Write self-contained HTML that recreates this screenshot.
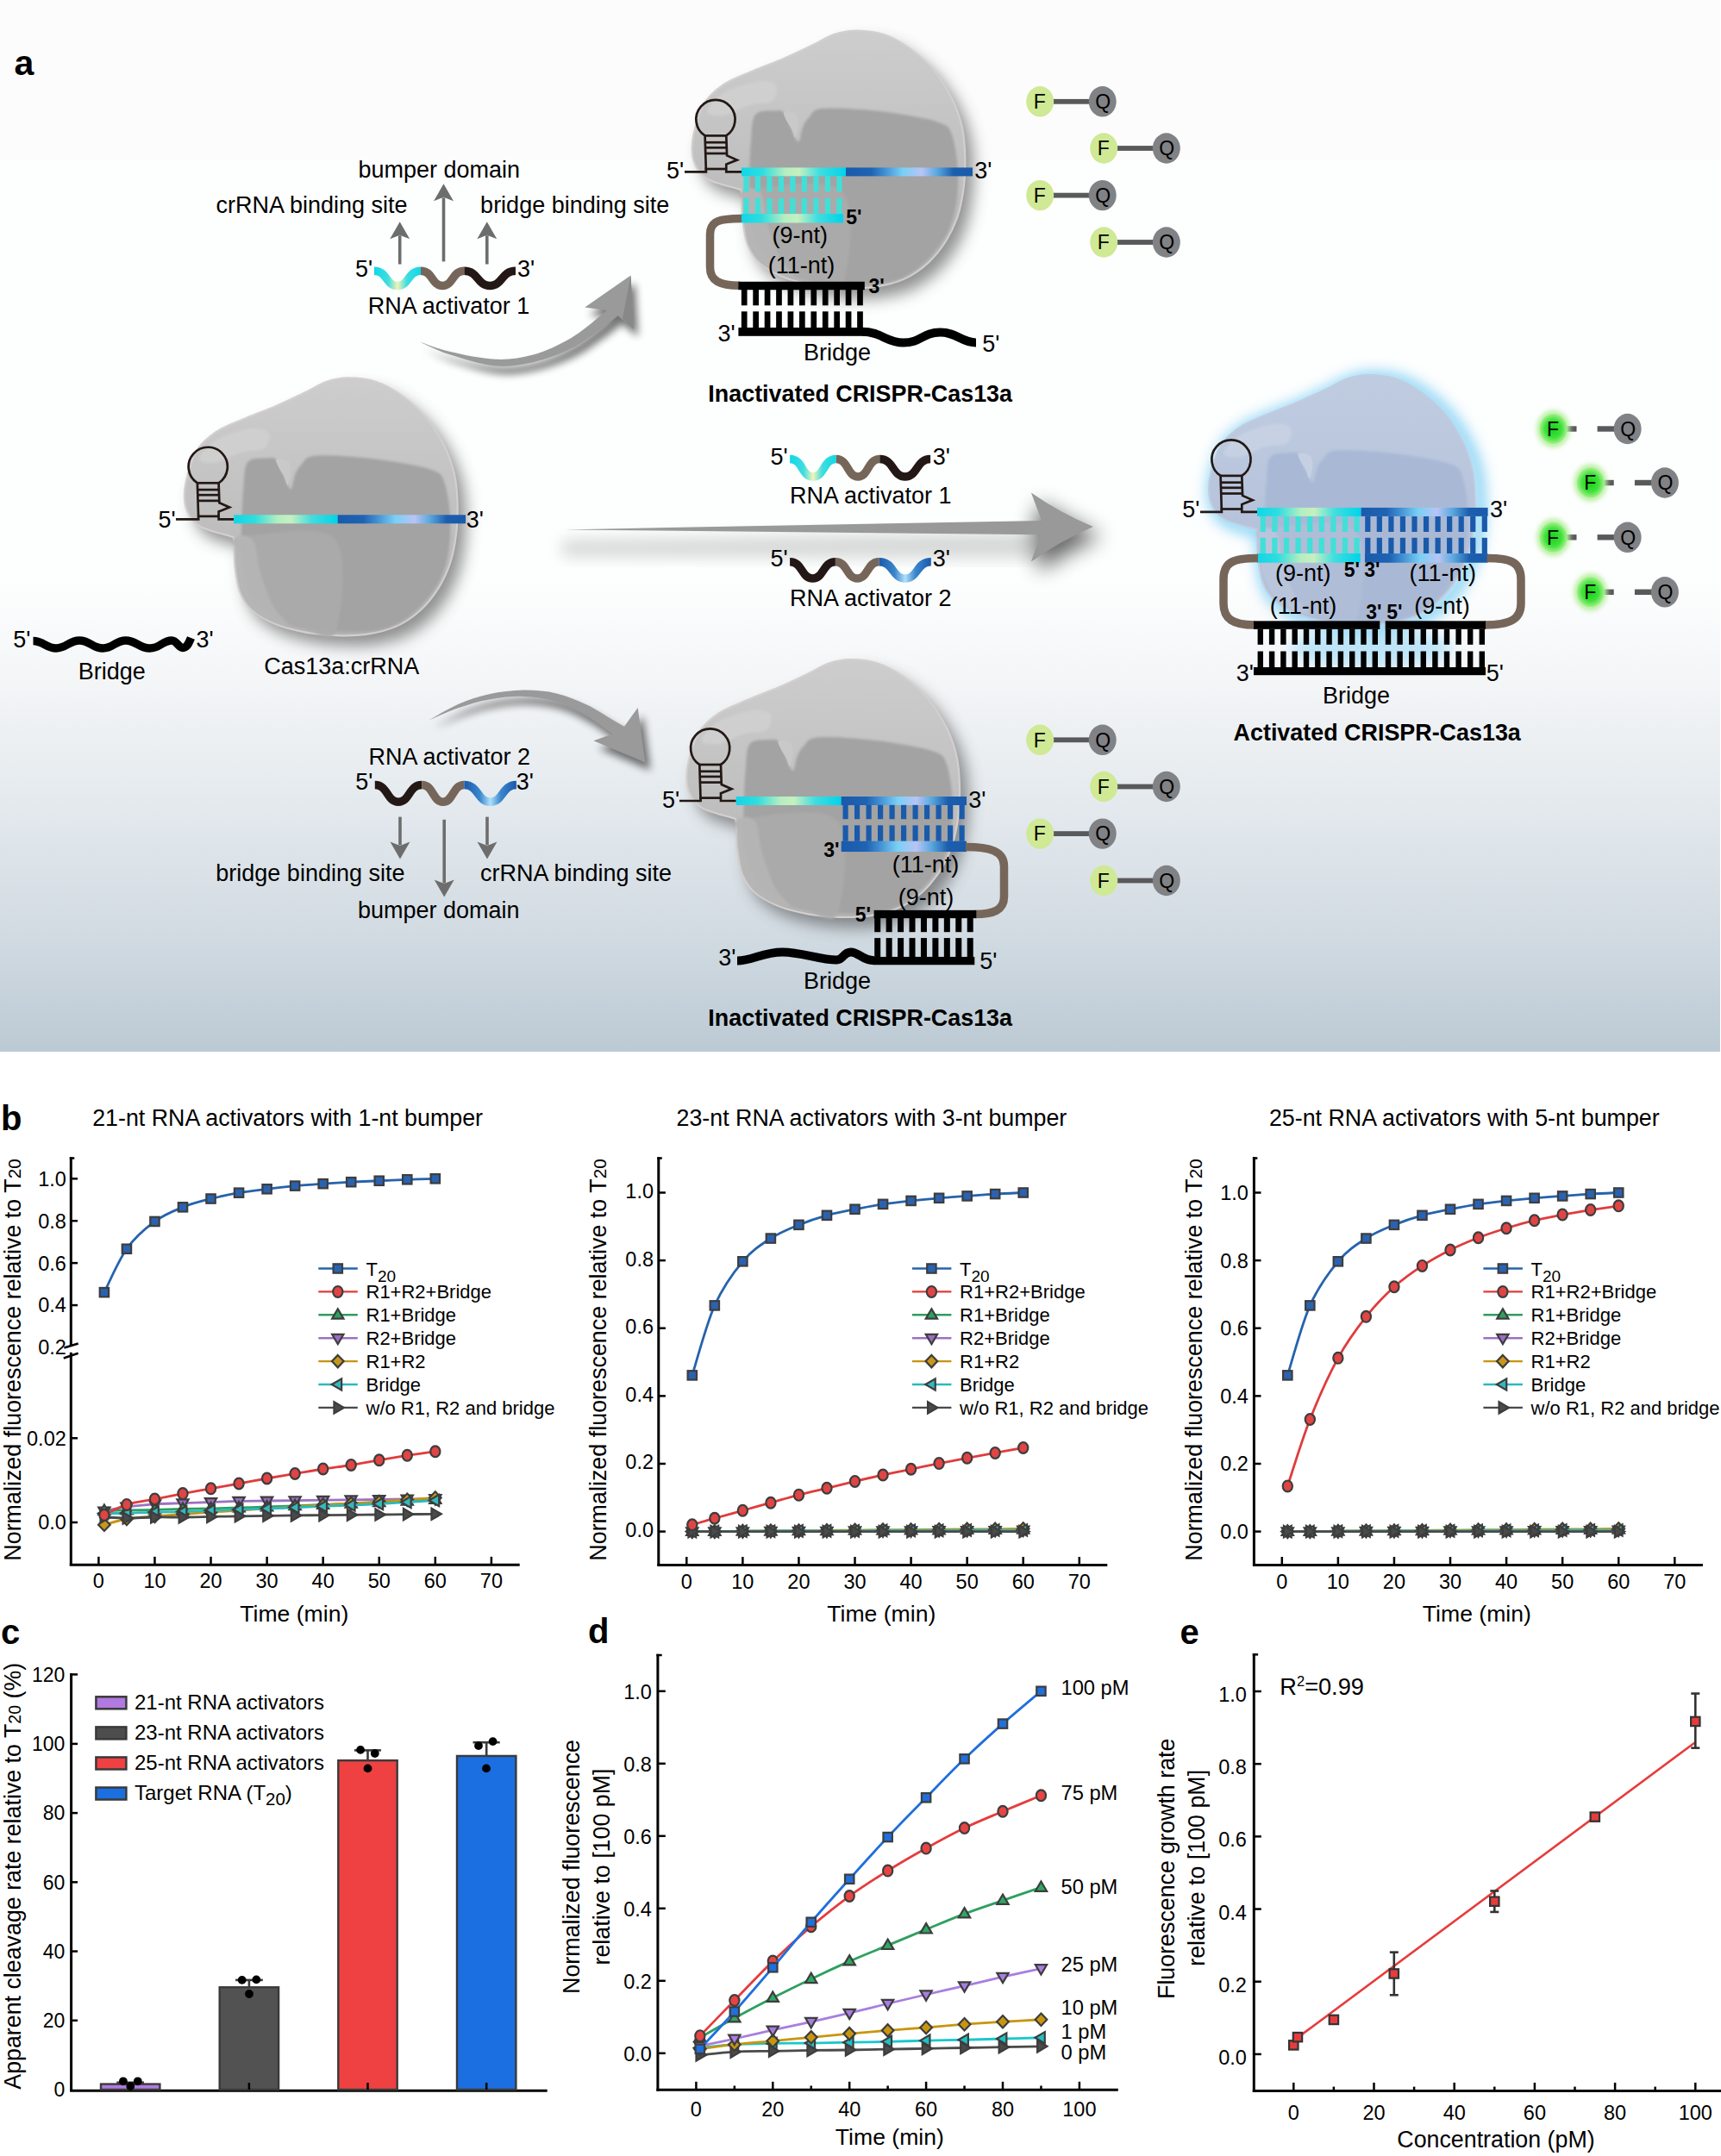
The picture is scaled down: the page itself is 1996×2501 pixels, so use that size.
<!DOCTYPE html><html><head><meta charset="utf-8"><title>Figure</title><style>html,body{margin:0;padding:0;background:#fff;}svg{display:block;}</style></head><body><svg width="1996" height="2501" viewBox="0 0 1996 2501" font-family='"Liberation Sans", Arial, sans-serif'><defs><linearGradient id="bgA" x1="0" y1="0" x2="0" y2="1"><stop offset="0" stop-color="#fdfefe"/><stop offset="0.55" stop-color="#fdfefe"/><stop offset="0.62" stop-color="#f7f8f9"/><stop offset="0.75" stop-color="#e6ebef"/><stop offset="0.88" stop-color="#d3dce3"/><stop offset="1" stop-color="#bccad4"/></linearGradient><filter id="shadow" x="-30%" y="-30%" width="160%" height="160%"><feGaussianBlur stdDeviation="9"/></filter><filter id="shadow2" x="-30%" y="-60%" width="160%" height="260%"><feGaussianBlur stdDeviation="5"/></filter><filter id="shadowH" x="-100%" y="-100%" width="300%" height="300%"><feGaussianBlur stdDeviation="12"/></filter><filter id="glow" x="-30%" y="-30%" width="160%" height="160%"><feGaussianBlur stdDeviation="8"/></filter><filter id="fglow" x="-60%" y="-60%" width="220%" height="220%"><feGaussianBlur stdDeviation="2.5"/></filter><filter id="soft" x="-10%" y="-10%" width="120%" height="120%"><feGaussianBlur stdDeviation="1.6"/></filter><linearGradient id="blobG" x1="0" y1="0" x2="0" y2="1"><stop offset="0" stop-color="#cdcdcd"/><stop offset="0.45" stop-color="#c2c2c2"/><stop offset="1" stop-color="#b2b2b2"/></linearGradient><linearGradient id="blobIn" x1="0" y1="0" x2="1" y2="1"><stop offset="0" stop-color="#a9a9a9"/><stop offset="1" stop-color="#a0a0a0"/></linearGradient><linearGradient id="blobGB" x1="0" y1="0" x2="0" y2="1"><stop offset="0" stop-color="#c0cce0"/><stop offset="0.45" stop-color="#b8c5dc"/><stop offset="1" stop-color="#aebcd5"/></linearGradient><linearGradient id="blobInB" x1="0" y1="0" x2="1" y2="1"><stop offset="0" stop-color="#adbad2"/><stop offset="1" stop-color="#a7b5cf"/></linearGradient><linearGradient id="cyanG" x1="0" y1="0" x2="1" y2="0"><stop offset="0" stop-color="#12d6e6"/><stop offset="0.2" stop-color="#2edde0"/><stop offset="0.42" stop-color="#b4eec0"/><stop offset="0.55" stop-color="#c6f0c0"/><stop offset="0.75" stop-color="#40dde0"/><stop offset="1" stop-color="#00d4e8"/></linearGradient><linearGradient id="blueG" x1="0" y1="0" x2="1" y2="0"><stop offset="0" stop-color="#1a5aab"/><stop offset="0.2" stop-color="#1f63b3"/><stop offset="0.3" stop-color="#3f8cd0"/><stop offset="0.45" stop-color="#79d0f6"/><stop offset="0.6" stop-color="#b8c4f4"/><stop offset="0.72" stop-color="#5aa8de"/><stop offset="0.85" stop-color="#1c5eae"/><stop offset="1" stop-color="#1a5aab"/></linearGradient><linearGradient id="cyanW" x1="0" y1="0" x2="1" y2="0"><stop offset="0" stop-color="#10d8e6"/><stop offset="0.3" stop-color="#40dde0"/><stop offset="0.5" stop-color="#f2f4b8"/><stop offset="0.7" stop-color="#40dde0"/><stop offset="1" stop-color="#10d8e6"/></linearGradient><linearGradient id="blueW" x1="0" y1="0" x2="1" y2="0"><stop offset="0" stop-color="#1a5aab"/><stop offset="0.3" stop-color="#3a86cc"/><stop offset="0.5" stop-color="#b0e0fa"/><stop offset="0.7" stop-color="#3a86cc"/><stop offset="1" stop-color="#1a5aab"/></linearGradient><linearGradient id="arrowG" x1="0" y1="0" x2="0" y2="1"><stop offset="0" stop-color="#bdbdbd"/><stop offset="0.5" stop-color="#9a9a9a"/><stop offset="1" stop-color="#8a8a8a"/></linearGradient><radialGradient id="fG" cx="0.5" cy="0.5" r="0.5"><stop offset="0" stop-color="#1ad21a"/><stop offset="0.6" stop-color="#3ee23a"/><stop offset="1" stop-color="#a6f08c"/></radialGradient></defs><rect width="1996" height="2501" fill="#fff"/><rect x="0" y="0" width="1995" height="1220" fill="url(#bgA)"/><rect x="0" y="0" width="1995" height="185" fill="#fdfcfd"/><path d="M652,626 L1200,617 L1200,648 L652,646 Z" fill="#000" opacity="0.15" filter="url(#shadow)"/><path d="M1190,600 L1195.9,571.4 Q1229,594.5 1267.9,611.1 Q1229,628 1195.9,651.6 L1190,625 Z" fill="#000" opacity="0.6" filter="url(#shadowH)" transform="translate(10,11)"/><path d="M655.1,614.4 L1208.1,603.9 L1195.9,571.4 Q1229,594.5 1267.9,611.1 Q1229,628 1195.9,651.6 L1206.9,620.2 Z" fill="#999999"/><path d="M485.7,395.9 C491.8,397.93 507.48,404.62 522.3,408.1 C537.12,411.58 558.62,416.22 574.6,416.8 C590.58,417.38 603.68,415.67 618.2,411.6 C632.72,407.53 648.63,399.97 661.7,392.4 C674.77,384.83 689.62,371.58 696.6,366.2 C703.58,360.82 702.43,361.12 703.6,360.1 L678.3,356.6 L731.5,319.5 L735,381.9 L716.6,366.2 L716.6,366.2 C713.27,368.82 705.75,375.5 696.6,381.9 C687.45,388.3 674.77,398.2 661.7,404.6 C648.63,411 632.72,416.97 618.2,420.3 C603.68,423.63 590.58,426.05 574.6,424.6 C558.62,423.15 537.12,416.38 522.3,411.6 C507.48,406.82 491.8,398.52 485.7,395.9 Z" fill="#000" opacity="0.55" filter="url(#shadow2)" transform="translate(5,9)"/><path d="M485.7,395.9 C491.8,397.93 507.48,404.62 522.3,408.1 C537.12,411.58 558.62,416.22 574.6,416.8 C590.58,417.38 603.68,415.67 618.2,411.6 C632.72,407.53 648.63,399.97 661.7,392.4 C674.77,384.83 689.62,371.58 696.6,366.2 C703.58,360.82 702.43,361.12 703.6,360.1 L678.3,356.6 L731.5,319.5 L735,381.9 L716.6,366.2 L716.6,366.2 C713.27,368.82 705.75,375.5 696.6,381.9 C687.45,388.3 674.77,398.2 661.7,404.6 C648.63,411 632.72,416.97 618.2,420.3 C603.68,423.63 590.58,426.05 574.6,424.6 C558.62,423.15 537.12,416.38 522.3,411.6 C507.48,406.82 491.8,398.52 485.7,395.9 Z" fill="#9a9a9a"/><path d="M731.5,319.5 L735,381.9 L722,370 Z" fill="#888"/><path d="M496.6,835.8 C502.55,832.6 520.53,821.68 532.3,816.6 C544.07,811.52 554.72,807.97 567.2,805.3 C579.68,802.63 594.13,800.75 607.2,800.6 C620.27,800.45 633.38,801.58 645.6,804.4 C657.82,807.22 669.47,812.27 680.5,817.5 C691.53,822.73 704.55,831.58 711.8,835.8 C719.05,840.02 721.97,841.63 724,842.8 L739.7,821 L748.4,884.6 L688.3,859.3 L710.1,851.5 L710.1,851.5 C705.17,848 691.25,836.75 680.5,830.5 C669.75,824.25 657.82,817.77 645.6,814 C633.38,810.23 620.27,808.33 607.2,807.9 C594.13,807.47 579.68,809.22 567.2,811.4 C554.72,813.58 544.07,816.93 532.3,821 C520.53,825.07 502.55,833.33 496.6,835.8 Z" fill="#000" opacity="0.55" filter="url(#shadow2)" transform="translate(6,9)"/><path d="M496.6,835.8 C502.55,832.6 520.53,821.68 532.3,816.6 C544.07,811.52 554.72,807.97 567.2,805.3 C579.68,802.63 594.13,800.75 607.2,800.6 C620.27,800.45 633.38,801.58 645.6,804.4 C657.82,807.22 669.47,812.27 680.5,817.5 C691.53,822.73 704.55,831.58 711.8,835.8 C719.05,840.02 721.97,841.63 724,842.8 L739.7,821 L748.4,884.6 L688.3,859.3 L710.1,851.5 L710.1,851.5 C705.17,848 691.25,836.75 680.5,830.5 C669.75,824.25 657.82,817.77 645.6,814 C633.38,810.23 620.27,808.33 607.2,807.9 C594.13,807.47 579.68,809.22 567.2,811.4 C554.72,813.58 544.07,816.93 532.3,821 C520.53,825.07 502.55,833.33 496.6,835.8 Z" fill="#9a9a9a"/><path d="M813.1,191.6 C812.33,185.02 812.17,178.08 814.3,168.4 C816.43,158.72 820.1,143.2 825.9,133.5 C831.7,123.8 839.42,116.78 849.1,110.2 C858.78,103.62 872.37,99.03 884,94 C895.63,88.97 907.28,85.03 918.9,80 C930.52,74.97 944.02,68.45 953.7,63.8 C963.38,59.15 968.87,54.82 977,52.1 C985.13,49.38 992.82,47.5 1002.5,47.5 C1012.18,47.5 1024.63,48.62 1035.1,52.1 C1045.57,55.58 1055.62,61.42 1065.3,68.4 C1074.98,75.38 1085.07,84.32 1093.2,94 C1101.33,103.68 1108.68,115.65 1114.1,126.5 C1119.52,137.35 1123.18,148.25 1125.7,159.1 C1128.22,169.95 1128.82,180.37 1129.2,191.6 C1129.58,202.83 1129.35,214.88 1128,226.5 C1126.65,238.12 1124.58,250.47 1121.1,261.3 C1117.62,272.13 1112.92,282.2 1107.1,291.5 C1101.28,300.8 1094.33,309.73 1086.2,317.1 C1078.07,324.47 1068.77,331.05 1058.3,335.7 C1047.83,340.35 1035.02,343.25 1023.4,345 C1011.78,346.75 1000.22,346.58 988.6,346.2 C976.98,345.82 965.32,344.83 953.7,342.7 C942.08,340.57 929.35,337.67 918.9,333.4 C908.45,329.13 897.98,323.3 891,317.1 C884.02,310.9 880.3,304.72 877,296.2 C873.7,287.68 872.37,276.07 871.2,266 C870.03,255.93 870.97,241.62 870,235.8 C869.03,229.98 868.88,232.65 865.4,231.1 C861.92,229.55 854.92,228.43 849.1,226.5 C843.28,224.57 835.53,222.6 830.5,219.5 C825.47,216.4 821.8,212.55 818.9,207.9 C816,203.25 813.87,198.18 813.1,191.6Z" fill="#4a4a4a" opacity="0.6" filter="url(#shadow)"/><path d="M803.1,179.6 C802.33,173.02 802.17,166.08 804.3,156.4 C806.43,146.72 810.1,131.2 815.9,121.5 C821.7,111.8 829.42,104.78 839.1,98.2 C848.78,91.62 862.37,87.03 874,82 C885.63,76.97 897.28,73.03 908.9,68 C920.52,62.97 934.02,56.45 943.7,51.8 C953.38,47.15 958.87,42.82 967,40.1 C975.13,37.38 982.82,35.5 992.5,35.5 C1002.18,35.5 1014.63,36.62 1025.1,40.1 C1035.57,43.58 1045.62,49.42 1055.3,56.4 C1064.98,63.38 1075.07,72.32 1083.2,82 C1091.33,91.68 1098.68,103.65 1104.1,114.5 C1109.52,125.35 1113.18,136.25 1115.7,147.1 C1118.22,157.95 1118.82,168.37 1119.2,179.6 C1119.58,190.83 1119.35,202.88 1118,214.5 C1116.65,226.12 1114.58,238.47 1111.1,249.3 C1107.62,260.13 1102.92,270.2 1097.1,279.5 C1091.28,288.8 1084.33,297.73 1076.2,305.1 C1068.07,312.47 1058.77,319.05 1048.3,323.7 C1037.83,328.35 1025.02,331.25 1013.4,333 C1001.78,334.75 990.22,334.58 978.6,334.2 C966.98,333.82 955.32,332.83 943.7,330.7 C932.08,328.57 919.35,325.67 908.9,321.4 C898.45,317.13 887.98,311.3 881,305.1 C874.02,298.9 870.3,292.72 867,284.2 C863.7,275.68 862.37,264.07 861.2,254 C860.03,243.93 860.97,229.62 860,223.8 C859.03,217.98 858.88,220.65 855.4,219.1 C851.92,217.55 844.92,216.43 839.1,214.5 C833.28,212.57 825.53,210.6 820.5,207.5 C815.47,204.4 811.8,200.55 808.9,195.9 C806,191.25 803.87,186.18 803.1,179.6Z" fill="url(#blobG)" stroke="#d4cfcf" stroke-width="2.2"/><path d="M876,133.1 C880.77,127.12 894.1,128.95 899.6,128.5 C905.1,128.05 906.27,127.75 909,130.4 C911.73,133.05 913.67,139.23 916,144.4 C918.33,149.57 921.17,158.23 923,161.4 C924.83,164.57 925.67,165.73 927,163.4 C928.33,161.07 929.17,151.9 931,147.4 C932.83,142.9 934.5,139.95 938,136.4 C941.5,132.85 941.37,127.62 952,126.1 C962.63,124.58 985.75,126.13 1001.8,127.3 C1017.85,128.47 1033.58,130.58 1048.3,133.1 C1063.02,135.62 1080.8,138.52 1090.1,142.4 C1099.4,146.28 1100.6,146.33 1104.1,156.4 C1107.6,166.47 1110.72,187.32 1111.1,202.8 C1111.48,218.28 1109.9,235.73 1106.4,249.3 C1102.9,262.87 1097.85,273.35 1090.1,284.2 C1082.35,295.05 1070.73,307.03 1059.9,314.4 C1049.07,321.77 1038.65,325.9 1025.1,328.4 C1011.55,330.9 992.78,330.07 978.6,329.4 C964.42,328.73 951.43,326.9 940,324.4 C928.57,321.9 918.67,318.9 910,314.4 C901.33,309.9 894,304.9 888,297.4 C882,289.9 877.17,279.9 874,269.4 C870.83,258.9 869.83,245.23 869,234.4 C868.17,223.57 868.67,216.07 869,204.4 C869.33,192.73 869.83,176.28 871,164.4 C872.17,152.52 871.23,139.08 876,133.1Z" fill="#a3a3a3" filter="url(#soft)"/><path d="M866,221.4 C884,218.4 957.33,203.4 976,221.4 C994.67,239.4 984,312.07 978,329.4 C972,346.73 951.33,327.73 940,325.4 C928.67,323.07 918.67,319.9 910,315.4 C901.33,310.9 894,305.9 888,298.4 C882,290.9 877.33,280.23 874,270.4 C870.67,260.57 869.33,247.57 868,239.4 C866.67,231.23 848,224.4 866,221.4Z" fill="#ababab" opacity="0.9" filter="url(#soft)"/><path d="M862,221.4 C865.17,216.73 877.33,217.07 882,223.4 C886.67,229.73 886.17,246.73 890,259.4 C893.83,272.07 899.67,289.07 905,299.4 C910.33,309.73 922.83,318.73 922,321.4 C921.17,324.07 906.67,318.4 900,315.4 C893.33,312.4 887.17,309.07 882,303.4 C876.83,297.73 872.17,290.07 869,281.4 C865.83,272.73 864.17,261.4 863,251.4 C861.83,241.4 858.83,226.07 862,221.4Z" fill="#b6b6b6" opacity="0.9" filter="url(#soft)"/><path d="M909,130.4 C909.67,128.73 913.5,128.9 916,129.4 C918.5,129.9 922.33,130.9 924,133.4 C925.67,135.9 926,140.73 926,144.4 C926,148.07 924.67,152.9 924,155.4 C923.33,157.9 923,160.4 922,159.4 C921,158.4 919.67,152.73 918,149.4 C916.33,146.07 913.5,142.57 912,139.4 C910.5,136.23 908.33,132.07 909,130.4Z" fill="#c9c9c9"/><path d="M820,129.4 C820,125.07 830,113.23 840,107.4 C850,101.57 870,95.73 880,94.4 C890,93.07 897.5,95.57 900,99.4 C902.5,103.23 900,113.73 895,117.4 C890,121.07 879.17,118.73 870,121.4 C860.83,124.07 848.33,132.07 840,133.4 C831.67,134.73 820,133.73 820,129.4Z" fill="#d2d2d2" opacity="0.8" filter="url(#soft)"/><path d="M224.4,594.5 C223.63,587.92 223.47,580.98 225.6,571.3 C227.73,561.62 231.4,546.1 237.2,536.4 C243,526.7 250.72,519.68 260.4,513.1 C270.08,506.52 283.67,501.93 295.3,496.9 C306.93,491.87 318.58,487.93 330.2,482.9 C341.82,477.87 355.32,471.35 365,466.7 C374.68,462.05 380.17,457.72 388.3,455 C396.43,452.28 404.12,450.4 413.8,450.4 C423.48,450.4 435.93,451.52 446.4,455 C456.87,458.48 466.92,464.32 476.6,471.3 C486.28,478.28 496.37,487.22 504.5,496.9 C512.63,506.58 519.98,518.55 525.4,529.4 C530.82,540.25 534.48,551.15 537,562 C539.52,572.85 540.12,583.27 540.5,594.5 C540.88,605.73 540.65,617.78 539.3,629.4 C537.95,641.02 535.88,653.37 532.4,664.2 C528.92,675.03 524.22,685.1 518.4,694.4 C512.58,703.7 505.63,712.63 497.5,720 C489.37,727.37 480.07,733.95 469.6,738.6 C459.13,743.25 446.32,746.15 434.7,747.9 C423.08,749.65 411.52,749.48 399.9,749.1 C388.28,748.72 376.62,747.73 365,745.6 C353.38,743.47 340.65,740.57 330.2,736.3 C319.75,732.03 309.28,726.2 302.3,720 C295.32,713.8 291.6,707.62 288.3,699.1 C285,690.58 283.67,678.97 282.5,668.9 C281.33,658.83 282.27,644.52 281.3,638.7 C280.33,632.88 280.18,635.55 276.7,634 C273.22,632.45 266.22,631.33 260.4,629.4 C254.58,627.47 246.83,625.5 241.8,622.4 C236.77,619.3 233.1,615.45 230.2,610.8 C227.3,606.15 225.17,601.08 224.4,594.5Z" fill="#4a4a4a" opacity="0.6" filter="url(#shadow)"/><path d="M214.4,582.5 C213.63,575.92 213.47,568.98 215.6,559.3 C217.73,549.62 221.4,534.1 227.2,524.4 C233,514.7 240.72,507.68 250.4,501.1 C260.08,494.52 273.67,489.93 285.3,484.9 C296.93,479.87 308.58,475.93 320.2,470.9 C331.82,465.87 345.32,459.35 355,454.7 C364.68,450.05 370.17,445.72 378.3,443 C386.43,440.28 394.12,438.4 403.8,438.4 C413.48,438.4 425.93,439.52 436.4,443 C446.87,446.48 456.92,452.32 466.6,459.3 C476.28,466.28 486.37,475.22 494.5,484.9 C502.63,494.58 509.98,506.55 515.4,517.4 C520.82,528.25 524.48,539.15 527,550 C529.52,560.85 530.12,571.27 530.5,582.5 C530.88,593.73 530.65,605.78 529.3,617.4 C527.95,629.02 525.88,641.37 522.4,652.2 C518.92,663.03 514.22,673.1 508.4,682.4 C502.58,691.7 495.63,700.63 487.5,708 C479.37,715.37 470.07,721.95 459.6,726.6 C449.13,731.25 436.32,734.15 424.7,735.9 C413.08,737.65 401.52,737.48 389.9,737.1 C378.28,736.72 366.62,735.73 355,733.6 C343.38,731.47 330.65,728.57 320.2,724.3 C309.75,720.03 299.28,714.2 292.3,708 C285.32,701.8 281.6,695.62 278.3,687.1 C275,678.58 273.67,666.97 272.5,656.9 C271.33,646.83 272.27,632.52 271.3,626.7 C270.33,620.88 270.18,623.55 266.7,622 C263.22,620.45 256.22,619.33 250.4,617.4 C244.58,615.47 236.83,613.5 231.8,610.4 C226.77,607.3 223.1,603.45 220.2,598.8 C217.3,594.15 215.17,589.08 214.4,582.5Z" fill="url(#blobG)" stroke="#d4cfcf" stroke-width="2.2"/><path d="M287.3,536 C292.07,530.02 305.4,531.85 310.9,531.4 C316.4,530.95 317.57,530.65 320.3,533.3 C323.03,535.95 324.97,542.13 327.3,547.3 C329.63,552.47 332.47,561.13 334.3,564.3 C336.13,567.47 336.97,568.63 338.3,566.3 C339.63,563.97 340.47,554.8 342.3,550.3 C344.13,545.8 345.8,542.85 349.3,539.3 C352.8,535.75 352.67,530.52 363.3,529 C373.93,527.48 397.05,529.03 413.1,530.2 C429.15,531.37 444.88,533.48 459.6,536 C474.32,538.52 492.1,541.42 501.4,545.3 C510.7,549.18 511.9,549.23 515.4,559.3 C518.9,569.37 522.02,590.22 522.4,605.7 C522.78,621.18 521.2,638.63 517.7,652.2 C514.2,665.77 509.15,676.25 501.4,687.1 C493.65,697.95 482.03,709.93 471.2,717.3 C460.37,724.67 449.95,728.8 436.4,731.3 C422.85,733.8 404.08,732.97 389.9,732.3 C375.72,731.63 362.73,729.8 351.3,727.3 C339.87,724.8 329.97,721.8 321.3,717.3 C312.63,712.8 305.3,707.8 299.3,700.3 C293.3,692.8 288.47,682.8 285.3,672.3 C282.13,661.8 281.13,648.13 280.3,637.3 C279.47,626.47 279.97,618.97 280.3,607.3 C280.63,595.63 281.13,579.18 282.3,567.3 C283.47,555.42 282.53,541.98 287.3,536Z" fill="#a3a3a3" filter="url(#soft)"/><path d="M277.3,624.3 C295.3,621.3 368.63,606.3 387.3,624.3 C405.97,642.3 395.3,714.97 389.3,732.3 C383.3,749.63 362.63,730.63 351.3,728.3 C339.97,725.97 329.97,722.8 321.3,718.3 C312.63,713.8 305.3,708.8 299.3,701.3 C293.3,693.8 288.63,683.13 285.3,673.3 C281.97,663.47 280.63,650.47 279.3,642.3 C277.97,634.13 259.3,627.3 277.3,624.3Z" fill="#ababab" opacity="0.9" filter="url(#soft)"/><path d="M273.3,624.3 C276.47,619.63 288.63,619.97 293.3,626.3 C297.97,632.63 297.47,649.63 301.3,662.3 C305.13,674.97 310.97,691.97 316.3,702.3 C321.63,712.63 334.13,721.63 333.3,724.3 C332.47,726.97 317.97,721.3 311.3,718.3 C304.63,715.3 298.47,711.97 293.3,706.3 C288.13,700.63 283.47,692.97 280.3,684.3 C277.13,675.63 275.47,664.3 274.3,654.3 C273.13,644.3 270.13,628.97 273.3,624.3Z" fill="#b6b6b6" opacity="0.9" filter="url(#soft)"/><path d="M320.3,533.3 C320.97,531.63 324.8,531.8 327.3,532.3 C329.8,532.8 333.63,533.8 335.3,536.3 C336.97,538.8 337.3,543.63 337.3,547.3 C337.3,550.97 335.97,555.8 335.3,558.3 C334.63,560.8 334.3,563.3 333.3,562.3 C332.3,561.3 330.97,555.63 329.3,552.3 C327.63,548.97 324.8,545.47 323.3,542.3 C321.8,539.13 319.63,534.97 320.3,533.3Z" fill="#c9c9c9"/><path d="M231.3,532.3 C231.3,527.97 241.3,516.13 251.3,510.3 C261.3,504.47 281.3,498.63 291.3,497.3 C301.3,495.97 308.8,498.47 311.3,502.3 C313.8,506.13 311.3,516.63 306.3,520.3 C301.3,523.97 290.47,521.63 281.3,524.3 C272.13,526.97 259.63,534.97 251.3,536.3 C242.97,537.63 231.3,536.63 231.3,532.3Z" fill="#d2d2d2" opacity="0.8" filter="url(#soft)"/><path d="M806.8,921.2 C806.03,914.62 805.87,907.68 808,898 C810.13,888.32 813.8,872.8 819.6,863.1 C825.4,853.4 833.12,846.38 842.8,839.8 C852.48,833.22 866.07,828.63 877.7,823.6 C889.33,818.57 900.98,814.63 912.6,809.6 C924.22,804.57 937.72,798.05 947.4,793.4 C957.08,788.75 962.57,784.42 970.7,781.7 C978.83,778.98 986.52,777.1 996.2,777.1 C1005.88,777.1 1018.33,778.22 1028.8,781.7 C1039.27,785.18 1049.32,791.02 1059,798 C1068.68,804.98 1078.77,813.92 1086.9,823.6 C1095.03,833.28 1102.38,845.25 1107.8,856.1 C1113.22,866.95 1116.88,877.85 1119.4,888.7 C1121.92,899.55 1122.52,909.97 1122.9,921.2 C1123.28,932.43 1123.05,944.48 1121.7,956.1 C1120.35,967.72 1118.28,980.07 1114.8,990.9 C1111.32,1001.73 1106.62,1011.8 1100.8,1021.1 C1094.98,1030.4 1088.03,1039.33 1079.9,1046.7 C1071.77,1054.07 1062.47,1060.65 1052,1065.3 C1041.53,1069.95 1028.72,1072.85 1017.1,1074.6 C1005.48,1076.35 993.92,1076.18 982.3,1075.8 C970.68,1075.42 959.02,1074.43 947.4,1072.3 C935.78,1070.17 923.05,1067.27 912.6,1063 C902.15,1058.73 891.68,1052.9 884.7,1046.7 C877.72,1040.5 874,1034.32 870.7,1025.8 C867.4,1017.28 866.07,1005.67 864.9,995.6 C863.73,985.53 864.67,971.22 863.7,965.4 C862.73,959.58 862.58,962.25 859.1,960.7 C855.62,959.15 848.62,958.03 842.8,956.1 C836.98,954.17 829.23,952.2 824.2,949.1 C819.17,946 815.5,942.15 812.6,937.5 C809.7,932.85 807.57,927.78 806.8,921.2Z" fill="#4a4a4a" opacity="0.6" filter="url(#shadow)"/><path d="M796.8,909.2 C796.03,902.62 795.87,895.68 798,886 C800.13,876.32 803.8,860.8 809.6,851.1 C815.4,841.4 823.12,834.38 832.8,827.8 C842.48,821.22 856.07,816.63 867.7,811.6 C879.33,806.57 890.98,802.63 902.6,797.6 C914.22,792.57 927.72,786.05 937.4,781.4 C947.08,776.75 952.57,772.42 960.7,769.7 C968.83,766.98 976.52,765.1 986.2,765.1 C995.88,765.1 1008.33,766.22 1018.8,769.7 C1029.27,773.18 1039.32,779.02 1049,786 C1058.68,792.98 1068.77,801.92 1076.9,811.6 C1085.03,821.28 1092.38,833.25 1097.8,844.1 C1103.22,854.95 1106.88,865.85 1109.4,876.7 C1111.92,887.55 1112.52,897.97 1112.9,909.2 C1113.28,920.43 1113.05,932.48 1111.7,944.1 C1110.35,955.72 1108.28,968.07 1104.8,978.9 C1101.32,989.73 1096.62,999.8 1090.8,1009.1 C1084.98,1018.4 1078.03,1027.33 1069.9,1034.7 C1061.77,1042.07 1052.47,1048.65 1042,1053.3 C1031.53,1057.95 1018.72,1060.85 1007.1,1062.6 C995.48,1064.35 983.92,1064.18 972.3,1063.8 C960.68,1063.42 949.02,1062.43 937.4,1060.3 C925.78,1058.17 913.05,1055.27 902.6,1051 C892.15,1046.73 881.68,1040.9 874.7,1034.7 C867.72,1028.5 864,1022.32 860.7,1013.8 C857.4,1005.28 856.07,993.67 854.9,983.6 C853.73,973.53 854.67,959.22 853.7,953.4 C852.73,947.58 852.58,950.25 849.1,948.7 C845.62,947.15 838.62,946.03 832.8,944.1 C826.98,942.17 819.23,940.2 814.2,937.1 C809.17,934 805.5,930.15 802.6,925.5 C799.7,920.85 797.57,915.78 796.8,909.2Z" fill="url(#blobG)" stroke="#d4cfcf" stroke-width="2.2"/><path d="M869.7,862.7 C874.47,856.72 887.8,858.55 893.3,858.1 C898.8,857.65 899.97,857.35 902.7,860 C905.43,862.65 907.37,868.83 909.7,874 C912.03,879.17 914.87,887.83 916.7,891 C918.53,894.17 919.37,895.33 920.7,893 C922.03,890.67 922.87,881.5 924.7,877 C926.53,872.5 928.2,869.55 931.7,866 C935.2,862.45 935.07,857.22 945.7,855.7 C956.33,854.18 979.45,855.73 995.5,856.9 C1011.55,858.07 1027.28,860.18 1042,862.7 C1056.72,865.22 1074.5,868.12 1083.8,872 C1093.1,875.88 1094.3,875.93 1097.8,886 C1101.3,896.07 1104.42,916.92 1104.8,932.4 C1105.18,947.88 1103.6,965.33 1100.1,978.9 C1096.6,992.47 1091.55,1002.95 1083.8,1013.8 C1076.05,1024.65 1064.43,1036.63 1053.6,1044 C1042.77,1051.37 1032.35,1055.5 1018.8,1058 C1005.25,1060.5 986.48,1059.67 972.3,1059 C958.12,1058.33 945.13,1056.5 933.7,1054 C922.27,1051.5 912.37,1048.5 903.7,1044 C895.03,1039.5 887.7,1034.5 881.7,1027 C875.7,1019.5 870.87,1009.5 867.7,999 C864.53,988.5 863.53,974.83 862.7,964 C861.87,953.17 862.37,945.67 862.7,934 C863.03,922.33 863.53,905.88 864.7,894 C865.87,882.12 864.93,868.68 869.7,862.7Z" fill="#a3a3a3" filter="url(#soft)"/><path d="M859.7,951 C877.7,948 951.03,933 969.7,951 C988.37,969 977.7,1041.67 971.7,1059 C965.7,1076.33 945.03,1057.33 933.7,1055 C922.37,1052.67 912.37,1049.5 903.7,1045 C895.03,1040.5 887.7,1035.5 881.7,1028 C875.7,1020.5 871.03,1009.83 867.7,1000 C864.37,990.17 863.03,977.17 861.7,969 C860.37,960.83 841.7,954 859.7,951Z" fill="#ababab" opacity="0.9" filter="url(#soft)"/><path d="M855.7,951 C858.87,946.33 871.03,946.67 875.7,953 C880.37,959.33 879.87,976.33 883.7,989 C887.53,1001.67 893.37,1018.67 898.7,1029 C904.03,1039.33 916.53,1048.33 915.7,1051 C914.87,1053.67 900.37,1048 893.7,1045 C887.03,1042 880.87,1038.67 875.7,1033 C870.53,1027.33 865.87,1019.67 862.7,1011 C859.53,1002.33 857.87,991 856.7,981 C855.53,971 852.53,955.67 855.7,951Z" fill="#b6b6b6" opacity="0.9" filter="url(#soft)"/><path d="M902.7,860 C903.37,858.33 907.2,858.5 909.7,859 C912.2,859.5 916.03,860.5 917.7,863 C919.37,865.5 919.7,870.33 919.7,874 C919.7,877.67 918.37,882.5 917.7,885 C917.03,887.5 916.7,890 915.7,889 C914.7,888 913.37,882.33 911.7,879 C910.03,875.67 907.2,872.17 905.7,869 C904.2,865.83 902.03,861.67 902.7,860Z" fill="#c9c9c9"/><path d="M813.7,859 C813.7,854.67 823.7,842.83 833.7,837 C843.7,831.17 863.7,825.33 873.7,824 C883.7,822.67 891.2,825.17 893.7,829 C896.2,832.83 893.7,843.33 888.7,847 C883.7,850.67 872.87,848.33 863.7,851 C854.53,853.67 842.03,861.67 833.7,863 C825.37,864.33 813.7,863.33 813.7,859Z" fill="#d2d2d2" opacity="0.8" filter="url(#soft)"/><path d="M1407.52,577.69 C1406.78,571.31 1406.61,564.58 1408.69,555.19 C1410.77,545.8 1414.35,530.75 1420,521.34 C1425.66,511.93 1433.18,505.12 1442.62,498.74 C1452.06,492.35 1465.31,487.9 1476.65,483.02 C1487.99,478.14 1499.35,474.32 1510.68,469.44 C1522,464.56 1535.17,458.24 1544.61,453.73 C1554.05,449.22 1559.39,445.01 1567.33,442.38 C1575.26,439.74 1582.75,437.92 1592.19,437.92 C1601.63,437.92 1613.77,439 1623.97,442.38 C1634.18,445.76 1643.98,451.42 1653.42,458.19 C1662.86,464.96 1672.69,473.63 1680.62,483.02 C1688.55,492.41 1695.72,504.02 1701,514.55 C1706.28,525.07 1709.85,535.64 1712.31,546.17 C1714.76,556.69 1715.35,566.8 1715.72,577.69 C1716.09,588.59 1715.87,600.28 1714.55,611.55 C1713.23,622.82 1711.22,634.79 1707.82,645.3 C1704.43,655.81 1699.84,665.58 1694.17,674.6 C1688.5,683.62 1681.73,692.28 1673.8,699.43 C1665.87,706.57 1656.8,712.96 1646.59,717.47 C1636.39,721.98 1623.89,724.79 1612.57,726.49 C1601.24,728.19 1589.96,728.03 1578.63,727.66 C1567.31,727.28 1555.93,726.33 1544.61,724.26 C1533.28,722.19 1520.87,719.38 1510.68,715.24 C1500.49,711.1 1490.28,705.44 1483.47,699.43 C1476.67,693.41 1473.04,687.42 1469.83,679.16 C1466.61,670.89 1465.31,659.63 1464.17,649.86 C1463.03,640.1 1463.94,626.21 1463,620.57 C1462.06,614.93 1461.91,617.51 1458.52,616.01 C1455.12,614.51 1448.29,613.42 1442.62,611.55 C1436.95,609.67 1429.39,607.76 1424.49,604.76 C1419.58,601.75 1416.01,598.02 1413.18,593.5 C1410.35,588.99 1408.27,584.08 1407.52,577.69Z" fill="none" stroke="#6cc8f2" stroke-width="14" opacity="0.85" filter="url(#glow)"/><path d="M1402.52,574.69 C1401.78,568.31 1401.61,561.58 1403.69,552.19 C1405.77,542.8 1409.35,527.75 1415,518.34 C1420.66,508.93 1428.18,502.12 1437.62,495.74 C1447.06,489.35 1460.31,484.9 1471.65,480.02 C1482.99,475.14 1494.35,471.32 1505.68,466.44 C1517,461.56 1530.17,455.24 1539.61,450.73 C1549.05,446.22 1554.39,442.01 1562.33,439.38 C1570.26,436.74 1577.75,434.92 1587.19,434.92 C1596.63,434.92 1608.77,436 1618.97,439.38 C1629.18,442.76 1638.98,448.42 1648.42,455.19 C1657.86,461.96 1667.69,470.63 1675.62,480.02 C1683.55,489.41 1690.72,501.02 1696,511.55 C1701.28,522.07 1704.85,532.64 1707.31,543.17 C1709.76,553.69 1710.35,563.8 1710.72,574.69 C1711.09,585.59 1710.87,597.28 1709.55,608.55 C1708.23,619.82 1706.22,631.79 1702.82,642.3 C1699.43,652.81 1694.84,662.58 1689.17,671.6 C1683.5,680.62 1676.73,689.28 1668.8,696.43 C1660.87,703.57 1651.8,709.96 1641.59,714.47 C1631.39,718.98 1618.89,721.79 1607.57,723.49 C1596.24,725.19 1584.96,725.03 1573.63,724.66 C1562.31,724.28 1550.93,723.33 1539.61,721.26 C1528.28,719.19 1515.87,716.38 1505.68,712.24 C1495.49,708.1 1485.28,702.44 1478.47,696.43 C1471.67,690.41 1468.04,684.42 1464.83,676.16 C1461.61,667.89 1460.31,656.63 1459.17,646.86 C1458.03,637.1 1458.94,623.21 1458,617.57 C1457.06,611.93 1456.91,614.51 1453.52,613.01 C1450.12,611.51 1443.29,610.42 1437.62,608.55 C1431.95,606.67 1424.39,604.76 1419.49,601.76 C1414.58,598.75 1411.01,595.02 1408.18,590.5 C1405.35,585.99 1403.27,581.08 1402.52,574.69Z" fill="url(#blobGB)" stroke="#c0cce0" stroke-width="2"/><path d="M1473.6,529.59 C1478.25,523.79 1491.25,525.56 1496.61,525.13 C1501.97,524.69 1503.11,524.4 1505.78,526.97 C1508.44,529.54 1510.32,535.54 1512.6,540.55 C1514.88,545.56 1517.64,553.97 1519.42,557.04 C1521.21,560.11 1522.03,561.24 1523.33,558.98 C1524.62,556.72 1525.44,547.83 1527.22,543.46 C1529.01,539.1 1530.64,536.23 1534.05,532.79 C1537.46,529.35 1537.33,524.27 1547.7,522.8 C1558.07,521.33 1580.61,522.83 1596.26,523.96 C1611.9,525.09 1627.24,527.15 1641.59,529.59 C1655.94,532.03 1673.28,534.84 1682.35,538.61 C1691.41,542.38 1692.59,542.43 1696,552.19 C1699.41,561.95 1702.45,582.18 1702.82,597.2 C1703.2,612.22 1701.65,629.14 1698.24,642.3 C1694.83,655.46 1689.9,665.63 1682.35,676.16 C1674.79,686.68 1663.46,698.3 1652.9,705.45 C1642.34,712.6 1632.18,716.61 1618.97,719.03 C1605.76,721.45 1587.46,720.65 1573.63,720 C1559.81,719.35 1547.15,717.58 1536,715.15 C1524.85,712.72 1515.2,709.81 1506.75,705.45 C1498.3,701.08 1491.15,696.24 1485.3,688.96 C1479.45,681.69 1474.74,671.98 1471.65,661.8 C1468.56,651.62 1467.59,638.36 1466.78,627.85 C1465.96,617.34 1466.45,610.07 1466.78,598.75 C1467.1,587.43 1467.59,571.48 1468.72,559.95 C1469.86,548.42 1468.95,535.39 1473.6,529.59Z" fill="#a9b9d5" filter="url(#soft)"/><path d="M1463.85,615.24 C1481.4,612.33 1552.9,597.78 1571.1,615.24 C1589.3,632.7 1578.9,703.19 1573.05,720 C1567.2,736.81 1547.05,718.38 1536,716.12 C1524.95,713.86 1515.2,710.78 1506.75,706.42 C1498.3,702.05 1491.15,697.2 1485.3,689.93 C1479.45,682.65 1474.9,672.31 1471.65,662.77 C1468.4,653.23 1467.1,640.62 1465.8,632.7 C1464.5,624.78 1446.3,618.15 1463.85,615.24Z" fill="#b1bfd8" opacity="0.8" filter="url(#soft)"/><path d="M1459.95,615.24 C1463.04,610.71 1474.9,611.04 1479.45,617.18 C1484,623.32 1483.51,639.81 1487.25,652.1 C1490.99,664.39 1496.67,680.88 1501.88,690.9 C1507.08,700.92 1519.26,709.65 1518.45,712.24 C1517.64,714.83 1503.5,709.33 1497,706.42 C1490.5,703.51 1484.49,700.28 1479.45,694.78 C1474.41,689.28 1469.86,681.85 1466.78,673.44 C1463.69,665.03 1462.06,654.04 1460.92,644.34 C1459.79,634.64 1456.86,619.77 1459.95,615.24Z" fill="#bcc7dc" opacity="0.8" filter="url(#soft)"/><path d="M1505.78,526.97 C1506.43,525.35 1510.16,525.51 1512.6,526 C1515.04,526.49 1518.78,527.46 1520.4,529.88 C1522.03,532.3 1522.35,536.99 1522.35,540.55 C1522.35,544.11 1521.05,548.8 1520.4,551.22 C1519.75,553.64 1519.43,556.07 1518.45,555.1 C1517.47,554.13 1516.17,548.63 1514.55,545.4 C1512.92,542.17 1510.16,538.77 1508.7,535.7 C1507.24,532.63 1505.12,528.59 1505.78,526.97Z" fill="#c6d0e3"/><path d="M1419,526 C1419,521.8 1428.75,510.32 1438.5,504.66 C1448.25,499 1467.75,493.34 1477.5,492.05 C1487.25,490.76 1494.56,493.18 1497,496.9 C1499.44,500.62 1497,510.8 1492.12,514.36 C1487.25,517.92 1476.69,515.65 1467.75,518.24 C1458.81,520.83 1446.62,528.59 1438.5,529.88 C1430.38,531.17 1419,530.2 1419,526Z" fill="#ccd5e6" opacity="0.7" filter="url(#soft)"/><g fill="none" stroke="#231815" stroke-width="2.7"><path d="M794,199.4 L818.9,199.4 L817.6,157.4 A22.6,22.6 0 1 1 842.3,157.4 L843.1,180.4 L854.8,185.6 L842.3,190.6 L842.3,199.4 L860,199.4"/><line x1="817.6" y1="157.4" x2="842.3" y2="157.4"/><line x1="817.6" y1="165.2" x2="842.3" y2="165.2"/><line x1="817.6" y1="171.3" x2="842.3" y2="171.3"/><line x1="817.6" y1="178" x2="842.3" y2="178"/><line x1="817.6" y1="196" x2="842.3" y2="196"/></g><rect x="860" y="194.4" width="121" height="10" fill="url(#cyanG)"/><rect x="981" y="194.4" width="147" height="10" fill="url(#blueG)"/><rect x="862.3" y="204.3" width="6.2" height="18.1" fill="#40e0d8"/><rect x="875.8" y="204.3" width="6.2" height="18.1" fill="#40e0d8"/><rect x="889.3" y="204.3" width="6.2" height="18.1" fill="#40e0d8"/><rect x="902.8" y="204.3" width="6.2" height="18.1" fill="#40e0d8"/><rect x="916.3" y="204.3" width="6.2" height="18.1" fill="#40e0d8"/><rect x="929.8" y="204.3" width="6.2" height="18.1" fill="#40e0d8"/><rect x="943.3" y="204.3" width="6.2" height="18.1" fill="#40e0d8"/><rect x="956.8" y="204.3" width="6.2" height="18.1" fill="#40e0d8"/><rect x="970.3" y="204.3" width="6.2" height="18.1" fill="#40e0d8"/><rect x="862.3" y="229.8" width="6.2" height="18.2" fill="#40e0d8"/><rect x="875.8" y="229.8" width="6.2" height="18.2" fill="#40e0d8"/><rect x="889.3" y="229.8" width="6.2" height="18.2" fill="#40e0d8"/><rect x="902.8" y="229.8" width="6.2" height="18.2" fill="#40e0d8"/><rect x="916.3" y="229.8" width="6.2" height="18.2" fill="#40e0d8"/><rect x="929.8" y="229.8" width="6.2" height="18.2" fill="#40e0d8"/><rect x="943.3" y="229.8" width="6.2" height="18.2" fill="#40e0d8"/><rect x="956.8" y="229.8" width="6.2" height="18.2" fill="#40e0d8"/><rect x="970.3" y="229.8" width="6.2" height="18.2" fill="#40e0d8"/><rect x="860" y="248.1" width="118" height="10.4" fill="url(#cyanG)"/><path d="M860,253.5 C835,253.5 823.5,256 823.5,272 L823.5,310 C823.5,326 835,331.3 858,331.3" fill="none" stroke="#76665a" stroke-width="9.5"/><rect x="856.4" y="326.75" width="146.4" height="9.5" fill="#000"/><rect x="859.85" y="336" width="6.7" height="18.3" fill="#000"/><rect x="873.28" y="336" width="6.7" height="18.3" fill="#000"/><rect x="886.71" y="336" width="6.7" height="18.3" fill="#000"/><rect x="900.14" y="336" width="6.7" height="18.3" fill="#000"/><rect x="913.57" y="336" width="6.7" height="18.3" fill="#000"/><rect x="927" y="336" width="6.7" height="18.3" fill="#000"/><rect x="940.43" y="336" width="6.7" height="18.3" fill="#000"/><rect x="953.86" y="336" width="6.7" height="18.3" fill="#000"/><rect x="967.29" y="336" width="6.7" height="18.3" fill="#000"/><rect x="980.72" y="336" width="6.7" height="18.3" fill="#000"/><rect x="994.15" y="336" width="6.7" height="18.3" fill="#000"/><rect x="859.85" y="361.3" width="6.7" height="18.9" fill="#000"/><rect x="873.28" y="361.3" width="6.7" height="18.9" fill="#000"/><rect x="886.71" y="361.3" width="6.7" height="18.9" fill="#000"/><rect x="900.14" y="361.3" width="6.7" height="18.9" fill="#000"/><rect x="913.57" y="361.3" width="6.7" height="18.9" fill="#000"/><rect x="927" y="361.3" width="6.7" height="18.9" fill="#000"/><rect x="940.43" y="361.3" width="6.7" height="18.9" fill="#000"/><rect x="953.86" y="361.3" width="6.7" height="18.9" fill="#000"/><rect x="967.29" y="361.3" width="6.7" height="18.9" fill="#000"/><rect x="980.72" y="361.3" width="6.7" height="18.9" fill="#000"/><rect x="994.15" y="361.3" width="6.7" height="18.9" fill="#000"/><rect x="856.4" y="380" width="146.6" height="9.8" fill="#000"/><path d="M1000,384.8 C1022,384.8 1028,397.5 1047.8,397.5 C1068,397.5 1070,385.5 1090.5,385.5 C1110,385.5 1115,397.5 1132,397.5" fill="none" stroke="#000" stroke-width="10"/><g fill="none" stroke="#231815" stroke-width="2.7"><path d="M204,602.3 L230.2,602.3 L228.9,560.3 A22.6,22.6 0 1 1 253.6,560.3 L254.4,583.3 L266.1,588.5 L253.6,593.5 L253.6,602.3 L271.3,602.3"/><line x1="228.9" y1="560.3" x2="253.6" y2="560.3"/><line x1="228.9" y1="568.1" x2="253.6" y2="568.1"/><line x1="228.9" y1="574.2" x2="253.6" y2="574.2"/><line x1="228.9" y1="580.9" x2="253.6" y2="580.9"/><line x1="228.9" y1="598.9" x2="253.6" y2="598.9"/></g><rect x="271.3" y="597.3" width="120.4" height="10" fill="url(#cyanG)"/><rect x="391.7" y="597.3" width="148.4" height="10" fill="url(#blueG)"/><path d="M38.5,743.5 C50,743.5 54,752 65,752 C77,752 80,743 92.2,743 C104.5,743 107,752 119.4,752 C131,752 134,743 145.8,743 C158,743 161,752 173.7,752 C186,752 188,743 199.4,743 C205,743 207,751.5 212,751.5 C217,751.5 219,746 221.5,740" fill="none" stroke="#000" stroke-width="9.5"/><g fill="none" stroke="#231815" stroke-width="2.7"><path d="M788,929 L812.6,929 L811.3,887 A22.6,22.6 0 1 1 836,887 L836.8,910 L848.5,915.2 L836,920.2 L836,929 L853.7,929"/><line x1="811.3" y1="887" x2="836" y2="887"/><line x1="811.3" y1="894.8" x2="836" y2="894.8"/><line x1="811.3" y1="900.9" x2="836" y2="900.9"/><line x1="811.3" y1="907.6" x2="836" y2="907.6"/><line x1="811.3" y1="925.6" x2="836" y2="925.6"/></g><rect x="853.7" y="924" width="122" height="10" fill="url(#cyanG)"/><rect x="975.7" y="924" width="145.3" height="10" fill="url(#blueG)"/><rect x="977.5" y="933.8" width="6.2" height="16.4" fill="#1a5aab"/><rect x="991" y="933.8" width="6.2" height="16.4" fill="#1a5aab"/><rect x="1004.5" y="933.8" width="6.2" height="16.4" fill="#1a5aab"/><rect x="1018" y="933.8" width="6.2" height="16.4" fill="#1a5aab"/><rect x="1031.5" y="933.8" width="6.2" height="16.4" fill="#1a5aab"/><rect x="1045" y="933.8" width="6.2" height="16.4" fill="#1a5aab"/><rect x="1058.5" y="933.8" width="6.2" height="16.4" fill="#1a5aab"/><rect x="1072" y="933.8" width="6.2" height="16.4" fill="#1a5aab"/><rect x="1085.5" y="933.8" width="6.2" height="16.4" fill="#1a5aab"/><rect x="1099" y="933.8" width="6.2" height="16.4" fill="#1a5aab"/><rect x="1112.5" y="933.8" width="6.2" height="16.4" fill="#1a5aab"/><rect x="977.5" y="957.4" width="6.2" height="18.4" fill="#1a5aab"/><rect x="991" y="957.4" width="6.2" height="18.4" fill="#1a5aab"/><rect x="1004.5" y="957.4" width="6.2" height="18.4" fill="#1a5aab"/><rect x="1018" y="957.4" width="6.2" height="18.4" fill="#1a5aab"/><rect x="1031.5" y="957.4" width="6.2" height="18.4" fill="#1a5aab"/><rect x="1045" y="957.4" width="6.2" height="18.4" fill="#1a5aab"/><rect x="1058.5" y="957.4" width="6.2" height="18.4" fill="#1a5aab"/><rect x="1072" y="957.4" width="6.2" height="18.4" fill="#1a5aab"/><rect x="1085.5" y="957.4" width="6.2" height="18.4" fill="#1a5aab"/><rect x="1099" y="957.4" width="6.2" height="18.4" fill="#1a5aab"/><rect x="1112.5" y="957.4" width="6.2" height="18.4" fill="#1a5aab"/><rect x="975.7" y="975.75" width="145.3" height="12.3" fill="url(#blueG)"/><path d="M1120,982.5 C1148,982.5 1164.5,987 1164.5,1005 L1164.5,1040 C1164.5,1056 1152,1060.5 1131,1060.5" fill="none" stroke="#76665a" stroke-width="9.5"/><rect x="1013.6" y="1055.85" width="118.7" height="9.3" fill="#000"/><rect x="1014.2" y="1065" width="7" height="16.2" fill="#000"/><rect x="1027.64" y="1065" width="7" height="16.2" fill="#000"/><rect x="1041.08" y="1065" width="7" height="16.2" fill="#000"/><rect x="1054.52" y="1065" width="7" height="16.2" fill="#000"/><rect x="1067.96" y="1065" width="7" height="16.2" fill="#000"/><rect x="1081.4" y="1065" width="7" height="16.2" fill="#000"/><rect x="1094.84" y="1065" width="7" height="16.2" fill="#000"/><rect x="1108.28" y="1065" width="7" height="16.2" fill="#000"/><rect x="1121.72" y="1065" width="7" height="16.2" fill="#000"/><rect x="1014.2" y="1088.1" width="7" height="21.9" fill="#000"/><rect x="1027.64" y="1088.1" width="7" height="21.9" fill="#000"/><rect x="1041.08" y="1088.1" width="7" height="21.9" fill="#000"/><rect x="1054.52" y="1088.1" width="7" height="21.9" fill="#000"/><rect x="1067.96" y="1088.1" width="7" height="21.9" fill="#000"/><rect x="1081.4" y="1088.1" width="7" height="21.9" fill="#000"/><rect x="1094.84" y="1088.1" width="7" height="21.9" fill="#000"/><rect x="1108.28" y="1088.1" width="7" height="21.9" fill="#000"/><rect x="1121.72" y="1088.1" width="7" height="21.9" fill="#000"/><rect x="1013.6" y="1109.95" width="116.7" height="9.3" fill="#000"/><path d="M1014,1114.3 C1000,1114.3 996,1104.4 986.8,1104.4 C978,1104.4 978,1113.5 970.5,1113.5 C950,1113.5 930,1104.4 907.5,1104.4 C885,1104.4 872,1114.6 855,1114.6" fill="none" stroke="#000" stroke-width="10"/><g fill="none" stroke="#231815" stroke-width="2.7"><path d="M1392,593.9 L1416.9,593.9 L1415.6,551.9 A22.6,22.6 0 1 1 1440.3,551.9 L1441.1,574.9 L1452.8,580.1 L1440.3,585.1 L1440.3,593.9 L1458,593.9"/><line x1="1415.6" y1="551.9" x2="1440.3" y2="551.9"/><line x1="1415.6" y1="559.7" x2="1440.3" y2="559.7"/><line x1="1415.6" y1="565.8" x2="1440.3" y2="565.8"/><line x1="1415.6" y1="572.5" x2="1440.3" y2="572.5"/><line x1="1415.6" y1="590.5" x2="1440.3" y2="590.5"/></g><rect x="1458" y="588.9" width="120.6" height="10" fill="url(#cyanG)"/><rect x="1578.6" y="588.9" width="147" height="10" fill="url(#blueG)"/><rect x="1461.7" y="599" width="6.2" height="18" fill="#40e0d8"/><rect x="1475.3" y="599" width="6.2" height="18" fill="#40e0d8"/><rect x="1488.9" y="599" width="6.2" height="18" fill="#40e0d8"/><rect x="1502.5" y="599" width="6.2" height="18" fill="#40e0d8"/><rect x="1516.1" y="599" width="6.2" height="18" fill="#40e0d8"/><rect x="1529.7" y="599" width="6.2" height="18" fill="#40e0d8"/><rect x="1543.3" y="599" width="6.2" height="18" fill="#40e0d8"/><rect x="1556.9" y="599" width="6.2" height="18" fill="#40e0d8"/><rect x="1570.5" y="599" width="6.2" height="18" fill="#40e0d8"/><rect x="1461.7" y="623.8" width="6.2" height="18.2" fill="#40e0d8"/><rect x="1475.3" y="623.8" width="6.2" height="18.2" fill="#40e0d8"/><rect x="1488.9" y="623.8" width="6.2" height="18.2" fill="#40e0d8"/><rect x="1502.5" y="623.8" width="6.2" height="18.2" fill="#40e0d8"/><rect x="1516.1" y="623.8" width="6.2" height="18.2" fill="#40e0d8"/><rect x="1529.7" y="623.8" width="6.2" height="18.2" fill="#40e0d8"/><rect x="1543.3" y="623.8" width="6.2" height="18.2" fill="#40e0d8"/><rect x="1556.9" y="623.8" width="6.2" height="18.2" fill="#40e0d8"/><rect x="1570.5" y="623.8" width="6.2" height="18.2" fill="#40e0d8"/><rect x="1583.2" y="599" width="6.2" height="18" fill="#1a5aab"/><rect x="1596.75" y="599" width="6.2" height="18" fill="#1a5aab"/><rect x="1610.3" y="599" width="6.2" height="18" fill="#1a5aab"/><rect x="1623.85" y="599" width="6.2" height="18" fill="#1a5aab"/><rect x="1637.4" y="599" width="6.2" height="18" fill="#1a5aab"/><rect x="1650.95" y="599" width="6.2" height="18" fill="#1a5aab"/><rect x="1664.5" y="599" width="6.2" height="18" fill="#1a5aab"/><rect x="1678.05" y="599" width="6.2" height="18" fill="#1a5aab"/><rect x="1691.6" y="599" width="6.2" height="18" fill="#1a5aab"/><rect x="1705.15" y="599" width="6.2" height="18" fill="#1a5aab"/><rect x="1718.7" y="599" width="6.2" height="18" fill="#1a5aab"/><rect x="1583.2" y="623.8" width="6.2" height="18.2" fill="#1a5aab"/><rect x="1596.75" y="623.8" width="6.2" height="18.2" fill="#1a5aab"/><rect x="1610.3" y="623.8" width="6.2" height="18.2" fill="#1a5aab"/><rect x="1623.85" y="623.8" width="6.2" height="18.2" fill="#1a5aab"/><rect x="1637.4" y="623.8" width="6.2" height="18.2" fill="#1a5aab"/><rect x="1650.95" y="623.8" width="6.2" height="18.2" fill="#1a5aab"/><rect x="1664.5" y="623.8" width="6.2" height="18.2" fill="#1a5aab"/><rect x="1678.05" y="623.8" width="6.2" height="18.2" fill="#1a5aab"/><rect x="1691.6" y="623.8" width="6.2" height="18.2" fill="#1a5aab"/><rect x="1705.15" y="623.8" width="6.2" height="18.2" fill="#1a5aab"/><rect x="1718.7" y="623.8" width="6.2" height="18.2" fill="#1a5aab"/><rect x="1457.9" y="642.05" width="119.9" height="10.7" fill="url(#cyanG)"/><rect x="1583" y="642.05" width="142.6" height="10.7" fill="url(#blueG)"/><path d="M1459,647.5 C1430,647.5 1419,652 1419,672 L1419,700 C1419,718 1430,725 1455,725" fill="none" stroke="#76665a" stroke-width="9.5"/><path d="M1724.6,647.5 C1752,647.5 1764,652 1764,672 L1764,700 C1764,718 1752,725 1722,725" fill="none" stroke="#76665a" stroke-width="9.5"/><ellipse cx="1590" cy="752" rx="95" ry="22" fill="#8fd6f6" opacity="0.55" filter="url(#glow)"/><rect x="1454" y="720.35" width="146.3" height="9.5" fill="#000"/><rect x="1606.7" y="720.35" width="116.3" height="9.5" fill="#000"/><rect x="1458.6" y="729.8" width="6.4" height="18" fill="#000"/><rect x="1471.9" y="729.8" width="6.4" height="18" fill="#000"/><rect x="1485.2" y="729.8" width="6.4" height="18" fill="#000"/><rect x="1498.5" y="729.8" width="6.4" height="18" fill="#000"/><rect x="1511.8" y="729.8" width="6.4" height="18" fill="#000"/><rect x="1525.1" y="729.8" width="6.4" height="18" fill="#000"/><rect x="1538.4" y="729.8" width="6.4" height="18" fill="#000"/><rect x="1551.7" y="729.8" width="6.4" height="18" fill="#000"/><rect x="1565" y="729.8" width="6.4" height="18" fill="#000"/><rect x="1578.3" y="729.8" width="6.4" height="18" fill="#000"/><rect x="1591.6" y="729.8" width="6.4" height="18" fill="#000"/><rect x="1606.8" y="729.8" width="6.4" height="18" fill="#000"/><rect x="1620.4" y="729.8" width="6.4" height="18" fill="#000"/><rect x="1634" y="729.8" width="6.4" height="18" fill="#000"/><rect x="1647.6" y="729.8" width="6.4" height="18" fill="#000"/><rect x="1661.2" y="729.8" width="6.4" height="18" fill="#000"/><rect x="1674.8" y="729.8" width="6.4" height="18" fill="#000"/><rect x="1688.4" y="729.8" width="6.4" height="18" fill="#000"/><rect x="1702" y="729.8" width="6.4" height="18" fill="#000"/><rect x="1715.6" y="729.8" width="6.4" height="18" fill="#000"/><rect x="1458.6" y="755.5" width="6.4" height="18.7" fill="#000"/><rect x="1471.9" y="755.5" width="6.4" height="18.7" fill="#000"/><rect x="1485.2" y="755.5" width="6.4" height="18.7" fill="#000"/><rect x="1498.5" y="755.5" width="6.4" height="18.7" fill="#000"/><rect x="1511.8" y="755.5" width="6.4" height="18.7" fill="#000"/><rect x="1525.1" y="755.5" width="6.4" height="18.7" fill="#000"/><rect x="1538.4" y="755.5" width="6.4" height="18.7" fill="#000"/><rect x="1551.7" y="755.5" width="6.4" height="18.7" fill="#000"/><rect x="1565" y="755.5" width="6.4" height="18.7" fill="#000"/><rect x="1578.3" y="755.5" width="6.4" height="18.7" fill="#000"/><rect x="1591.6" y="755.5" width="6.4" height="18.7" fill="#000"/><rect x="1606.8" y="755.5" width="6.4" height="18.7" fill="#000"/><rect x="1620.4" y="755.5" width="6.4" height="18.7" fill="#000"/><rect x="1634" y="755.5" width="6.4" height="18.7" fill="#000"/><rect x="1647.6" y="755.5" width="6.4" height="18.7" fill="#000"/><rect x="1661.2" y="755.5" width="6.4" height="18.7" fill="#000"/><rect x="1674.8" y="755.5" width="6.4" height="18.7" fill="#000"/><rect x="1688.4" y="755.5" width="6.4" height="18.7" fill="#000"/><rect x="1702" y="755.5" width="6.4" height="18.7" fill="#000"/><rect x="1715.6" y="755.5" width="6.4" height="18.7" fill="#000"/><rect x="1454" y="774" width="269" height="9.2" fill="#000"/><path d="M434,314.2 C449.12,314.2 447.5,331.5 461,331.5 C474.5,331.5 472.88,314.2 488,314.2" fill="none" stroke="url(#cyanW)" stroke-width="9.5"/><path d="M488,314.2 C502.11,314.2 500.6,331.5 513.2,331.5 C525.8,331.5 524.29,314.2 538.4,314.2" fill="none" stroke="#76665a" stroke-width="9.5"/><path d="M538.4,314.2 C555.09,314.2 553.3,331.5 568.2,331.5 C583.1,331.5 581.31,314.2 598,314.2" fill="none" stroke="#231815" stroke-width="9.5"/><line x1="463.7" y1="306.5" x2="463.7" y2="273.2" stroke="#6d6d6d" stroke-width="3.6"/><polygon points="463.7,257.2 475.2,277.2 463.7,272.7 452.2,277.2" fill="#6d6d6d"/><line x1="514.5" y1="303.4" x2="514.5" y2="229.3" stroke="#6d6d6d" stroke-width="3.6"/><polygon points="514.5,213.3 526,233.3 514.5,228.8 503,233.3" fill="#6d6d6d"/><line x1="564.8" y1="306.5" x2="564.8" y2="273.2" stroke="#6d6d6d" stroke-width="3.6"/><polygon points="564.8,257.2 576.3,277.2 564.8,272.7 553.3,277.2" fill="#6d6d6d"/><path d="M916.1,532.5 C931.14,532.5 929.52,553 942.95,553 C956.38,553 954.76,532.5 969.8,532.5" fill="none" stroke="url(#cyanW)" stroke-width="9.5"/><path d="M969.8,532.5 C983.94,532.5 982.43,553 995.05,553 C1007.68,553 1006.16,532.5 1020.3,532.5" fill="none" stroke="#76665a" stroke-width="9.5"/><path d="M1020.3,532.5 C1036.76,532.5 1035,553 1049.7,553 C1064.4,553 1062.64,532.5 1079.1,532.5" fill="none" stroke="#231815" stroke-width="9.5"/><path d="M916.1,651.7 C930.88,651.7 929.3,671 942.5,671 C955.7,671 954.12,651.7 968.9,651.7" fill="none" stroke="#231815" stroke-width="9.5"/><path d="M968.9,651.7 C983.12,651.7 981.6,671 994.3,671 C1007,671 1005.48,651.7 1019.7,651.7" fill="none" stroke="#76665a" stroke-width="9.5"/><path d="M1019.7,651.7 C1036.53,651.7 1034.72,671 1049.75,671 C1064.77,671 1062.97,651.7 1079.8,651.7" fill="none" stroke="url(#blueW)" stroke-width="9.5"/><path d="M434.8,910.5 C450.03,910.5 448.4,930.2 462,930.2 C475.6,930.2 473.97,910.5 489.2,910.5" fill="none" stroke="#231815" stroke-width="9.5"/><path d="M489.2,910.5 C502.98,910.5 501.5,930.2 513.8,930.2 C526.1,930.2 524.62,910.5 538.4,910.5" fill="none" stroke="#76665a" stroke-width="9.5"/><path d="M538.4,910.5 C555.34,910.5 553.52,930.2 568.65,930.2 C583.77,930.2 581.96,910.5 598.9,910.5" fill="none" stroke="url(#blueW)" stroke-width="9.5"/><line x1="464" y1="947.6" x2="464" y2="980.4" stroke="#6d6d6d" stroke-width="3.6"/><polygon points="464,996.4 475.5,976.4 464,980.9 452.5,976.4" fill="#6d6d6d"/><line x1="515.2" y1="950.8" x2="515.2" y2="1024.6" stroke="#6d6d6d" stroke-width="3.6"/><polygon points="515.2,1040.6 526.7,1020.6 515.2,1025.1 503.7,1020.6" fill="#6d6d6d"/><line x1="565" y1="947.6" x2="565" y2="980.4" stroke="#6d6d6d" stroke-width="3.6"/><polygon points="565,996.4 576.5,976.4 565,980.9 553.5,976.4" fill="#6d6d6d"/><rect x="1206.2" y="114.9" width="72.5" height="5.8" fill="#58595b"/><ellipse cx="1206.2" cy="117.8" rx="16" ry="17.7" fill="#cfe994"/><ellipse cx="1278.7" cy="117.8" rx="16" ry="17.7" fill="#808285"/><text x="1205.7" y="126" font-size="23" text-anchor="middle">F</text><text x="1279.2" y="126" font-size="23" text-anchor="middle">Q</text><rect x="1206.2" y="855.4" width="72.5" height="5.8" fill="#58595b"/><ellipse cx="1206.2" cy="858.3" rx="16" ry="17.7" fill="#cfe994"/><ellipse cx="1278.7" cy="858.3" rx="16" ry="17.7" fill="#808285"/><text x="1205.7" y="866.5" font-size="23" text-anchor="middle">F</text><text x="1279.2" y="866.5" font-size="23" text-anchor="middle">Q</text><rect x="1280.2" y="169.1" width="72.6" height="5.8" fill="#58595b"/><ellipse cx="1280.2" cy="172" rx="16" ry="17.7" fill="#cfe994"/><ellipse cx="1352.8" cy="172" rx="16" ry="17.7" fill="#808285"/><text x="1279.7" y="180.2" font-size="23" text-anchor="middle">F</text><text x="1353.3" y="180.2" font-size="23" text-anchor="middle">Q</text><rect x="1280.2" y="909.6" width="72.6" height="5.8" fill="#58595b"/><ellipse cx="1280.2" cy="912.5" rx="16" ry="17.7" fill="#cfe994"/><ellipse cx="1352.8" cy="912.5" rx="16" ry="17.7" fill="#808285"/><text x="1279.7" y="920.7" font-size="23" text-anchor="middle">F</text><text x="1353.3" y="920.7" font-size="23" text-anchor="middle">Q</text><rect x="1206.2" y="223.7" width="72.5" height="5.8" fill="#58595b"/><ellipse cx="1206.2" cy="226.6" rx="16" ry="17.7" fill="#cfe994"/><ellipse cx="1278.7" cy="226.6" rx="16" ry="17.7" fill="#808285"/><text x="1205.7" y="234.8" font-size="23" text-anchor="middle">F</text><text x="1279.2" y="234.8" font-size="23" text-anchor="middle">Q</text><rect x="1206.2" y="964.2" width="72.5" height="5.8" fill="#58595b"/><ellipse cx="1206.2" cy="967.1" rx="16" ry="17.7" fill="#cfe994"/><ellipse cx="1278.7" cy="967.1" rx="16" ry="17.7" fill="#808285"/><text x="1205.7" y="975.3" font-size="23" text-anchor="middle">F</text><text x="1279.2" y="975.3" font-size="23" text-anchor="middle">Q</text><rect x="1280.2" y="278.1" width="72.6" height="5.8" fill="#58595b"/><ellipse cx="1280.2" cy="281" rx="16" ry="17.7" fill="#cfe994"/><ellipse cx="1352.8" cy="281" rx="16" ry="17.7" fill="#808285"/><text x="1279.7" y="289.2" font-size="23" text-anchor="middle">F</text><text x="1353.3" y="289.2" font-size="23" text-anchor="middle">Q</text><rect x="1280.2" y="1018.6" width="72.6" height="5.8" fill="#58595b"/><ellipse cx="1280.2" cy="1021.5" rx="16" ry="17.7" fill="#cfe994"/><ellipse cx="1352.8" cy="1021.5" rx="16" ry="17.7" fill="#808285"/><text x="1279.7" y="1029.7" font-size="23" text-anchor="middle">F</text><text x="1353.3" y="1029.7" font-size="23" text-anchor="middle">Q</text><rect x="1816.5" y="494.3" width="12" height="6.4" fill="#58595b"/><rect x="1852.6" y="494.3" width="20" height="6.4" fill="#58595b"/><ellipse cx="1801.5" cy="497.5" rx="19.5" ry="22" fill="#b8f0a0" opacity="0.9" filter="url(#fglow)"/><ellipse cx="1801.5" cy="497.5" rx="16" ry="17.5" fill="url(#fG)"/><ellipse cx="1887.6" cy="497.5" rx="16" ry="17.7" fill="#808285"/><text x="1801" y="505.7" font-size="23" text-anchor="middle">F</text><text x="1888.1" y="505.7" font-size="23" text-anchor="middle">Q</text><rect x="1859.7" y="556.8" width="12" height="6.4" fill="#58595b"/><rect x="1895.9" y="556.8" width="20" height="6.4" fill="#58595b"/><ellipse cx="1844.7" cy="560" rx="19.5" ry="22" fill="#b8f0a0" opacity="0.9" filter="url(#fglow)"/><ellipse cx="1844.7" cy="560" rx="16" ry="17.5" fill="url(#fG)"/><ellipse cx="1930.9" cy="560" rx="16" ry="17.7" fill="#808285"/><text x="1844.2" y="568.2" font-size="23" text-anchor="middle">F</text><text x="1931.4" y="568.2" font-size="23" text-anchor="middle">Q</text><rect x="1816.5" y="620.1" width="12" height="6.4" fill="#58595b"/><rect x="1852.6" y="620.1" width="20" height="6.4" fill="#58595b"/><ellipse cx="1801.5" cy="623.3" rx="19.5" ry="22" fill="#b8f0a0" opacity="0.9" filter="url(#fglow)"/><ellipse cx="1801.5" cy="623.3" rx="16" ry="17.5" fill="url(#fG)"/><ellipse cx="1887.6" cy="623.3" rx="16" ry="17.7" fill="#808285"/><text x="1801" y="631.5" font-size="23" text-anchor="middle">F</text><text x="1888.1" y="631.5" font-size="23" text-anchor="middle">Q</text><rect x="1859.7" y="683.6" width="12" height="6.4" fill="#58595b"/><rect x="1895.9" y="683.6" width="20" height="6.4" fill="#58595b"/><ellipse cx="1844.7" cy="686.8" rx="19.5" ry="22" fill="#b8f0a0" opacity="0.9" filter="url(#fglow)"/><ellipse cx="1844.7" cy="686.8" rx="16" ry="17.5" fill="url(#fG)"/><ellipse cx="1930.9" cy="686.8" rx="16" ry="17.7" fill="#808285"/><text x="1844.2" y="695" font-size="23" text-anchor="middle">F</text><text x="1931.4" y="695" font-size="23" text-anchor="middle">Q</text><text x="16.5" y="87.4" font-size="41" font-weight="bold">a</text><text x="509.2" y="205.5" font-size="27" text-anchor="middle">bumper domain</text><text x="361.6" y="246.9" font-size="27" text-anchor="middle">crRNA binding site</text><text x="666.7" y="246.9" font-size="27" text-anchor="middle">bridge binding site</text><text x="412" y="320.6" font-size="27">5'</text><text x="600" y="320.6" font-size="27">3'</text><text x="520.5" y="364" font-size="27" text-anchor="middle">RNA activator 1</text><text x="773" y="206.7" font-size="27">5'</text><text x="1130.3" y="206.7" font-size="27">3'</text><text x="981.2" y="260.4" font-size="23" font-weight="bold">5'</text><text x="927.8" y="281.5" font-size="27" text-anchor="middle">(9-nt)</text><text x="929.6" y="316.5" font-size="27" text-anchor="middle">(11-nt)</text><text x="1007.5" y="339.7" font-size="23" font-weight="bold">3'</text><text x="832.5" y="395.8" font-size="27">3'</text><text x="1139.3" y="408" font-size="27">5'</text><text x="971.1" y="417.8" font-size="27" text-anchor="middle">Bridge</text><text x="997.7" y="466.4" font-size="26.9" text-anchor="middle" font-weight="bold">Inactivated CRISPR-Cas13a</text><text x="183.6" y="611.5" font-size="27">5'</text><text x="540.8" y="611.5" font-size="27">3'</text><text x="15.2" y="750.6" font-size="27">5'</text><text x="227.6" y="750.6" font-size="27">3'</text><text x="129.8" y="788.4" font-size="27" text-anchor="middle">Bridge</text><text x="396.3" y="782.3" font-size="27" text-anchor="middle">Cas13a:crRNA</text><text x="893.6" y="539.3" font-size="27">5'</text><text x="1081.8" y="539.3" font-size="27">3'</text><text x="1009.8" y="584.4" font-size="27" text-anchor="middle">RNA activator 1</text><text x="893.6" y="656.9" font-size="27">5'</text><text x="1081.8" y="656.9" font-size="27">3'</text><text x="1009.8" y="702.8" font-size="27" text-anchor="middle">RNA activator 2</text><text x="1371.3" y="600.3" font-size="27">5'</text><text x="1728" y="600.3" font-size="27">3'</text><text x="1511.3" y="674.4" font-size="27" text-anchor="middle">(9-nt)</text><text x="1558.8" y="669.3" font-size="23" font-weight="bold">5'</text><text x="1582.3" y="669.3" font-size="23" font-weight="bold">3'</text><text x="1673.3" y="674.4" font-size="27" text-anchor="middle">(11-nt)</text><text x="1511.5" y="711.5" font-size="27" text-anchor="middle">(11-nt)</text><text x="1584.3" y="717.9" font-size="23" font-weight="bold">3'</text><text x="1608.3" y="717.9" font-size="23" font-weight="bold">5'</text><text x="1672.6" y="711.5" font-size="27" text-anchor="middle">(9-nt)</text><text x="1433.8" y="789.5" font-size="27">3'</text><text x="1723.8" y="789.5" font-size="27">5'</text><text x="1573" y="816.3" font-size="27" text-anchor="middle">Bridge</text><text x="1597.2" y="859.2" font-size="26.9" text-anchor="middle" font-weight="bold">Activated CRISPR-Cas13a</text><text x="521.2" y="887.1" font-size="27" text-anchor="middle">RNA activator 2</text><text x="412.3" y="916.4" font-size="27">5'</text><text x="598.7" y="916.4" font-size="27">3'</text><text x="359.9" y="1022" font-size="27" text-anchor="middle">bridge binding site</text><text x="668" y="1022" font-size="27" text-anchor="middle">crRNA binding site</text><text x="508.7" y="1065.2" font-size="27" text-anchor="middle">bumper domain</text><text x="768.1" y="937.1" font-size="27">5'</text><text x="1123.2" y="937.1" font-size="27">3'</text><text x="955.2" y="994" font-size="23" font-weight="bold">3'</text><text x="1073.6" y="1012.3" font-size="27" text-anchor="middle">(11-nt)</text><text x="1074" y="1050.2" font-size="27" text-anchor="middle">(9-nt)</text><text x="991.8" y="1069.3" font-size="23" font-weight="bold">5'</text><text x="833.2" y="1120.1" font-size="27">3'</text><text x="1136.2" y="1124.2" font-size="27">5'</text><text x="971" y="1146.6" font-size="27" text-anchor="middle">Bridge</text><text x="997.7" y="1190" font-size="26.9" text-anchor="middle" font-weight="bold">Inactivated CRISPR-Cas13a</text><text x="333.6" y="1305.6" font-size="26.8" text-anchor="middle">21-nt RNA activators with 1-nt bumper</text><line x1="82.3" y1="1342.3" x2="82.3" y2="1561.5" stroke="#000" stroke-width="3"/><line x1="82.3" y1="1568.8" x2="82.3" y2="1816" stroke="#000" stroke-width="3"/><line x1="80.8" y1="1343.5" x2="86.3" y2="1343.5" stroke="#000" stroke-width="2.5"/><line x1="74.4" y1="1563.6" x2="90.7" y2="1558.5" stroke="#000" stroke-width="2.6"/><line x1="73.8" y1="1575.5" x2="90.7" y2="1569.8" stroke="#000" stroke-width="2.6"/><line x1="82.3" y1="1367.3" x2="90.1" y2="1367.3" stroke="#000" stroke-width="2.5"/><text x="76.8" y="1375.7" font-size="23.5" text-anchor="end">1.0</text><line x1="82.3" y1="1416.22" x2="90.1" y2="1416.22" stroke="#000" stroke-width="2.5"/><text x="76.8" y="1424.62" font-size="23.5" text-anchor="end">0.8</text><line x1="82.3" y1="1465.14" x2="90.1" y2="1465.14" stroke="#000" stroke-width="2.5"/><text x="76.8" y="1473.54" font-size="23.5" text-anchor="end">0.6</text><line x1="82.3" y1="1514.06" x2="90.1" y2="1514.06" stroke="#000" stroke-width="2.5"/><text x="76.8" y="1522.46" font-size="23.5" text-anchor="end">0.4</text><text x="76.8" y="1571.38" font-size="23.5" text-anchor="end">0.2</text><line x1="82.3" y1="1668.3" x2="90.1" y2="1668.3" stroke="#000" stroke-width="2.5"/><text x="76.8" y="1676.7" font-size="23.5" text-anchor="end">0.02</text><line x1="82.3" y1="1766" x2="90.1" y2="1766" stroke="#000" stroke-width="2.5"/><text x="76.8" y="1774.4" font-size="23.5" text-anchor="end">0.0</text><line x1="80.8" y1="1815.3" x2="602.7" y2="1815.3" stroke="#000" stroke-width="3"/><line x1="114.4" y1="1815.3" x2="114.4" y2="1805.8" stroke="#000" stroke-width="2.5"/><text x="114.4" y="1842.3" font-size="23.5" text-anchor="middle">0</text><line x1="179.47" y1="1815.3" x2="179.47" y2="1805.8" stroke="#000" stroke-width="2.5"/><text x="179.47" y="1842.3" font-size="23.5" text-anchor="middle">10</text><line x1="244.54" y1="1815.3" x2="244.54" y2="1805.8" stroke="#000" stroke-width="2.5"/><text x="244.54" y="1842.3" font-size="23.5" text-anchor="middle">20</text><line x1="309.61" y1="1815.3" x2="309.61" y2="1805.8" stroke="#000" stroke-width="2.5"/><text x="309.61" y="1842.3" font-size="23.5" text-anchor="middle">30</text><line x1="374.68" y1="1815.3" x2="374.68" y2="1805.8" stroke="#000" stroke-width="2.5"/><text x="374.68" y="1842.3" font-size="23.5" text-anchor="middle">40</text><line x1="439.75" y1="1815.3" x2="439.75" y2="1805.8" stroke="#000" stroke-width="2.5"/><text x="439.75" y="1842.3" font-size="23.5" text-anchor="middle">50</text><line x1="504.82" y1="1815.3" x2="504.82" y2="1805.8" stroke="#000" stroke-width="2.5"/><text x="504.82" y="1842.3" font-size="23.5" text-anchor="middle">60</text><line x1="569.89" y1="1815.3" x2="569.89" y2="1805.8" stroke="#000" stroke-width="2.5"/><text x="569.89" y="1842.3" font-size="23.5" text-anchor="middle">70</text><text x="341.3" y="1881" font-size="26.6" text-anchor="middle">Time (min)</text><text transform="translate(23.8,1577.5) rotate(-90)" font-size="26.9" text-anchor="middle">Normalized fluorescence relative to T<tspan font-size="20.71">20</tspan></text><path d="M120.91,1753 C125.25,1752.17 137.17,1749.37 146.94,1748 C156.7,1746.63 168.62,1745.52 179.47,1744.8 C190.31,1744.08 201.16,1744.08 212,1743.7 C222.85,1743.32 233.69,1742.9 244.54,1742.5 C255.38,1742.1 266.23,1741.55 277.07,1741.3 C287.92,1741.05 298.76,1741.12 309.61,1741 C320.46,1740.88 331.3,1740.73 342.14,1740.6 C352.99,1740.47 363.83,1740.33 374.68,1740.2 C385.52,1740.07 396.37,1739.93 407.22,1739.8 C418.06,1739.67 428.91,1739.53 439.75,1739.4 C450.59,1739.27 461.44,1739.15 472.28,1739 C483.13,1738.85 499.4,1738.58 504.82,1738.5" fill="none" stroke="#9b72c0" stroke-width="2.8"/><polygon points="120.91,1760 127.56,1748.66 114.26,1748.66" fill="#9b6cc0" stroke="#3d3d3d" stroke-width="2.2" stroke-linejoin="miter"/><polygon points="146.94,1755 153.59,1743.66 140.28,1743.66" fill="#9b6cc0" stroke="#3d3d3d" stroke-width="2.2" stroke-linejoin="miter"/><polygon points="179.47,1751.8 186.12,1740.46 172.82,1740.46" fill="#9b6cc0" stroke="#3d3d3d" stroke-width="2.2" stroke-linejoin="miter"/><polygon points="212,1750.7 218.66,1739.36 205.35,1739.36" fill="#9b6cc0" stroke="#3d3d3d" stroke-width="2.2" stroke-linejoin="miter"/><polygon points="244.54,1749.5 251.19,1738.16 237.89,1738.16" fill="#9b6cc0" stroke="#3d3d3d" stroke-width="2.2" stroke-linejoin="miter"/><polygon points="277.07,1748.3 283.72,1736.96 270.43,1736.96" fill="#9b6cc0" stroke="#3d3d3d" stroke-width="2.2" stroke-linejoin="miter"/><polygon points="309.61,1748 316.26,1736.66 302.96,1736.66" fill="#9b6cc0" stroke="#3d3d3d" stroke-width="2.2" stroke-linejoin="miter"/><polygon points="342.14,1747.6 348.79,1736.26 335.5,1736.26" fill="#9b6cc0" stroke="#3d3d3d" stroke-width="2.2" stroke-linejoin="miter"/><polygon points="374.68,1747.2 381.33,1735.86 368.03,1735.86" fill="#9b6cc0" stroke="#3d3d3d" stroke-width="2.2" stroke-linejoin="miter"/><polygon points="407.22,1746.8 413.87,1735.46 400.57,1735.46" fill="#9b6cc0" stroke="#3d3d3d" stroke-width="2.2" stroke-linejoin="miter"/><polygon points="439.75,1746.4 446.4,1735.06 433.1,1735.06" fill="#9b6cc0" stroke="#3d3d3d" stroke-width="2.2" stroke-linejoin="miter"/><polygon points="472.28,1746 478.93,1734.66 465.63,1734.66" fill="#9b6cc0" stroke="#3d3d3d" stroke-width="2.2" stroke-linejoin="miter"/><polygon points="504.82,1745.5 511.47,1734.16 498.17,1734.16" fill="#9b6cc0" stroke="#3d3d3d" stroke-width="2.2" stroke-linejoin="miter"/><path d="M120.91,1752.5 C125.25,1752.42 137.17,1752.2 146.94,1752 C156.7,1751.8 168.62,1751.55 179.47,1751.3 C190.31,1751.05 201.16,1750.75 212,1750.5 C222.85,1750.25 233.69,1750.05 244.54,1749.8 C255.38,1749.55 266.23,1749.3 277.07,1749 C287.92,1748.7 298.76,1748.37 309.61,1748 C320.46,1747.63 331.3,1747.22 342.14,1746.8 C352.99,1746.38 363.83,1745.93 374.68,1745.5 C385.52,1745.07 396.37,1744.65 407.22,1744.2 C418.06,1743.75 428.91,1743.3 439.75,1742.8 C450.59,1742.3 461.44,1741.75 472.28,1741.2 C483.13,1740.65 499.4,1739.78 504.82,1739.5" fill="none" stroke="#2e9e5e" stroke-width="2.8"/><polygon points="120.91,1745.5 127.56,1756.84 114.26,1756.84" fill="#2ea05e" stroke="#3d3d3d" stroke-width="2.2" stroke-linejoin="miter"/><polygon points="146.94,1745 153.59,1756.34 140.28,1756.34" fill="#2ea05e" stroke="#3d3d3d" stroke-width="2.2" stroke-linejoin="miter"/><polygon points="179.47,1744.3 186.12,1755.64 172.82,1755.64" fill="#2ea05e" stroke="#3d3d3d" stroke-width="2.2" stroke-linejoin="miter"/><polygon points="212,1743.5 218.66,1754.84 205.35,1754.84" fill="#2ea05e" stroke="#3d3d3d" stroke-width="2.2" stroke-linejoin="miter"/><polygon points="244.54,1742.8 251.19,1754.14 237.89,1754.14" fill="#2ea05e" stroke="#3d3d3d" stroke-width="2.2" stroke-linejoin="miter"/><polygon points="277.07,1742 283.72,1753.34 270.43,1753.34" fill="#2ea05e" stroke="#3d3d3d" stroke-width="2.2" stroke-linejoin="miter"/><polygon points="309.61,1741 316.26,1752.34 302.96,1752.34" fill="#2ea05e" stroke="#3d3d3d" stroke-width="2.2" stroke-linejoin="miter"/><polygon points="342.14,1739.8 348.79,1751.14 335.5,1751.14" fill="#2ea05e" stroke="#3d3d3d" stroke-width="2.2" stroke-linejoin="miter"/><polygon points="374.68,1738.5 381.33,1749.84 368.03,1749.84" fill="#2ea05e" stroke="#3d3d3d" stroke-width="2.2" stroke-linejoin="miter"/><polygon points="407.22,1737.2 413.87,1748.54 400.57,1748.54" fill="#2ea05e" stroke="#3d3d3d" stroke-width="2.2" stroke-linejoin="miter"/><polygon points="439.75,1735.8 446.4,1747.14 433.1,1747.14" fill="#2ea05e" stroke="#3d3d3d" stroke-width="2.2" stroke-linejoin="miter"/><polygon points="472.28,1734.2 478.93,1745.54 465.63,1745.54" fill="#2ea05e" stroke="#3d3d3d" stroke-width="2.2" stroke-linejoin="miter"/><polygon points="504.82,1732.5 511.47,1743.84 498.17,1743.84" fill="#2ea05e" stroke="#3d3d3d" stroke-width="2.2" stroke-linejoin="miter"/><path d="M120.91,1768.7 C125.25,1767.58 137.17,1763.62 146.94,1762 C156.7,1760.38 168.62,1759.92 179.47,1759 C190.31,1758.08 201.16,1757.3 212,1756.5 C222.85,1755.7 233.69,1754.95 244.54,1754.2 C255.38,1753.45 266.23,1752.7 277.07,1752 C287.92,1751.3 298.76,1750.67 309.61,1750 C320.46,1749.33 331.3,1748.67 342.14,1748 C352.99,1747.33 363.83,1746.67 374.68,1746 C385.52,1745.33 396.37,1744.67 407.22,1744 C418.06,1743.33 428.91,1742.7 439.75,1742 C450.59,1741.3 461.44,1740.55 472.28,1739.8 C483.13,1739.05 499.4,1737.88 504.82,1737.5" fill="none" stroke="#c89412" stroke-width="2.8"/><polygon points="120.91,1761.5 127.75,1768.7 120.91,1775.9 114.07,1768.7" fill="#c8961a" stroke="#3d3d3d" stroke-width="2.2" stroke-linejoin="miter"/><polygon points="146.94,1754.8 153.78,1762 146.94,1769.2 140.09,1762" fill="#c8961a" stroke="#3d3d3d" stroke-width="2.2" stroke-linejoin="miter"/><polygon points="179.47,1751.8 186.31,1759 179.47,1766.2 172.63,1759" fill="#c8961a" stroke="#3d3d3d" stroke-width="2.2" stroke-linejoin="miter"/><polygon points="212,1749.3 218.84,1756.5 212,1763.7 205.16,1756.5" fill="#c8961a" stroke="#3d3d3d" stroke-width="2.2" stroke-linejoin="miter"/><polygon points="244.54,1747 251.38,1754.2 244.54,1761.4 237.7,1754.2" fill="#c8961a" stroke="#3d3d3d" stroke-width="2.2" stroke-linejoin="miter"/><polygon points="277.07,1744.8 283.91,1752 277.07,1759.2 270.24,1752" fill="#c8961a" stroke="#3d3d3d" stroke-width="2.2" stroke-linejoin="miter"/><polygon points="309.61,1742.8 316.45,1750 309.61,1757.2 302.77,1750" fill="#c8961a" stroke="#3d3d3d" stroke-width="2.2" stroke-linejoin="miter"/><polygon points="342.14,1740.8 348.98,1748 342.14,1755.2 335.31,1748" fill="#c8961a" stroke="#3d3d3d" stroke-width="2.2" stroke-linejoin="miter"/><polygon points="374.68,1738.8 381.52,1746 374.68,1753.2 367.84,1746" fill="#c8961a" stroke="#3d3d3d" stroke-width="2.2" stroke-linejoin="miter"/><polygon points="407.22,1736.8 414.06,1744 407.22,1751.2 400.38,1744" fill="#c8961a" stroke="#3d3d3d" stroke-width="2.2" stroke-linejoin="miter"/><polygon points="439.75,1734.8 446.59,1742 439.75,1749.2 432.91,1742" fill="#c8961a" stroke="#3d3d3d" stroke-width="2.2" stroke-linejoin="miter"/><polygon points="472.28,1732.6 479.12,1739.8 472.28,1747 465.44,1739.8" fill="#c8961a" stroke="#3d3d3d" stroke-width="2.2" stroke-linejoin="miter"/><polygon points="504.82,1730.3 511.66,1737.5 504.82,1744.7 497.98,1737.5" fill="#c8961a" stroke="#3d3d3d" stroke-width="2.2" stroke-linejoin="miter"/><path d="M120.91,1755.5 C125.25,1755.47 137.17,1755.53 146.94,1755.3 C156.7,1755.07 168.62,1754.38 179.47,1754.1 C190.31,1753.82 201.16,1753.92 212,1753.6 C222.85,1753.28 233.69,1752.6 244.54,1752.2 C255.38,1751.8 266.23,1751.57 277.07,1751.2 C287.92,1750.83 298.76,1750.4 309.61,1750 C320.46,1749.6 331.3,1749.23 342.14,1748.8 C352.99,1748.37 363.83,1747.87 374.68,1747.4 C385.52,1746.93 396.37,1746.48 407.22,1746 C418.06,1745.52 428.91,1745.08 439.75,1744.5 C450.59,1743.92 461.44,1743.17 472.28,1742.5 C483.13,1741.83 499.4,1740.83 504.82,1740.5" fill="none" stroke="#2eb8bc" stroke-width="2.8"/><polygon points="113.91,1755.5 125.25,1748.85 125.25,1762.15" fill="#35b8bc" stroke="#3d3d3d" stroke-width="2.2" stroke-linejoin="miter"/><polygon points="139.94,1755.3 151.28,1748.65 151.28,1761.95" fill="#35b8bc" stroke="#3d3d3d" stroke-width="2.2" stroke-linejoin="miter"/><polygon points="172.47,1754.1 183.81,1747.45 183.81,1760.75" fill="#35b8bc" stroke="#3d3d3d" stroke-width="2.2" stroke-linejoin="miter"/><polygon points="205,1753.6 216.34,1746.95 216.34,1760.25" fill="#35b8bc" stroke="#3d3d3d" stroke-width="2.2" stroke-linejoin="miter"/><polygon points="237.54,1752.2 248.88,1745.55 248.88,1758.85" fill="#35b8bc" stroke="#3d3d3d" stroke-width="2.2" stroke-linejoin="miter"/><polygon points="270.07,1751.2 281.41,1744.55 281.41,1757.85" fill="#35b8bc" stroke="#3d3d3d" stroke-width="2.2" stroke-linejoin="miter"/><polygon points="302.61,1750 313.95,1743.35 313.95,1756.65" fill="#35b8bc" stroke="#3d3d3d" stroke-width="2.2" stroke-linejoin="miter"/><polygon points="335.14,1748.8 346.48,1742.15 346.48,1755.45" fill="#35b8bc" stroke="#3d3d3d" stroke-width="2.2" stroke-linejoin="miter"/><polygon points="367.68,1747.4 379.02,1740.75 379.02,1754.05" fill="#35b8bc" stroke="#3d3d3d" stroke-width="2.2" stroke-linejoin="miter"/><polygon points="400.22,1746 411.56,1739.35 411.56,1752.65" fill="#35b8bc" stroke="#3d3d3d" stroke-width="2.2" stroke-linejoin="miter"/><polygon points="432.75,1744.5 444.09,1737.85 444.09,1751.15" fill="#35b8bc" stroke="#3d3d3d" stroke-width="2.2" stroke-linejoin="miter"/><polygon points="465.28,1742.5 476.62,1735.85 476.62,1749.15" fill="#35b8bc" stroke="#3d3d3d" stroke-width="2.2" stroke-linejoin="miter"/><polygon points="497.82,1740.5 509.16,1733.85 509.16,1747.15" fill="#35b8bc" stroke="#3d3d3d" stroke-width="2.2" stroke-linejoin="miter"/><path d="M120.91,1760 C125.25,1760.17 137.17,1761 146.94,1761 C156.7,1761 168.62,1760.17 179.47,1760 C190.31,1759.83 201.16,1760.1 212,1760 C222.85,1759.9 233.69,1759.6 244.54,1759.4 C255.38,1759.2 266.23,1758.98 277.07,1758.8 C287.92,1758.62 298.76,1758.45 309.61,1758.3 C320.46,1758.15 331.3,1758.02 342.14,1757.9 C352.99,1757.78 363.83,1757.7 374.68,1757.6 C385.52,1757.5 396.37,1757.4 407.22,1757.3 C418.06,1757.2 428.91,1757.12 439.75,1757 C450.59,1756.88 461.44,1756.72 472.28,1756.6 C483.13,1756.48 499.4,1756.35 504.82,1756.3" fill="none" stroke="#4a4a4a" stroke-width="2.8"/><polygon points="127.91,1760 116.57,1753.35 116.57,1766.65" fill="#4a4a4a" stroke="#3d3d3d" stroke-width="2.2" stroke-linejoin="miter"/><polygon points="153.94,1761 142.59,1754.35 142.59,1767.65" fill="#4a4a4a" stroke="#3d3d3d" stroke-width="2.2" stroke-linejoin="miter"/><polygon points="186.47,1760 175.13,1753.35 175.13,1766.65" fill="#4a4a4a" stroke="#3d3d3d" stroke-width="2.2" stroke-linejoin="miter"/><polygon points="219,1760 207.66,1753.35 207.66,1766.65" fill="#4a4a4a" stroke="#3d3d3d" stroke-width="2.2" stroke-linejoin="miter"/><polygon points="251.54,1759.4 240.2,1752.75 240.2,1766.05" fill="#4a4a4a" stroke="#3d3d3d" stroke-width="2.2" stroke-linejoin="miter"/><polygon points="284.07,1758.8 272.74,1752.15 272.74,1765.45" fill="#4a4a4a" stroke="#3d3d3d" stroke-width="2.2" stroke-linejoin="miter"/><polygon points="316.61,1758.3 305.27,1751.65 305.27,1764.95" fill="#4a4a4a" stroke="#3d3d3d" stroke-width="2.2" stroke-linejoin="miter"/><polygon points="349.14,1757.9 337.81,1751.25 337.81,1764.55" fill="#4a4a4a" stroke="#3d3d3d" stroke-width="2.2" stroke-linejoin="miter"/><polygon points="381.68,1757.6 370.34,1750.95 370.34,1764.25" fill="#4a4a4a" stroke="#3d3d3d" stroke-width="2.2" stroke-linejoin="miter"/><polygon points="414.22,1757.3 402.88,1750.65 402.88,1763.95" fill="#4a4a4a" stroke="#3d3d3d" stroke-width="2.2" stroke-linejoin="miter"/><polygon points="446.75,1757 435.41,1750.35 435.41,1763.65" fill="#4a4a4a" stroke="#3d3d3d" stroke-width="2.2" stroke-linejoin="miter"/><polygon points="479.28,1756.6 467.94,1749.95 467.94,1763.25" fill="#4a4a4a" stroke="#3d3d3d" stroke-width="2.2" stroke-linejoin="miter"/><polygon points="511.82,1756.3 500.48,1749.65 500.48,1762.95" fill="#4a4a4a" stroke="#3d3d3d" stroke-width="2.2" stroke-linejoin="miter"/><path d="M120.91,1757.4 C125.25,1755.4 137.17,1748.47 146.94,1745.4 C156.7,1742.33 168.62,1741.13 179.47,1739 C190.31,1736.87 201.16,1734.63 212,1732.6 C222.85,1730.57 233.69,1728.73 244.54,1726.8 C255.38,1724.87 266.23,1722.97 277.07,1721 C287.92,1719.03 298.76,1716.92 309.61,1715 C320.46,1713.08 331.3,1711.33 342.14,1709.5 C352.99,1707.67 363.83,1705.67 374.68,1704 C385.52,1702.33 396.37,1701.22 407.22,1699.5 C418.06,1697.78 428.91,1695.57 439.75,1693.7 C450.59,1691.83 461.44,1689.97 472.28,1688.3 C483.13,1686.63 499.4,1684.47 504.82,1683.7" fill="none" stroke="#e03c3c" stroke-width="2.8"/><ellipse cx="120.91" cy="1757.4" rx="5.6" ry="6.4" fill="#e04444" stroke="#3d3d3d" stroke-width="2.2"/><ellipse cx="146.94" cy="1745.4" rx="5.6" ry="6.4" fill="#e04444" stroke="#3d3d3d" stroke-width="2.2"/><ellipse cx="179.47" cy="1739" rx="5.6" ry="6.4" fill="#e04444" stroke="#3d3d3d" stroke-width="2.2"/><ellipse cx="212" cy="1732.6" rx="5.6" ry="6.4" fill="#e04444" stroke="#3d3d3d" stroke-width="2.2"/><ellipse cx="244.54" cy="1726.8" rx="5.6" ry="6.4" fill="#e04444" stroke="#3d3d3d" stroke-width="2.2"/><ellipse cx="277.07" cy="1721" rx="5.6" ry="6.4" fill="#e04444" stroke="#3d3d3d" stroke-width="2.2"/><ellipse cx="309.61" cy="1715" rx="5.6" ry="6.4" fill="#e04444" stroke="#3d3d3d" stroke-width="2.2"/><ellipse cx="342.14" cy="1709.5" rx="5.6" ry="6.4" fill="#e04444" stroke="#3d3d3d" stroke-width="2.2"/><ellipse cx="374.68" cy="1704" rx="5.6" ry="6.4" fill="#e04444" stroke="#3d3d3d" stroke-width="2.2"/><ellipse cx="407.22" cy="1699.5" rx="5.6" ry="6.4" fill="#e04444" stroke="#3d3d3d" stroke-width="2.2"/><ellipse cx="439.75" cy="1693.7" rx="5.6" ry="6.4" fill="#e04444" stroke="#3d3d3d" stroke-width="2.2"/><ellipse cx="472.28" cy="1688.3" rx="5.6" ry="6.4" fill="#e04444" stroke="#3d3d3d" stroke-width="2.2"/><ellipse cx="504.82" cy="1683.7" rx="5.6" ry="6.4" fill="#e04444" stroke="#3d3d3d" stroke-width="2.2"/><path d="M120.91,1499.14 C125.25,1490.74 137.17,1462.45 146.94,1448.75 C156.7,1435.05 168.62,1425.03 179.47,1416.95 C190.31,1408.88 201.16,1404.72 212,1400.32 C222.85,1395.92 233.69,1393.31 244.54,1390.54 C255.38,1387.76 266.23,1385.56 277.07,1383.69 C287.92,1381.81 298.76,1380.63 309.61,1379.29 C320.46,1377.94 331.3,1376.64 342.14,1375.62 C352.99,1374.6 363.83,1373.9 374.68,1373.17 C385.52,1372.44 396.37,1371.78 407.22,1371.21 C418.06,1370.64 428.91,1370.24 439.75,1369.75 C450.59,1369.26 461.44,1368.69 472.28,1368.28 C483.13,1367.87 499.4,1367.46 504.82,1367.3" fill="none" stroke="#2563ad" stroke-width="2.8"/><rect x="115.71" y="1493.94" width="10.4" height="10.4" fill="#2a62b0" stroke="#3d3d3d" stroke-width="2.2"/><rect x="141.74" y="1443.55" width="10.4" height="10.4" fill="#2a62b0" stroke="#3d3d3d" stroke-width="2.2"/><rect x="174.27" y="1411.75" width="10.4" height="10.4" fill="#2a62b0" stroke="#3d3d3d" stroke-width="2.2"/><rect x="206.81" y="1395.12" width="10.4" height="10.4" fill="#2a62b0" stroke="#3d3d3d" stroke-width="2.2"/><rect x="239.34" y="1385.34" width="10.4" height="10.4" fill="#2a62b0" stroke="#3d3d3d" stroke-width="2.2"/><rect x="271.88" y="1378.49" width="10.4" height="10.4" fill="#2a62b0" stroke="#3d3d3d" stroke-width="2.2"/><rect x="304.41" y="1374.09" width="10.4" height="10.4" fill="#2a62b0" stroke="#3d3d3d" stroke-width="2.2"/><rect x="336.94" y="1370.42" width="10.4" height="10.4" fill="#2a62b0" stroke="#3d3d3d" stroke-width="2.2"/><rect x="369.48" y="1367.97" width="10.4" height="10.4" fill="#2a62b0" stroke="#3d3d3d" stroke-width="2.2"/><rect x="402.02" y="1366.01" width="10.4" height="10.4" fill="#2a62b0" stroke="#3d3d3d" stroke-width="2.2"/><rect x="434.55" y="1364.55" width="10.4" height="10.4" fill="#2a62b0" stroke="#3d3d3d" stroke-width="2.2"/><rect x="467.08" y="1363.08" width="10.4" height="10.4" fill="#2a62b0" stroke="#3d3d3d" stroke-width="2.2"/><rect x="499.62" y="1362.1" width="10.4" height="10.4" fill="#2a62b0" stroke="#3d3d3d" stroke-width="2.2"/><line x1="369.3" y1="1471.5" x2="414.8" y2="1471.5" stroke="#2563ad" stroke-width="2.4"/><rect x="386.6" y="1466.3" width="10.4" height="10.4" fill="#2a62b0" stroke="#3d3d3d" stroke-width="2.2"/><text x="424.5" y="1479.9" font-size="22">T<tspan font-size="19" dy="6.7">20</tspan></text><line x1="369.3" y1="1498.4" x2="414.8" y2="1498.4" stroke="#e03c3c" stroke-width="2.4"/><ellipse cx="391.8" cy="1498.4" rx="5.6" ry="6.4" fill="#e04444" stroke="#3d3d3d" stroke-width="2.2"/><text x="424.5" y="1506.2" font-size="22">R1+R2+Bridge</text><line x1="369.3" y1="1525.3" x2="414.8" y2="1525.3" stroke="#2e9e5e" stroke-width="2.4"/><polygon points="391.8,1518.3 398.45,1529.64 385.15,1529.64" fill="#2ea05e" stroke="#3d3d3d" stroke-width="2.2" stroke-linejoin="miter"/><text x="424.5" y="1533.1" font-size="22">R1+Bridge</text><line x1="369.3" y1="1552.2" x2="414.8" y2="1552.2" stroke="#9b72c0" stroke-width="2.4"/><polygon points="391.8,1559.2 398.45,1547.86 385.15,1547.86" fill="#9b6cc0" stroke="#3d3d3d" stroke-width="2.2" stroke-linejoin="miter"/><text x="424.5" y="1560" font-size="22">R2+Bridge</text><line x1="369.3" y1="1579.1" x2="414.8" y2="1579.1" stroke="#c89412" stroke-width="2.4"/><polygon points="391.8,1571.9 398.64,1579.1 391.8,1586.3 384.96,1579.1" fill="#c8961a" stroke="#3d3d3d" stroke-width="2.2" stroke-linejoin="miter"/><text x="424.5" y="1586.9" font-size="22">R1+R2</text><line x1="369.3" y1="1606" x2="414.8" y2="1606" stroke="#2eb8bc" stroke-width="2.4"/><polygon points="384.8,1606 396.14,1599.35 396.14,1612.65" fill="#35b8bc" stroke="#3d3d3d" stroke-width="2.2" stroke-linejoin="miter"/><text x="424.5" y="1613.8" font-size="22">Bridge</text><line x1="369.3" y1="1632.9" x2="414.8" y2="1632.9" stroke="#4a4a4a" stroke-width="2.4"/><polygon points="398.8,1632.9 387.46,1626.25 387.46,1639.55" fill="#4a4a4a" stroke="#3d3d3d" stroke-width="2.2" stroke-linejoin="miter"/><text x="424.5" y="1640.7" font-size="22">w/o R1, R2 and bridge</text><text x="1010.9" y="1305.6" font-size="26.8" text-anchor="middle">23-nt RNA activators with 3-nt bumper</text><line x1="763.8" y1="1342.3" x2="763.8" y2="1816" stroke="#000" stroke-width="3"/><line x1="762.3" y1="1343.5" x2="767.8" y2="1343.5" stroke="#000" stroke-width="2.5"/><line x1="763.8" y1="1383.5" x2="771.9" y2="1383.5" stroke="#000" stroke-width="2.5"/><text x="758" y="1389.9" font-size="23.5" text-anchor="end">1.0</text><line x1="763.8" y1="1462.12" x2="771.9" y2="1462.12" stroke="#000" stroke-width="2.5"/><text x="758" y="1468.52" font-size="23.5" text-anchor="end">0.8</text><line x1="763.8" y1="1540.74" x2="771.9" y2="1540.74" stroke="#000" stroke-width="2.5"/><text x="758" y="1547.14" font-size="23.5" text-anchor="end">0.6</text><line x1="763.8" y1="1619.36" x2="771.9" y2="1619.36" stroke="#000" stroke-width="2.5"/><text x="758" y="1625.76" font-size="23.5" text-anchor="end">0.4</text><line x1="763.8" y1="1697.98" x2="771.9" y2="1697.98" stroke="#000" stroke-width="2.5"/><text x="758" y="1704.38" font-size="23.5" text-anchor="end">0.2</text><line x1="763.8" y1="1776.6" x2="771.9" y2="1776.6" stroke="#000" stroke-width="2.5"/><text x="758" y="1783" font-size="23.5" text-anchor="end">0.0</text><line x1="762.3" y1="1815.5" x2="1284.3" y2="1815.5" stroke="#000" stroke-width="3"/><line x1="796.3" y1="1815.5" x2="796.3" y2="1806" stroke="#000" stroke-width="2.5"/><text x="796.3" y="1842.5" font-size="23.5" text-anchor="middle">0</text><line x1="861.37" y1="1815.5" x2="861.37" y2="1806" stroke="#000" stroke-width="2.5"/><text x="861.37" y="1842.5" font-size="23.5" text-anchor="middle">10</text><line x1="926.44" y1="1815.5" x2="926.44" y2="1806" stroke="#000" stroke-width="2.5"/><text x="926.44" y="1842.5" font-size="23.5" text-anchor="middle">20</text><line x1="991.51" y1="1815.5" x2="991.51" y2="1806" stroke="#000" stroke-width="2.5"/><text x="991.51" y="1842.5" font-size="23.5" text-anchor="middle">30</text><line x1="1056.58" y1="1815.5" x2="1056.58" y2="1806" stroke="#000" stroke-width="2.5"/><text x="1056.58" y="1842.5" font-size="23.5" text-anchor="middle">40</text><line x1="1121.65" y1="1815.5" x2="1121.65" y2="1806" stroke="#000" stroke-width="2.5"/><text x="1121.65" y="1842.5" font-size="23.5" text-anchor="middle">50</text><line x1="1186.72" y1="1815.5" x2="1186.72" y2="1806" stroke="#000" stroke-width="2.5"/><text x="1186.72" y="1842.5" font-size="23.5" text-anchor="middle">60</text><line x1="1251.79" y1="1815.5" x2="1251.79" y2="1806" stroke="#000" stroke-width="2.5"/><text x="1251.79" y="1842.5" font-size="23.5" text-anchor="middle">70</text><text x="1022.3" y="1881" font-size="26.6" text-anchor="middle">Time (min)</text><text transform="translate(703,1577.5) rotate(-90)" font-size="26.9" text-anchor="middle">Normalized fluorescence relative to T<tspan font-size="20.71">20</tspan></text><path d="M802.81,1776.6 C807.14,1776.6 819.07,1776.6 828.83,1776.6 C838.6,1776.6 850.52,1776.67 861.37,1776.6 C872.21,1776.53 883.06,1776.27 893.9,1776.21 C904.75,1776.14 915.59,1776.21 926.44,1776.21 C937.28,1776.21 948.13,1776.27 958.97,1776.21 C969.82,1776.14 980.66,1775.88 991.51,1775.81 C1002.36,1775.75 1013.2,1775.81 1024.04,1775.81 C1034.89,1775.81 1045.73,1775.88 1056.58,1775.81 C1067.42,1775.75 1078.27,1775.49 1089.12,1775.42 C1099.96,1775.36 1110.8,1775.42 1121.65,1775.42 C1132.49,1775.42 1143.34,1775.49 1154.18,1775.42 C1165.03,1775.36 1181.3,1775.09 1186.72,1775.03" fill="none" stroke="#9b72c0" stroke-width="2.8"/><polygon points="802.81,1783.6 809.46,1772.26 796.16,1772.26" fill="#9b6cc0" stroke="#3d3d3d" stroke-width="2.2" stroke-linejoin="miter"/><polygon points="828.83,1783.6 835.48,1772.26 822.18,1772.26" fill="#9b6cc0" stroke="#3d3d3d" stroke-width="2.2" stroke-linejoin="miter"/><polygon points="861.37,1783.6 868.02,1772.26 854.72,1772.26" fill="#9b6cc0" stroke="#3d3d3d" stroke-width="2.2" stroke-linejoin="miter"/><polygon points="893.9,1783.21 900.55,1771.87 887.25,1771.87" fill="#9b6cc0" stroke="#3d3d3d" stroke-width="2.2" stroke-linejoin="miter"/><polygon points="926.44,1783.21 933.09,1771.87 919.79,1771.87" fill="#9b6cc0" stroke="#3d3d3d" stroke-width="2.2" stroke-linejoin="miter"/><polygon points="958.97,1783.21 965.62,1771.87 952.32,1771.87" fill="#9b6cc0" stroke="#3d3d3d" stroke-width="2.2" stroke-linejoin="miter"/><polygon points="991.51,1782.81 998.16,1771.47 984.86,1771.47" fill="#9b6cc0" stroke="#3d3d3d" stroke-width="2.2" stroke-linejoin="miter"/><polygon points="1024.04,1782.81 1030.69,1771.47 1017.39,1771.47" fill="#9b6cc0" stroke="#3d3d3d" stroke-width="2.2" stroke-linejoin="miter"/><polygon points="1056.58,1782.81 1063.23,1771.47 1049.93,1771.47" fill="#9b6cc0" stroke="#3d3d3d" stroke-width="2.2" stroke-linejoin="miter"/><polygon points="1089.12,1782.42 1095.77,1771.08 1082.46,1771.08" fill="#9b6cc0" stroke="#3d3d3d" stroke-width="2.2" stroke-linejoin="miter"/><polygon points="1121.65,1782.42 1128.3,1771.08 1115,1771.08" fill="#9b6cc0" stroke="#3d3d3d" stroke-width="2.2" stroke-linejoin="miter"/><polygon points="1154.18,1782.42 1160.84,1771.08 1147.53,1771.08" fill="#9b6cc0" stroke="#3d3d3d" stroke-width="2.2" stroke-linejoin="miter"/><polygon points="1186.72,1782.03 1193.37,1770.69 1180.07,1770.69" fill="#9b6cc0" stroke="#3d3d3d" stroke-width="2.2" stroke-linejoin="miter"/><path d="M802.81,1776.6 C807.14,1776.6 819.07,1776.67 828.83,1776.6 C838.6,1776.53 850.52,1776.27 861.37,1776.21 C872.21,1776.14 883.06,1776.27 893.9,1776.21 C904.75,1776.14 915.59,1775.88 926.44,1775.81 C937.28,1775.75 948.13,1775.88 958.97,1775.81 C969.82,1775.75 980.66,1775.49 991.51,1775.42 C1002.36,1775.36 1013.2,1775.49 1024.04,1775.42 C1034.89,1775.36 1045.73,1775.09 1056.58,1775.03 C1067.42,1774.96 1078.27,1775.09 1089.12,1775.03 C1099.96,1774.96 1110.8,1774.7 1121.65,1774.63 C1132.49,1774.57 1143.34,1774.7 1154.18,1774.63 C1165.03,1774.57 1181.3,1774.31 1186.72,1774.24" fill="none" stroke="#2e9e5e" stroke-width="2.8"/><polygon points="802.81,1769.6 809.46,1780.94 796.16,1780.94" fill="#2ea05e" stroke="#3d3d3d" stroke-width="2.2" stroke-linejoin="miter"/><polygon points="828.83,1769.6 835.48,1780.94 822.18,1780.94" fill="#2ea05e" stroke="#3d3d3d" stroke-width="2.2" stroke-linejoin="miter"/><polygon points="861.37,1769.21 868.02,1780.55 854.72,1780.55" fill="#2ea05e" stroke="#3d3d3d" stroke-width="2.2" stroke-linejoin="miter"/><polygon points="893.9,1769.21 900.55,1780.55 887.25,1780.55" fill="#2ea05e" stroke="#3d3d3d" stroke-width="2.2" stroke-linejoin="miter"/><polygon points="926.44,1768.81 933.09,1780.15 919.79,1780.15" fill="#2ea05e" stroke="#3d3d3d" stroke-width="2.2" stroke-linejoin="miter"/><polygon points="958.97,1768.81 965.62,1780.15 952.32,1780.15" fill="#2ea05e" stroke="#3d3d3d" stroke-width="2.2" stroke-linejoin="miter"/><polygon points="991.51,1768.42 998.16,1779.76 984.86,1779.76" fill="#2ea05e" stroke="#3d3d3d" stroke-width="2.2" stroke-linejoin="miter"/><polygon points="1024.04,1768.42 1030.69,1779.76 1017.39,1779.76" fill="#2ea05e" stroke="#3d3d3d" stroke-width="2.2" stroke-linejoin="miter"/><polygon points="1056.58,1768.03 1063.23,1779.37 1049.93,1779.37" fill="#2ea05e" stroke="#3d3d3d" stroke-width="2.2" stroke-linejoin="miter"/><polygon points="1089.12,1768.03 1095.77,1779.37 1082.46,1779.37" fill="#2ea05e" stroke="#3d3d3d" stroke-width="2.2" stroke-linejoin="miter"/><polygon points="1121.65,1767.63 1128.3,1778.97 1115,1778.97" fill="#2ea05e" stroke="#3d3d3d" stroke-width="2.2" stroke-linejoin="miter"/><polygon points="1154.18,1767.63 1160.84,1778.97 1147.53,1778.97" fill="#2ea05e" stroke="#3d3d3d" stroke-width="2.2" stroke-linejoin="miter"/><polygon points="1186.72,1767.24 1193.37,1778.58 1180.07,1778.58" fill="#2ea05e" stroke="#3d3d3d" stroke-width="2.2" stroke-linejoin="miter"/><path d="M802.81,1776.6 C807.14,1776.6 819.07,1776.67 828.83,1776.6 C838.6,1776.53 850.52,1776.34 861.37,1776.21 C872.21,1776.08 883.06,1775.88 893.9,1775.81 C904.75,1775.75 915.59,1775.88 926.44,1775.81 C937.28,1775.75 948.13,1775.55 958.97,1775.42 C969.82,1775.29 980.66,1775.16 991.51,1775.03 C1002.36,1774.9 1013.2,1774.7 1024.04,1774.63 C1034.89,1774.57 1045.73,1774.7 1056.58,1774.63 C1067.42,1774.57 1078.27,1774.37 1089.12,1774.24 C1099.96,1774.11 1110.8,1773.91 1121.65,1773.85 C1132.49,1773.78 1143.34,1773.91 1154.18,1773.85 C1165.03,1773.78 1181.3,1773.52 1186.72,1773.46" fill="none" stroke="#c89412" stroke-width="2.8"/><polygon points="802.81,1769.4 809.65,1776.6 802.81,1783.8 795.97,1776.6" fill="#c8961a" stroke="#3d3d3d" stroke-width="2.2" stroke-linejoin="miter"/><polygon points="828.83,1769.4 835.67,1776.6 828.83,1783.8 821.99,1776.6" fill="#c8961a" stroke="#3d3d3d" stroke-width="2.2" stroke-linejoin="miter"/><polygon points="861.37,1769.01 868.21,1776.21 861.37,1783.41 854.53,1776.21" fill="#c8961a" stroke="#3d3d3d" stroke-width="2.2" stroke-linejoin="miter"/><polygon points="893.9,1768.61 900.75,1775.81 893.9,1783.01 887.06,1775.81" fill="#c8961a" stroke="#3d3d3d" stroke-width="2.2" stroke-linejoin="miter"/><polygon points="926.44,1768.61 933.28,1775.81 926.44,1783.01 919.6,1775.81" fill="#c8961a" stroke="#3d3d3d" stroke-width="2.2" stroke-linejoin="miter"/><polygon points="958.97,1768.22 965.81,1775.42 958.97,1782.62 952.13,1775.42" fill="#c8961a" stroke="#3d3d3d" stroke-width="2.2" stroke-linejoin="miter"/><polygon points="991.51,1767.83 998.35,1775.03 991.51,1782.23 984.67,1775.03" fill="#c8961a" stroke="#3d3d3d" stroke-width="2.2" stroke-linejoin="miter"/><polygon points="1024.04,1767.43 1030.88,1774.63 1024.04,1781.83 1017.2,1774.63" fill="#c8961a" stroke="#3d3d3d" stroke-width="2.2" stroke-linejoin="miter"/><polygon points="1056.58,1767.43 1063.42,1774.63 1056.58,1781.83 1049.74,1774.63" fill="#c8961a" stroke="#3d3d3d" stroke-width="2.2" stroke-linejoin="miter"/><polygon points="1089.12,1767.04 1095.95,1774.24 1089.12,1781.44 1082.28,1774.24" fill="#c8961a" stroke="#3d3d3d" stroke-width="2.2" stroke-linejoin="miter"/><polygon points="1121.65,1766.65 1128.49,1773.85 1121.65,1781.05 1114.81,1773.85" fill="#c8961a" stroke="#3d3d3d" stroke-width="2.2" stroke-linejoin="miter"/><polygon points="1154.18,1766.65 1161.02,1773.85 1154.18,1781.05 1147.35,1773.85" fill="#c8961a" stroke="#3d3d3d" stroke-width="2.2" stroke-linejoin="miter"/><polygon points="1186.72,1766.26 1193.56,1773.46 1186.72,1780.66 1179.88,1773.46" fill="#c8961a" stroke="#3d3d3d" stroke-width="2.2" stroke-linejoin="miter"/><path d="M802.81,1776.6 C807.14,1776.6 819.07,1776.67 828.83,1776.6 C838.6,1776.53 850.52,1776.27 861.37,1776.21 C872.21,1776.14 883.06,1776.27 893.9,1776.21 C904.75,1776.14 915.59,1775.88 926.44,1775.81 C937.28,1775.75 948.13,1775.81 958.97,1775.81 C969.82,1775.81 980.66,1775.88 991.51,1775.81 C1002.36,1775.75 1013.2,1775.49 1024.04,1775.42 C1034.89,1775.36 1045.73,1775.42 1056.58,1775.42 C1067.42,1775.42 1078.27,1775.49 1089.12,1775.42 C1099.96,1775.36 1110.8,1775.09 1121.65,1775.03 C1132.49,1774.96 1143.34,1775.03 1154.18,1775.03 C1165.03,1775.03 1181.3,1775.03 1186.72,1775.03" fill="none" stroke="#2eb8bc" stroke-width="2.8"/><polygon points="795.81,1776.6 807.15,1769.95 807.15,1783.25" fill="#35b8bc" stroke="#3d3d3d" stroke-width="2.2" stroke-linejoin="miter"/><polygon points="821.83,1776.6 833.17,1769.95 833.17,1783.25" fill="#35b8bc" stroke="#3d3d3d" stroke-width="2.2" stroke-linejoin="miter"/><polygon points="854.37,1776.21 865.71,1769.56 865.71,1782.86" fill="#35b8bc" stroke="#3d3d3d" stroke-width="2.2" stroke-linejoin="miter"/><polygon points="886.9,1776.21 898.25,1769.56 898.25,1782.86" fill="#35b8bc" stroke="#3d3d3d" stroke-width="2.2" stroke-linejoin="miter"/><polygon points="919.44,1775.81 930.78,1769.16 930.78,1782.46" fill="#35b8bc" stroke="#3d3d3d" stroke-width="2.2" stroke-linejoin="miter"/><polygon points="951.97,1775.81 963.31,1769.16 963.31,1782.46" fill="#35b8bc" stroke="#3d3d3d" stroke-width="2.2" stroke-linejoin="miter"/><polygon points="984.51,1775.81 995.85,1769.16 995.85,1782.46" fill="#35b8bc" stroke="#3d3d3d" stroke-width="2.2" stroke-linejoin="miter"/><polygon points="1017.04,1775.42 1028.38,1768.77 1028.38,1782.07" fill="#35b8bc" stroke="#3d3d3d" stroke-width="2.2" stroke-linejoin="miter"/><polygon points="1049.58,1775.42 1060.92,1768.77 1060.92,1782.07" fill="#35b8bc" stroke="#3d3d3d" stroke-width="2.2" stroke-linejoin="miter"/><polygon points="1082.12,1775.42 1093.45,1768.77 1093.45,1782.07" fill="#35b8bc" stroke="#3d3d3d" stroke-width="2.2" stroke-linejoin="miter"/><polygon points="1114.65,1775.03 1125.99,1768.38 1125.99,1781.68" fill="#35b8bc" stroke="#3d3d3d" stroke-width="2.2" stroke-linejoin="miter"/><polygon points="1147.18,1775.03 1158.52,1768.38 1158.52,1781.68" fill="#35b8bc" stroke="#3d3d3d" stroke-width="2.2" stroke-linejoin="miter"/><polygon points="1179.72,1775.03 1191.06,1768.38 1191.06,1781.68" fill="#35b8bc" stroke="#3d3d3d" stroke-width="2.2" stroke-linejoin="miter"/><path d="M802.81,1776.6 C807.14,1776.6 819.07,1776.6 828.83,1776.6 C838.6,1776.6 850.52,1776.6 861.37,1776.6 C872.21,1776.6 883.06,1776.6 893.9,1776.6 C904.75,1776.6 915.59,1776.6 926.44,1776.6 C937.28,1776.6 948.13,1776.6 958.97,1776.6 C969.82,1776.6 980.66,1776.6 991.51,1776.6 C1002.36,1776.6 1013.2,1776.6 1024.04,1776.6 C1034.89,1776.6 1045.73,1776.6 1056.58,1776.6 C1067.42,1776.6 1078.27,1776.6 1089.12,1776.6 C1099.96,1776.6 1110.8,1776.6 1121.65,1776.6 C1132.49,1776.6 1143.34,1776.6 1154.18,1776.6 C1165.03,1776.6 1181.3,1776.6 1186.72,1776.6" fill="none" stroke="#4a4a4a" stroke-width="2.8"/><polygon points="809.81,1776.6 798.47,1769.95 798.47,1783.25" fill="#4a4a4a" stroke="#3d3d3d" stroke-width="2.2" stroke-linejoin="miter"/><polygon points="835.83,1776.6 824.49,1769.95 824.49,1783.25" fill="#4a4a4a" stroke="#3d3d3d" stroke-width="2.2" stroke-linejoin="miter"/><polygon points="868.37,1776.6 857.03,1769.95 857.03,1783.25" fill="#4a4a4a" stroke="#3d3d3d" stroke-width="2.2" stroke-linejoin="miter"/><polygon points="900.9,1776.6 889.56,1769.95 889.56,1783.25" fill="#4a4a4a" stroke="#3d3d3d" stroke-width="2.2" stroke-linejoin="miter"/><polygon points="933.44,1776.6 922.1,1769.95 922.1,1783.25" fill="#4a4a4a" stroke="#3d3d3d" stroke-width="2.2" stroke-linejoin="miter"/><polygon points="965.97,1776.6 954.63,1769.95 954.63,1783.25" fill="#4a4a4a" stroke="#3d3d3d" stroke-width="2.2" stroke-linejoin="miter"/><polygon points="998.51,1776.6 987.17,1769.95 987.17,1783.25" fill="#4a4a4a" stroke="#3d3d3d" stroke-width="2.2" stroke-linejoin="miter"/><polygon points="1031.04,1776.6 1019.7,1769.95 1019.7,1783.25" fill="#4a4a4a" stroke="#3d3d3d" stroke-width="2.2" stroke-linejoin="miter"/><polygon points="1063.58,1776.6 1052.24,1769.95 1052.24,1783.25" fill="#4a4a4a" stroke="#3d3d3d" stroke-width="2.2" stroke-linejoin="miter"/><polygon points="1096.12,1776.6 1084.78,1769.95 1084.78,1783.25" fill="#4a4a4a" stroke="#3d3d3d" stroke-width="2.2" stroke-linejoin="miter"/><polygon points="1128.65,1776.6 1117.31,1769.95 1117.31,1783.25" fill="#4a4a4a" stroke="#3d3d3d" stroke-width="2.2" stroke-linejoin="miter"/><polygon points="1161.18,1776.6 1149.85,1769.95 1149.85,1783.25" fill="#4a4a4a" stroke="#3d3d3d" stroke-width="2.2" stroke-linejoin="miter"/><polygon points="1193.72,1776.6 1182.38,1769.95 1182.38,1783.25" fill="#4a4a4a" stroke="#3d3d3d" stroke-width="2.2" stroke-linejoin="miter"/><path d="M802.81,1768.74 C807.14,1767.49 819.07,1764.02 828.83,1761.27 C838.6,1758.52 850.52,1755.24 861.37,1752.23 C872.21,1749.21 883.06,1746.2 893.9,1743.19 C904.75,1740.17 915.59,1736.96 926.44,1734.15 C937.28,1731.33 948.13,1728.9 958.97,1726.28 C969.82,1723.66 980.66,1720.98 991.51,1718.42 C1002.36,1715.87 1013.2,1713.31 1024.04,1710.95 C1034.89,1708.59 1045.73,1706.5 1056.58,1704.27 C1067.42,1702.04 1078.27,1699.75 1089.12,1697.59 C1099.96,1695.42 1110.8,1693.33 1121.65,1691.3 C1132.49,1689.27 1143.34,1687.37 1154.18,1685.4 C1165.03,1683.44 1181.3,1680.49 1186.72,1679.5" fill="none" stroke="#e03c3c" stroke-width="2.8"/><ellipse cx="802.81" cy="1768.74" rx="5.6" ry="6.4" fill="#e04444" stroke="#3d3d3d" stroke-width="2.2"/><ellipse cx="828.83" cy="1761.27" rx="5.6" ry="6.4" fill="#e04444" stroke="#3d3d3d" stroke-width="2.2"/><ellipse cx="861.37" cy="1752.23" rx="5.6" ry="6.4" fill="#e04444" stroke="#3d3d3d" stroke-width="2.2"/><ellipse cx="893.9" cy="1743.19" rx="5.6" ry="6.4" fill="#e04444" stroke="#3d3d3d" stroke-width="2.2"/><ellipse cx="926.44" cy="1734.15" rx="5.6" ry="6.4" fill="#e04444" stroke="#3d3d3d" stroke-width="2.2"/><ellipse cx="958.97" cy="1726.28" rx="5.6" ry="6.4" fill="#e04444" stroke="#3d3d3d" stroke-width="2.2"/><ellipse cx="991.51" cy="1718.42" rx="5.6" ry="6.4" fill="#e04444" stroke="#3d3d3d" stroke-width="2.2"/><ellipse cx="1024.04" cy="1710.95" rx="5.6" ry="6.4" fill="#e04444" stroke="#3d3d3d" stroke-width="2.2"/><ellipse cx="1056.58" cy="1704.27" rx="5.6" ry="6.4" fill="#e04444" stroke="#3d3d3d" stroke-width="2.2"/><ellipse cx="1089.12" cy="1697.59" rx="5.6" ry="6.4" fill="#e04444" stroke="#3d3d3d" stroke-width="2.2"/><ellipse cx="1121.65" cy="1691.3" rx="5.6" ry="6.4" fill="#e04444" stroke="#3d3d3d" stroke-width="2.2"/><ellipse cx="1154.18" cy="1685.4" rx="5.6" ry="6.4" fill="#e04444" stroke="#3d3d3d" stroke-width="2.2"/><ellipse cx="1186.72" cy="1679.5" rx="5.6" ry="6.4" fill="#e04444" stroke="#3d3d3d" stroke-width="2.2"/><path d="M802.81,1595.38 C807.14,1581.88 819.07,1536.42 828.83,1514.4 C838.6,1492.39 850.52,1476.27 861.37,1463.3 C872.21,1450.33 883.06,1443.64 893.9,1436.57 C904.75,1429.49 915.59,1425.3 926.44,1420.84 C937.28,1416.39 948.13,1412.85 958.97,1409.84 C969.82,1406.82 980.66,1404.92 991.51,1402.76 C1002.36,1400.6 1013.2,1398.5 1024.04,1396.87 C1034.89,1395.23 1045.73,1394.11 1056.58,1392.93 C1067.42,1391.76 1078.27,1390.71 1089.12,1389.79 C1099.96,1388.87 1110.8,1388.22 1121.65,1387.43 C1132.49,1386.64 1143.34,1385.73 1154.18,1385.07 C1165.03,1384.42 1181.3,1383.76 1186.72,1383.5" fill="none" stroke="#2563ad" stroke-width="2.8"/><rect x="797.61" y="1590.18" width="10.4" height="10.4" fill="#2a62b0" stroke="#3d3d3d" stroke-width="2.2"/><rect x="823.63" y="1509.2" width="10.4" height="10.4" fill="#2a62b0" stroke="#3d3d3d" stroke-width="2.2"/><rect x="856.17" y="1458.1" width="10.4" height="10.4" fill="#2a62b0" stroke="#3d3d3d" stroke-width="2.2"/><rect x="888.7" y="1431.37" width="10.4" height="10.4" fill="#2a62b0" stroke="#3d3d3d" stroke-width="2.2"/><rect x="921.24" y="1415.64" width="10.4" height="10.4" fill="#2a62b0" stroke="#3d3d3d" stroke-width="2.2"/><rect x="953.77" y="1404.64" width="10.4" height="10.4" fill="#2a62b0" stroke="#3d3d3d" stroke-width="2.2"/><rect x="986.31" y="1397.56" width="10.4" height="10.4" fill="#2a62b0" stroke="#3d3d3d" stroke-width="2.2"/><rect x="1018.84" y="1391.67" width="10.4" height="10.4" fill="#2a62b0" stroke="#3d3d3d" stroke-width="2.2"/><rect x="1051.38" y="1387.73" width="10.4" height="10.4" fill="#2a62b0" stroke="#3d3d3d" stroke-width="2.2"/><rect x="1083.91" y="1384.59" width="10.4" height="10.4" fill="#2a62b0" stroke="#3d3d3d" stroke-width="2.2"/><rect x="1116.45" y="1382.23" width="10.4" height="10.4" fill="#2a62b0" stroke="#3d3d3d" stroke-width="2.2"/><rect x="1148.98" y="1379.87" width="10.4" height="10.4" fill="#2a62b0" stroke="#3d3d3d" stroke-width="2.2"/><rect x="1181.52" y="1378.3" width="10.4" height="10.4" fill="#2a62b0" stroke="#3d3d3d" stroke-width="2.2"/><line x1="1057.9" y1="1471.5" x2="1103.4" y2="1471.5" stroke="#2563ad" stroke-width="2.4"/><rect x="1075.2" y="1466.3" width="10.4" height="10.4" fill="#2a62b0" stroke="#3d3d3d" stroke-width="2.2"/><text x="1113.1" y="1479.9" font-size="22">T<tspan font-size="19" dy="6.7">20</tspan></text><line x1="1057.9" y1="1498.4" x2="1103.4" y2="1498.4" stroke="#e03c3c" stroke-width="2.4"/><ellipse cx="1080.4" cy="1498.4" rx="5.6" ry="6.4" fill="#e04444" stroke="#3d3d3d" stroke-width="2.2"/><text x="1113.1" y="1506.2" font-size="22">R1+R2+Bridge</text><line x1="1057.9" y1="1525.3" x2="1103.4" y2="1525.3" stroke="#2e9e5e" stroke-width="2.4"/><polygon points="1080.4,1518.3 1087.05,1529.64 1073.75,1529.64" fill="#2ea05e" stroke="#3d3d3d" stroke-width="2.2" stroke-linejoin="miter"/><text x="1113.1" y="1533.1" font-size="22">R1+Bridge</text><line x1="1057.9" y1="1552.2" x2="1103.4" y2="1552.2" stroke="#9b72c0" stroke-width="2.4"/><polygon points="1080.4,1559.2 1087.05,1547.86 1073.75,1547.86" fill="#9b6cc0" stroke="#3d3d3d" stroke-width="2.2" stroke-linejoin="miter"/><text x="1113.1" y="1560" font-size="22">R2+Bridge</text><line x1="1057.9" y1="1579.1" x2="1103.4" y2="1579.1" stroke="#c89412" stroke-width="2.4"/><polygon points="1080.4,1571.9 1087.24,1579.1 1080.4,1586.3 1073.56,1579.1" fill="#c8961a" stroke="#3d3d3d" stroke-width="2.2" stroke-linejoin="miter"/><text x="1113.1" y="1586.9" font-size="22">R1+R2</text><line x1="1057.9" y1="1606" x2="1103.4" y2="1606" stroke="#2eb8bc" stroke-width="2.4"/><polygon points="1073.4,1606 1084.74,1599.35 1084.74,1612.65" fill="#35b8bc" stroke="#3d3d3d" stroke-width="2.2" stroke-linejoin="miter"/><text x="1113.1" y="1613.8" font-size="22">Bridge</text><line x1="1057.9" y1="1632.9" x2="1103.4" y2="1632.9" stroke="#4a4a4a" stroke-width="2.4"/><polygon points="1087.4,1632.9 1076.06,1626.25 1076.06,1639.55" fill="#4a4a4a" stroke="#3d3d3d" stroke-width="2.2" stroke-linejoin="miter"/><text x="1113.1" y="1640.7" font-size="22">w/o R1, R2 and bridge</text><text x="1698.3" y="1305.6" font-size="26.8" text-anchor="middle">25-nt RNA activators with 5-nt bumper</text><line x1="1454.4" y1="1342.3" x2="1454.4" y2="1816" stroke="#000" stroke-width="3"/><line x1="1452.9" y1="1343.5" x2="1458.4" y2="1343.5" stroke="#000" stroke-width="2.5"/><line x1="1454.4" y1="1383.5" x2="1462.5" y2="1383.5" stroke="#000" stroke-width="2.5"/><text x="1447.8" y="1391.9" font-size="23.5" text-anchor="end">1.0</text><line x1="1454.4" y1="1462.12" x2="1462.5" y2="1462.12" stroke="#000" stroke-width="2.5"/><text x="1447.8" y="1470.52" font-size="23.5" text-anchor="end">0.8</text><line x1="1454.4" y1="1540.74" x2="1462.5" y2="1540.74" stroke="#000" stroke-width="2.5"/><text x="1447.8" y="1549.14" font-size="23.5" text-anchor="end">0.6</text><line x1="1454.4" y1="1619.36" x2="1462.5" y2="1619.36" stroke="#000" stroke-width="2.5"/><text x="1447.8" y="1627.76" font-size="23.5" text-anchor="end">0.4</text><line x1="1454.4" y1="1697.98" x2="1462.5" y2="1697.98" stroke="#000" stroke-width="2.5"/><text x="1447.8" y="1706.38" font-size="23.5" text-anchor="end">0.2</text><line x1="1454.4" y1="1776.6" x2="1462.5" y2="1776.6" stroke="#000" stroke-width="2.5"/><text x="1447.8" y="1785" font-size="23.5" text-anchor="end">0.0</text><line x1="1452.9" y1="1815.5" x2="1974.9" y2="1815.5" stroke="#000" stroke-width="3"/><line x1="1486.8" y1="1815.5" x2="1486.8" y2="1806" stroke="#000" stroke-width="2.5"/><text x="1486.8" y="1842.5" font-size="23.5" text-anchor="middle">0</text><line x1="1551.87" y1="1815.5" x2="1551.87" y2="1806" stroke="#000" stroke-width="2.5"/><text x="1551.87" y="1842.5" font-size="23.5" text-anchor="middle">10</text><line x1="1616.94" y1="1815.5" x2="1616.94" y2="1806" stroke="#000" stroke-width="2.5"/><text x="1616.94" y="1842.5" font-size="23.5" text-anchor="middle">20</text><line x1="1682.01" y1="1815.5" x2="1682.01" y2="1806" stroke="#000" stroke-width="2.5"/><text x="1682.01" y="1842.5" font-size="23.5" text-anchor="middle">30</text><line x1="1747.08" y1="1815.5" x2="1747.08" y2="1806" stroke="#000" stroke-width="2.5"/><text x="1747.08" y="1842.5" font-size="23.5" text-anchor="middle">40</text><line x1="1812.15" y1="1815.5" x2="1812.15" y2="1806" stroke="#000" stroke-width="2.5"/><text x="1812.15" y="1842.5" font-size="23.5" text-anchor="middle">50</text><line x1="1877.22" y1="1815.5" x2="1877.22" y2="1806" stroke="#000" stroke-width="2.5"/><text x="1877.22" y="1842.5" font-size="23.5" text-anchor="middle">60</text><line x1="1942.29" y1="1815.5" x2="1942.29" y2="1806" stroke="#000" stroke-width="2.5"/><text x="1942.29" y="1842.5" font-size="23.5" text-anchor="middle">70</text><text x="1712.9" y="1881" font-size="26.6" text-anchor="middle">Time (min)</text><text transform="translate(1394,1577.5) rotate(-90)" font-size="26.9" text-anchor="middle">Normalized fluorescence relative to T<tspan font-size="20.71">20</tspan></text><path d="M1493.31,1776.6 C1497.64,1776.6 1509.57,1776.6 1519.34,1776.6 C1529.1,1776.6 1541.02,1776.67 1551.87,1776.6 C1562.71,1776.53 1573.56,1776.27 1584.4,1776.21 C1595.25,1776.14 1606.1,1776.21 1616.94,1776.21 C1627.79,1776.21 1638.63,1776.27 1649.47,1776.21 C1660.32,1776.14 1671.16,1775.88 1682.01,1775.81 C1692.86,1775.75 1703.7,1775.81 1714.54,1775.81 C1725.39,1775.81 1736.23,1775.88 1747.08,1775.81 C1757.92,1775.75 1768.77,1775.49 1779.62,1775.42 C1790.46,1775.36 1801.3,1775.42 1812.15,1775.42 C1822.99,1775.42 1833.84,1775.49 1844.68,1775.42 C1855.53,1775.36 1871.8,1775.09 1877.22,1775.03" fill="none" stroke="#9b72c0" stroke-width="2.8"/><polygon points="1493.31,1783.6 1499.96,1772.26 1486.66,1772.26" fill="#9b6cc0" stroke="#3d3d3d" stroke-width="2.2" stroke-linejoin="miter"/><polygon points="1519.34,1783.6 1525.99,1772.26 1512.68,1772.26" fill="#9b6cc0" stroke="#3d3d3d" stroke-width="2.2" stroke-linejoin="miter"/><polygon points="1551.87,1783.6 1558.52,1772.26 1545.22,1772.26" fill="#9b6cc0" stroke="#3d3d3d" stroke-width="2.2" stroke-linejoin="miter"/><polygon points="1584.4,1783.21 1591.06,1771.87 1577.75,1771.87" fill="#9b6cc0" stroke="#3d3d3d" stroke-width="2.2" stroke-linejoin="miter"/><polygon points="1616.94,1783.21 1623.59,1771.87 1610.29,1771.87" fill="#9b6cc0" stroke="#3d3d3d" stroke-width="2.2" stroke-linejoin="miter"/><polygon points="1649.47,1783.21 1656.12,1771.87 1642.82,1771.87" fill="#9b6cc0" stroke="#3d3d3d" stroke-width="2.2" stroke-linejoin="miter"/><polygon points="1682.01,1782.81 1688.66,1771.47 1675.36,1771.47" fill="#9b6cc0" stroke="#3d3d3d" stroke-width="2.2" stroke-linejoin="miter"/><polygon points="1714.54,1782.81 1721.19,1771.47 1707.89,1771.47" fill="#9b6cc0" stroke="#3d3d3d" stroke-width="2.2" stroke-linejoin="miter"/><polygon points="1747.08,1782.81 1753.73,1771.47 1740.43,1771.47" fill="#9b6cc0" stroke="#3d3d3d" stroke-width="2.2" stroke-linejoin="miter"/><polygon points="1779.62,1782.42 1786.27,1771.08 1772.96,1771.08" fill="#9b6cc0" stroke="#3d3d3d" stroke-width="2.2" stroke-linejoin="miter"/><polygon points="1812.15,1782.42 1818.8,1771.08 1805.5,1771.08" fill="#9b6cc0" stroke="#3d3d3d" stroke-width="2.2" stroke-linejoin="miter"/><polygon points="1844.68,1782.42 1851.34,1771.08 1838.03,1771.08" fill="#9b6cc0" stroke="#3d3d3d" stroke-width="2.2" stroke-linejoin="miter"/><polygon points="1877.22,1782.03 1883.87,1770.69 1870.57,1770.69" fill="#9b6cc0" stroke="#3d3d3d" stroke-width="2.2" stroke-linejoin="miter"/><path d="M1493.31,1776.6 C1497.64,1776.6 1509.57,1776.67 1519.34,1776.6 C1529.1,1776.53 1541.02,1776.27 1551.87,1776.21 C1562.71,1776.14 1573.56,1776.27 1584.4,1776.21 C1595.25,1776.14 1606.1,1775.88 1616.94,1775.81 C1627.79,1775.75 1638.63,1775.88 1649.47,1775.81 C1660.32,1775.75 1671.16,1775.49 1682.01,1775.42 C1692.86,1775.36 1703.7,1775.49 1714.54,1775.42 C1725.39,1775.36 1736.23,1775.09 1747.08,1775.03 C1757.92,1774.96 1768.77,1775.09 1779.62,1775.03 C1790.46,1774.96 1801.3,1774.7 1812.15,1774.63 C1822.99,1774.57 1833.84,1774.7 1844.68,1774.63 C1855.53,1774.57 1871.8,1774.31 1877.22,1774.24" fill="none" stroke="#2e9e5e" stroke-width="2.8"/><polygon points="1493.31,1769.6 1499.96,1780.94 1486.66,1780.94" fill="#2ea05e" stroke="#3d3d3d" stroke-width="2.2" stroke-linejoin="miter"/><polygon points="1519.34,1769.6 1525.99,1780.94 1512.68,1780.94" fill="#2ea05e" stroke="#3d3d3d" stroke-width="2.2" stroke-linejoin="miter"/><polygon points="1551.87,1769.21 1558.52,1780.55 1545.22,1780.55" fill="#2ea05e" stroke="#3d3d3d" stroke-width="2.2" stroke-linejoin="miter"/><polygon points="1584.4,1769.21 1591.06,1780.55 1577.75,1780.55" fill="#2ea05e" stroke="#3d3d3d" stroke-width="2.2" stroke-linejoin="miter"/><polygon points="1616.94,1768.81 1623.59,1780.15 1610.29,1780.15" fill="#2ea05e" stroke="#3d3d3d" stroke-width="2.2" stroke-linejoin="miter"/><polygon points="1649.47,1768.81 1656.12,1780.15 1642.82,1780.15" fill="#2ea05e" stroke="#3d3d3d" stroke-width="2.2" stroke-linejoin="miter"/><polygon points="1682.01,1768.42 1688.66,1779.76 1675.36,1779.76" fill="#2ea05e" stroke="#3d3d3d" stroke-width="2.2" stroke-linejoin="miter"/><polygon points="1714.54,1768.42 1721.19,1779.76 1707.89,1779.76" fill="#2ea05e" stroke="#3d3d3d" stroke-width="2.2" stroke-linejoin="miter"/><polygon points="1747.08,1768.03 1753.73,1779.37 1740.43,1779.37" fill="#2ea05e" stroke="#3d3d3d" stroke-width="2.2" stroke-linejoin="miter"/><polygon points="1779.62,1768.03 1786.27,1779.37 1772.96,1779.37" fill="#2ea05e" stroke="#3d3d3d" stroke-width="2.2" stroke-linejoin="miter"/><polygon points="1812.15,1767.63 1818.8,1778.97 1805.5,1778.97" fill="#2ea05e" stroke="#3d3d3d" stroke-width="2.2" stroke-linejoin="miter"/><polygon points="1844.68,1767.63 1851.34,1778.97 1838.03,1778.97" fill="#2ea05e" stroke="#3d3d3d" stroke-width="2.2" stroke-linejoin="miter"/><polygon points="1877.22,1767.24 1883.87,1778.58 1870.57,1778.58" fill="#2ea05e" stroke="#3d3d3d" stroke-width="2.2" stroke-linejoin="miter"/><path d="M1493.31,1776.6 C1497.64,1776.6 1509.57,1776.67 1519.34,1776.6 C1529.1,1776.53 1541.02,1776.34 1551.87,1776.21 C1562.71,1776.08 1573.56,1775.88 1584.4,1775.81 C1595.25,1775.75 1606.1,1775.88 1616.94,1775.81 C1627.79,1775.75 1638.63,1775.55 1649.47,1775.42 C1660.32,1775.29 1671.16,1775.16 1682.01,1775.03 C1692.86,1774.9 1703.7,1774.7 1714.54,1774.63 C1725.39,1774.57 1736.23,1774.7 1747.08,1774.63 C1757.92,1774.57 1768.77,1774.37 1779.62,1774.24 C1790.46,1774.11 1801.3,1773.91 1812.15,1773.85 C1822.99,1773.78 1833.84,1773.91 1844.68,1773.85 C1855.53,1773.78 1871.8,1773.52 1877.22,1773.46" fill="none" stroke="#c89412" stroke-width="2.8"/><polygon points="1493.31,1769.4 1500.15,1776.6 1493.31,1783.8 1486.47,1776.6" fill="#c8961a" stroke="#3d3d3d" stroke-width="2.2" stroke-linejoin="miter"/><polygon points="1519.34,1769.4 1526.17,1776.6 1519.34,1783.8 1512.5,1776.6" fill="#c8961a" stroke="#3d3d3d" stroke-width="2.2" stroke-linejoin="miter"/><polygon points="1551.87,1769.01 1558.71,1776.21 1551.87,1783.41 1545.03,1776.21" fill="#c8961a" stroke="#3d3d3d" stroke-width="2.2" stroke-linejoin="miter"/><polygon points="1584.4,1768.61 1591.24,1775.81 1584.4,1783.01 1577.57,1775.81" fill="#c8961a" stroke="#3d3d3d" stroke-width="2.2" stroke-linejoin="miter"/><polygon points="1616.94,1768.61 1623.78,1775.81 1616.94,1783.01 1610.1,1775.81" fill="#c8961a" stroke="#3d3d3d" stroke-width="2.2" stroke-linejoin="miter"/><polygon points="1649.47,1768.22 1656.31,1775.42 1649.47,1782.62 1642.63,1775.42" fill="#c8961a" stroke="#3d3d3d" stroke-width="2.2" stroke-linejoin="miter"/><polygon points="1682.01,1767.83 1688.85,1775.03 1682.01,1782.23 1675.17,1775.03" fill="#c8961a" stroke="#3d3d3d" stroke-width="2.2" stroke-linejoin="miter"/><polygon points="1714.54,1767.43 1721.38,1774.63 1714.54,1781.83 1707.7,1774.63" fill="#c8961a" stroke="#3d3d3d" stroke-width="2.2" stroke-linejoin="miter"/><polygon points="1747.08,1767.43 1753.92,1774.63 1747.08,1781.83 1740.24,1774.63" fill="#c8961a" stroke="#3d3d3d" stroke-width="2.2" stroke-linejoin="miter"/><polygon points="1779.62,1767.04 1786.45,1774.24 1779.62,1781.44 1772.78,1774.24" fill="#c8961a" stroke="#3d3d3d" stroke-width="2.2" stroke-linejoin="miter"/><polygon points="1812.15,1766.65 1818.99,1773.85 1812.15,1781.05 1805.31,1773.85" fill="#c8961a" stroke="#3d3d3d" stroke-width="2.2" stroke-linejoin="miter"/><polygon points="1844.68,1766.65 1851.52,1773.85 1844.68,1781.05 1837.85,1773.85" fill="#c8961a" stroke="#3d3d3d" stroke-width="2.2" stroke-linejoin="miter"/><polygon points="1877.22,1766.26 1884.06,1773.46 1877.22,1780.66 1870.38,1773.46" fill="#c8961a" stroke="#3d3d3d" stroke-width="2.2" stroke-linejoin="miter"/><path d="M1493.31,1776.6 C1497.64,1776.6 1509.57,1776.67 1519.34,1776.6 C1529.1,1776.53 1541.02,1776.27 1551.87,1776.21 C1562.71,1776.14 1573.56,1776.27 1584.4,1776.21 C1595.25,1776.14 1606.1,1775.88 1616.94,1775.81 C1627.79,1775.75 1638.63,1775.81 1649.47,1775.81 C1660.32,1775.81 1671.16,1775.88 1682.01,1775.81 C1692.86,1775.75 1703.7,1775.49 1714.54,1775.42 C1725.39,1775.36 1736.23,1775.42 1747.08,1775.42 C1757.92,1775.42 1768.77,1775.49 1779.62,1775.42 C1790.46,1775.36 1801.3,1775.09 1812.15,1775.03 C1822.99,1774.96 1833.84,1775.03 1844.68,1775.03 C1855.53,1775.03 1871.8,1775.03 1877.22,1775.03" fill="none" stroke="#2eb8bc" stroke-width="2.8"/><polygon points="1486.31,1776.6 1497.65,1769.95 1497.65,1783.25" fill="#35b8bc" stroke="#3d3d3d" stroke-width="2.2" stroke-linejoin="miter"/><polygon points="1512.34,1776.6 1523.67,1769.95 1523.67,1783.25" fill="#35b8bc" stroke="#3d3d3d" stroke-width="2.2" stroke-linejoin="miter"/><polygon points="1544.87,1776.21 1556.21,1769.56 1556.21,1782.86" fill="#35b8bc" stroke="#3d3d3d" stroke-width="2.2" stroke-linejoin="miter"/><polygon points="1577.4,1776.21 1588.74,1769.56 1588.74,1782.86" fill="#35b8bc" stroke="#3d3d3d" stroke-width="2.2" stroke-linejoin="miter"/><polygon points="1609.94,1775.81 1621.28,1769.16 1621.28,1782.46" fill="#35b8bc" stroke="#3d3d3d" stroke-width="2.2" stroke-linejoin="miter"/><polygon points="1642.47,1775.81 1653.81,1769.16 1653.81,1782.46" fill="#35b8bc" stroke="#3d3d3d" stroke-width="2.2" stroke-linejoin="miter"/><polygon points="1675.01,1775.81 1686.35,1769.16 1686.35,1782.46" fill="#35b8bc" stroke="#3d3d3d" stroke-width="2.2" stroke-linejoin="miter"/><polygon points="1707.54,1775.42 1718.88,1768.77 1718.88,1782.07" fill="#35b8bc" stroke="#3d3d3d" stroke-width="2.2" stroke-linejoin="miter"/><polygon points="1740.08,1775.42 1751.42,1768.77 1751.42,1782.07" fill="#35b8bc" stroke="#3d3d3d" stroke-width="2.2" stroke-linejoin="miter"/><polygon points="1772.62,1775.42 1783.95,1768.77 1783.95,1782.07" fill="#35b8bc" stroke="#3d3d3d" stroke-width="2.2" stroke-linejoin="miter"/><polygon points="1805.15,1775.03 1816.49,1768.38 1816.49,1781.68" fill="#35b8bc" stroke="#3d3d3d" stroke-width="2.2" stroke-linejoin="miter"/><polygon points="1837.68,1775.03 1849.02,1768.38 1849.02,1781.68" fill="#35b8bc" stroke="#3d3d3d" stroke-width="2.2" stroke-linejoin="miter"/><polygon points="1870.22,1775.03 1881.56,1768.38 1881.56,1781.68" fill="#35b8bc" stroke="#3d3d3d" stroke-width="2.2" stroke-linejoin="miter"/><path d="M1493.31,1776.6 C1497.64,1776.6 1509.57,1776.6 1519.34,1776.6 C1529.1,1776.6 1541.02,1776.6 1551.87,1776.6 C1562.71,1776.6 1573.56,1776.6 1584.4,1776.6 C1595.25,1776.6 1606.1,1776.6 1616.94,1776.6 C1627.79,1776.6 1638.63,1776.6 1649.47,1776.6 C1660.32,1776.6 1671.16,1776.6 1682.01,1776.6 C1692.86,1776.6 1703.7,1776.6 1714.54,1776.6 C1725.39,1776.6 1736.23,1776.6 1747.08,1776.6 C1757.92,1776.6 1768.77,1776.6 1779.62,1776.6 C1790.46,1776.6 1801.3,1776.6 1812.15,1776.6 C1822.99,1776.6 1833.84,1776.6 1844.68,1776.6 C1855.53,1776.6 1871.8,1776.6 1877.22,1776.6" fill="none" stroke="#4a4a4a" stroke-width="2.8"/><polygon points="1500.31,1776.6 1488.97,1769.95 1488.97,1783.25" fill="#4a4a4a" stroke="#3d3d3d" stroke-width="2.2" stroke-linejoin="miter"/><polygon points="1526.34,1776.6 1515,1769.95 1515,1783.25" fill="#4a4a4a" stroke="#3d3d3d" stroke-width="2.2" stroke-linejoin="miter"/><polygon points="1558.87,1776.6 1547.53,1769.95 1547.53,1783.25" fill="#4a4a4a" stroke="#3d3d3d" stroke-width="2.2" stroke-linejoin="miter"/><polygon points="1591.4,1776.6 1580.07,1769.95 1580.07,1783.25" fill="#4a4a4a" stroke="#3d3d3d" stroke-width="2.2" stroke-linejoin="miter"/><polygon points="1623.94,1776.6 1612.6,1769.95 1612.6,1783.25" fill="#4a4a4a" stroke="#3d3d3d" stroke-width="2.2" stroke-linejoin="miter"/><polygon points="1656.47,1776.6 1645.13,1769.95 1645.13,1783.25" fill="#4a4a4a" stroke="#3d3d3d" stroke-width="2.2" stroke-linejoin="miter"/><polygon points="1689.01,1776.6 1677.67,1769.95 1677.67,1783.25" fill="#4a4a4a" stroke="#3d3d3d" stroke-width="2.2" stroke-linejoin="miter"/><polygon points="1721.54,1776.6 1710.2,1769.95 1710.2,1783.25" fill="#4a4a4a" stroke="#3d3d3d" stroke-width="2.2" stroke-linejoin="miter"/><polygon points="1754.08,1776.6 1742.74,1769.95 1742.74,1783.25" fill="#4a4a4a" stroke="#3d3d3d" stroke-width="2.2" stroke-linejoin="miter"/><polygon points="1786.62,1776.6 1775.28,1769.95 1775.28,1783.25" fill="#4a4a4a" stroke="#3d3d3d" stroke-width="2.2" stroke-linejoin="miter"/><polygon points="1819.15,1776.6 1807.81,1769.95 1807.81,1783.25" fill="#4a4a4a" stroke="#3d3d3d" stroke-width="2.2" stroke-linejoin="miter"/><polygon points="1851.68,1776.6 1840.35,1769.95 1840.35,1783.25" fill="#4a4a4a" stroke="#3d3d3d" stroke-width="2.2" stroke-linejoin="miter"/><polygon points="1884.22,1776.6 1872.88,1769.95 1872.88,1783.25" fill="#4a4a4a" stroke="#3d3d3d" stroke-width="2.2" stroke-linejoin="miter"/><path d="M1493.31,1723.92 C1497.64,1711.02 1509.57,1671.25 1519.34,1646.48 C1529.1,1621.72 1541.02,1595.18 1551.87,1575.33 C1562.71,1555.48 1573.56,1541.13 1584.4,1527.37 C1595.25,1513.62 1606.1,1502.61 1616.94,1492.78 C1627.79,1482.95 1638.63,1475.55 1649.47,1468.41 C1660.32,1461.27 1671.16,1455.37 1682.01,1449.93 C1692.86,1444.5 1703.7,1439.98 1714.54,1435.78 C1725.39,1431.59 1736.23,1428.12 1747.08,1424.78 C1757.92,1421.43 1768.77,1418.35 1779.62,1415.73 C1790.46,1413.11 1801.3,1411.08 1812.15,1409.05 C1822.99,1407.02 1833.84,1405.25 1844.68,1403.55 C1855.53,1401.84 1871.8,1399.62 1877.22,1398.83" fill="none" stroke="#e03c3c" stroke-width="2.8"/><ellipse cx="1493.31" cy="1723.92" rx="5.6" ry="6.4" fill="#e04444" stroke="#3d3d3d" stroke-width="2.2"/><ellipse cx="1519.34" cy="1646.48" rx="5.6" ry="6.4" fill="#e04444" stroke="#3d3d3d" stroke-width="2.2"/><ellipse cx="1551.87" cy="1575.33" rx="5.6" ry="6.4" fill="#e04444" stroke="#3d3d3d" stroke-width="2.2"/><ellipse cx="1584.4" cy="1527.37" rx="5.6" ry="6.4" fill="#e04444" stroke="#3d3d3d" stroke-width="2.2"/><ellipse cx="1616.94" cy="1492.78" rx="5.6" ry="6.4" fill="#e04444" stroke="#3d3d3d" stroke-width="2.2"/><ellipse cx="1649.47" cy="1468.41" rx="5.6" ry="6.4" fill="#e04444" stroke="#3d3d3d" stroke-width="2.2"/><ellipse cx="1682.01" cy="1449.93" rx="5.6" ry="6.4" fill="#e04444" stroke="#3d3d3d" stroke-width="2.2"/><ellipse cx="1714.54" cy="1435.78" rx="5.6" ry="6.4" fill="#e04444" stroke="#3d3d3d" stroke-width="2.2"/><ellipse cx="1747.08" cy="1424.78" rx="5.6" ry="6.4" fill="#e04444" stroke="#3d3d3d" stroke-width="2.2"/><ellipse cx="1779.62" cy="1415.73" rx="5.6" ry="6.4" fill="#e04444" stroke="#3d3d3d" stroke-width="2.2"/><ellipse cx="1812.15" cy="1409.05" rx="5.6" ry="6.4" fill="#e04444" stroke="#3d3d3d" stroke-width="2.2"/><ellipse cx="1844.68" cy="1403.55" rx="5.6" ry="6.4" fill="#e04444" stroke="#3d3d3d" stroke-width="2.2"/><ellipse cx="1877.22" cy="1398.83" rx="5.6" ry="6.4" fill="#e04444" stroke="#3d3d3d" stroke-width="2.2"/><path d="M1493.31,1595.38 C1497.64,1581.88 1509.57,1536.42 1519.34,1514.4 C1529.1,1492.39 1541.02,1476.27 1551.87,1463.3 C1562.71,1450.33 1573.56,1443.64 1584.4,1436.57 C1595.25,1429.49 1606.1,1425.3 1616.94,1420.84 C1627.79,1416.39 1638.63,1412.85 1649.47,1409.84 C1660.32,1406.82 1671.16,1404.92 1682.01,1402.76 C1692.86,1400.6 1703.7,1398.5 1714.54,1396.87 C1725.39,1395.23 1736.23,1394.11 1747.08,1392.93 C1757.92,1391.76 1768.77,1390.71 1779.62,1389.79 C1790.46,1388.87 1801.3,1388.22 1812.15,1387.43 C1822.99,1386.64 1833.84,1385.73 1844.68,1385.07 C1855.53,1384.42 1871.8,1383.76 1877.22,1383.5" fill="none" stroke="#2563ad" stroke-width="2.8"/><rect x="1488.11" y="1590.18" width="10.4" height="10.4" fill="#2a62b0" stroke="#3d3d3d" stroke-width="2.2"/><rect x="1514.13" y="1509.2" width="10.4" height="10.4" fill="#2a62b0" stroke="#3d3d3d" stroke-width="2.2"/><rect x="1546.67" y="1458.1" width="10.4" height="10.4" fill="#2a62b0" stroke="#3d3d3d" stroke-width="2.2"/><rect x="1579.2" y="1431.37" width="10.4" height="10.4" fill="#2a62b0" stroke="#3d3d3d" stroke-width="2.2"/><rect x="1611.74" y="1415.64" width="10.4" height="10.4" fill="#2a62b0" stroke="#3d3d3d" stroke-width="2.2"/><rect x="1644.27" y="1404.64" width="10.4" height="10.4" fill="#2a62b0" stroke="#3d3d3d" stroke-width="2.2"/><rect x="1676.81" y="1397.56" width="10.4" height="10.4" fill="#2a62b0" stroke="#3d3d3d" stroke-width="2.2"/><rect x="1709.34" y="1391.67" width="10.4" height="10.4" fill="#2a62b0" stroke="#3d3d3d" stroke-width="2.2"/><rect x="1741.88" y="1387.73" width="10.4" height="10.4" fill="#2a62b0" stroke="#3d3d3d" stroke-width="2.2"/><rect x="1774.41" y="1384.59" width="10.4" height="10.4" fill="#2a62b0" stroke="#3d3d3d" stroke-width="2.2"/><rect x="1806.95" y="1382.23" width="10.4" height="10.4" fill="#2a62b0" stroke="#3d3d3d" stroke-width="2.2"/><rect x="1839.48" y="1379.87" width="10.4" height="10.4" fill="#2a62b0" stroke="#3d3d3d" stroke-width="2.2"/><rect x="1872.02" y="1378.3" width="10.4" height="10.4" fill="#2a62b0" stroke="#3d3d3d" stroke-width="2.2"/><line x1="1720.4" y1="1471.5" x2="1765.9" y2="1471.5" stroke="#2563ad" stroke-width="2.4"/><rect x="1737.7" y="1466.3" width="10.4" height="10.4" fill="#2a62b0" stroke="#3d3d3d" stroke-width="2.2"/><text x="1775.6" y="1479.9" font-size="22">T<tspan font-size="19" dy="6.7">20</tspan></text><line x1="1720.4" y1="1498.4" x2="1765.9" y2="1498.4" stroke="#e03c3c" stroke-width="2.4"/><ellipse cx="1742.9" cy="1498.4" rx="5.6" ry="6.4" fill="#e04444" stroke="#3d3d3d" stroke-width="2.2"/><text x="1775.6" y="1506.2" font-size="22">R1+R2+Bridge</text><line x1="1720.4" y1="1525.3" x2="1765.9" y2="1525.3" stroke="#2e9e5e" stroke-width="2.4"/><polygon points="1742.9,1518.3 1749.55,1529.64 1736.25,1529.64" fill="#2ea05e" stroke="#3d3d3d" stroke-width="2.2" stroke-linejoin="miter"/><text x="1775.6" y="1533.1" font-size="22">R1+Bridge</text><line x1="1720.4" y1="1552.2" x2="1765.9" y2="1552.2" stroke="#9b72c0" stroke-width="2.4"/><polygon points="1742.9,1559.2 1749.55,1547.86 1736.25,1547.86" fill="#9b6cc0" stroke="#3d3d3d" stroke-width="2.2" stroke-linejoin="miter"/><text x="1775.6" y="1560" font-size="22">R2+Bridge</text><line x1="1720.4" y1="1579.1" x2="1765.9" y2="1579.1" stroke="#c89412" stroke-width="2.4"/><polygon points="1742.9,1571.9 1749.74,1579.1 1742.9,1586.3 1736.06,1579.1" fill="#c8961a" stroke="#3d3d3d" stroke-width="2.2" stroke-linejoin="miter"/><text x="1775.6" y="1586.9" font-size="22">R1+R2</text><line x1="1720.4" y1="1606" x2="1765.9" y2="1606" stroke="#2eb8bc" stroke-width="2.4"/><polygon points="1735.9,1606 1747.24,1599.35 1747.24,1612.65" fill="#35b8bc" stroke="#3d3d3d" stroke-width="2.2" stroke-linejoin="miter"/><text x="1775.6" y="1613.8" font-size="22">Bridge</text><line x1="1720.4" y1="1632.9" x2="1765.9" y2="1632.9" stroke="#4a4a4a" stroke-width="2.4"/><polygon points="1749.9,1632.9 1738.56,1626.25 1738.56,1639.55" fill="#4a4a4a" stroke="#3d3d3d" stroke-width="2.2" stroke-linejoin="miter"/><text x="1775.6" y="1640.7" font-size="22">w/o R1, R2 and bridge</text><line x1="82.6" y1="1940.9" x2="82.6" y2="2425" stroke="#000" stroke-width="3"/><line x1="81.1" y1="1942.4" x2="90.1" y2="1942.4" stroke="#000" stroke-width="2.5"/><line x1="82.6" y1="2022.9" x2="90.1" y2="2022.9" stroke="#000" stroke-width="2.5"/><text x="75.4" y="2031.1" font-size="23" text-anchor="end">100</text><line x1="82.6" y1="2103.12" x2="90.1" y2="2103.12" stroke="#000" stroke-width="2.5"/><text x="75.4" y="2111.32" font-size="23" text-anchor="end">80</text><line x1="82.6" y1="2183.34" x2="90.1" y2="2183.34" stroke="#000" stroke-width="2.5"/><text x="75.4" y="2191.54" font-size="23" text-anchor="end">60</text><line x1="82.6" y1="2263.56" x2="90.1" y2="2263.56" stroke="#000" stroke-width="2.5"/><text x="75.4" y="2271.76" font-size="23" text-anchor="end">40</text><line x1="82.6" y1="2343.78" x2="90.1" y2="2343.78" stroke="#000" stroke-width="2.5"/><text x="75.4" y="2351.98" font-size="23" text-anchor="end">20</text><text x="75.4" y="1950.6" font-size="23" text-anchor="end">120</text><text x="75.4" y="2432.2" font-size="23" text-anchor="end">0</text><line x1="81.1" y1="2425.3" x2="634.7" y2="2425.3" stroke="#000" stroke-width="3"/><rect x="117" y="2417.58" width="68.4" height="6.42" fill="#b07ae0" stroke="#3a3a3a" stroke-width="2.4"/><line x1="151.2" y1="2417.58" x2="151.2" y2="2415.8" stroke="#3a3a3a" stroke-width="2.6"/><line x1="135.3" y1="2415.8" x2="167" y2="2415.8" stroke="#3a3a3a" stroke-width="2.6"/><line x1="151.2" y1="2424" x2="151.2" y2="2416" stroke="#000" stroke-width="2.5"/><circle cx="142.9" cy="2414.3" r="4.9" fill="#000"/><circle cx="159.8" cy="2414.3" r="4.9" fill="#000"/><circle cx="151.3" cy="2420" r="4.9" fill="#000"/><rect x="254.7" y="2305.27" width="68.4" height="118.73" fill="#525252" stroke="#3a3a3a" stroke-width="2.4"/><line x1="288.9" y1="2305.27" x2="288.9" y2="2296.9" stroke="#3a3a3a" stroke-width="2.6"/><line x1="273.1" y1="2296.9" x2="304.8" y2="2296.9" stroke="#3a3a3a" stroke-width="2.6"/><line x1="288.9" y1="2424" x2="288.9" y2="2416" stroke="#000" stroke-width="2.5"/><circle cx="280.7" cy="2296.9" r="4.9" fill="#000"/><circle cx="297.3" cy="2296.4" r="4.9" fill="#000"/><circle cx="289" cy="2313" r="4.9" fill="#000"/><rect x="392.3" y="2042.15" width="68.4" height="381.85" fill="#ef4142" stroke="#3a3a3a" stroke-width="2.4"/><line x1="426.5" y1="2042.15" x2="426.5" y2="2030.4" stroke="#3a3a3a" stroke-width="2.6"/><line x1="411" y1="2030.4" x2="441.9" y2="2030.4" stroke="#3a3a3a" stroke-width="2.6"/><line x1="426.5" y1="2424" x2="426.5" y2="2416" stroke="#000" stroke-width="2.5"/><circle cx="418.1" cy="2029.9" r="4.9" fill="#000"/><circle cx="434.8" cy="2034" r="4.9" fill="#000"/><circle cx="426.5" cy="2051.4" r="4.9" fill="#000"/><rect x="530" y="2036.94" width="68.4" height="387.06" fill="#1b6fe0" stroke="#3a3a3a" stroke-width="2.4"/><line x1="564.2" y1="2036.94" x2="564.2" y2="2021.2" stroke="#3a3a3a" stroke-width="2.6"/><line x1="548.5" y1="2021.2" x2="579.7" y2="2021.2" stroke="#3a3a3a" stroke-width="2.6"/><line x1="564.2" y1="2424" x2="564.2" y2="2416" stroke="#000" stroke-width="2.5"/><circle cx="555" cy="2025.1" r="4.9" fill="#000"/><circle cx="571.6" cy="2020.1" r="4.9" fill="#000"/><circle cx="564" cy="2051.4" r="4.9" fill="#000"/><rect x="111.4" y="1968.3" width="35" height="14" fill="#b07ae0" stroke="#3a3a3a" stroke-width="2.5"/><text x="156" y="1982.7" font-size="24">21-nt RNA activators</text><rect x="111.4" y="2003.37" width="35" height="14" fill="#4d4d4d" stroke="#3a3a3a" stroke-width="2.5"/><text x="156" y="2017.77" font-size="24">23-nt RNA activators</text><rect x="111.4" y="2038.44" width="35" height="14" fill="#ef4142" stroke="#3a3a3a" stroke-width="2.5"/><text x="156" y="2052.84" font-size="24">25-nt RNA activators</text><rect x="111.4" y="2073.51" width="35" height="14" fill="#1b6fe0" stroke="#3a3a3a" stroke-width="2.5"/><text x="156" y="2087.91" font-size="24">Target RNA (T<tspan font-size="20.5" dy="6.4">20</tspan><tspan dy="-6.4">)</tspan></text><text transform="translate(24,2176.3) rotate(-90)" font-size="26.8" text-anchor="middle">Apparent cleavage rate relative to T<tspan font-size="19.5">20</tspan> (%)</text><line x1="762.9" y1="1918.8" x2="762.9" y2="2425.8" stroke="#000" stroke-width="3"/><line x1="761.4" y1="1920" x2="767.6999999999999" y2="1920" stroke="#000" stroke-width="2.5"/><line x1="762.9" y1="1961.8" x2="771.8" y2="1961.8" stroke="#000" stroke-width="2.5"/><text x="755.9" y="1970.8" font-size="23.5" text-anchor="end">1.0</text><line x1="762.9" y1="2045.8" x2="771.8" y2="2045.8" stroke="#000" stroke-width="2.5"/><text x="755.9" y="2054.8" font-size="23.5" text-anchor="end">0.8</text><line x1="762.9" y1="2129.8" x2="771.8" y2="2129.8" stroke="#000" stroke-width="2.5"/><text x="755.9" y="2138.8" font-size="23.5" text-anchor="end">0.6</text><line x1="762.9" y1="2213.8" x2="771.8" y2="2213.8" stroke="#000" stroke-width="2.5"/><text x="755.9" y="2222.8" font-size="23.5" text-anchor="end">0.4</text><line x1="762.9" y1="2297.8" x2="771.8" y2="2297.8" stroke="#000" stroke-width="2.5"/><text x="755.9" y="2306.8" font-size="23.5" text-anchor="end">0.2</text><line x1="762.9" y1="2381.8" x2="771.8" y2="2381.8" stroke="#000" stroke-width="2.5"/><text x="755.9" y="2390.8" font-size="23.5" text-anchor="end">0.0</text><line x1="761.4" y1="2424.3" x2="1296.8" y2="2424.3" stroke="#000" stroke-width="3"/><line x1="807.4" y1="2424.3" x2="807.4" y2="2414.8" stroke="#000" stroke-width="2.5"/><text x="807.4" y="2454.6" font-size="23.5" text-anchor="middle">0</text><line x1="896.3" y1="2424.3" x2="896.3" y2="2414.8" stroke="#000" stroke-width="2.5"/><text x="896.3" y="2454.6" font-size="23.5" text-anchor="middle">20</text><line x1="985.2" y1="2424.3" x2="985.2" y2="2414.8" stroke="#000" stroke-width="2.5"/><text x="985.2" y="2454.6" font-size="23.5" text-anchor="middle">40</text><line x1="1074.1" y1="2424.3" x2="1074.1" y2="2414.8" stroke="#000" stroke-width="2.5"/><text x="1074.1" y="2454.6" font-size="23.5" text-anchor="middle">60</text><line x1="1163" y1="2424.3" x2="1163" y2="2414.8" stroke="#000" stroke-width="2.5"/><text x="1163" y="2454.6" font-size="23.5" text-anchor="middle">80</text><line x1="1251.9" y1="2424.3" x2="1251.9" y2="2414.8" stroke="#000" stroke-width="2.5"/><text x="1251.9" y="2454.6" font-size="23.5" text-anchor="middle">100</text><line x1="851.85" y1="2424.3" x2="851.85" y2="2419.5" stroke="#000" stroke-width="2.5"/><line x1="940.75" y1="2424.3" x2="940.75" y2="2419.5" stroke="#000" stroke-width="2.5"/><line x1="1029.65" y1="2424.3" x2="1029.65" y2="2419.5" stroke="#000" stroke-width="2.5"/><line x1="1118.55" y1="2424.3" x2="1118.55" y2="2419.5" stroke="#000" stroke-width="2.5"/><line x1="1207.45" y1="2424.3" x2="1207.45" y2="2419.5" stroke="#000" stroke-width="2.5"/><text x="1031.9" y="2488.3" font-size="26.6" text-anchor="middle">Time (min)</text><text transform="translate(672,2165.5) rotate(-90)" font-size="26.8" text-anchor="middle">Normalized fluorescence</text><text transform="translate(707,2165.5) rotate(-90)" font-size="26.8" text-anchor="middle">relative to [100 pM]</text><path d="M811.85,2383.9 C818.51,2383.27 837.77,2380.89 851.85,2380.12 C865.93,2379.35 881.48,2379.56 896.3,2379.28 C911.12,2379 925.93,2378.65 940.75,2378.44 C955.57,2378.23 970.38,2378.23 985.2,2378.02 C1000.02,2377.81 1014.83,2377.46 1029.65,2377.18 C1044.47,2376.9 1059.28,2376.62 1074.1,2376.34 C1088.92,2376.06 1103.73,2375.78 1118.55,2375.5 C1133.37,2375.22 1148.18,2374.94 1163,2374.66 C1177.82,2374.38 1200.04,2373.96 1207.45,2373.82" fill="none" stroke="#4a4a4a" stroke-width="2.8"/><polygon points="818.85,2383.9 807.5,2377.25 807.5,2390.55" fill="#4a4a4a" stroke="#3d3d3d" stroke-width="2.2" stroke-linejoin="miter"/><polygon points="858.85,2380.12 847.51,2373.47 847.51,2386.77" fill="#4a4a4a" stroke="#3d3d3d" stroke-width="2.2" stroke-linejoin="miter"/><polygon points="903.3,2379.28 891.96,2372.63 891.96,2385.93" fill="#4a4a4a" stroke="#3d3d3d" stroke-width="2.2" stroke-linejoin="miter"/><polygon points="947.75,2378.44 936.41,2371.79 936.41,2385.09" fill="#4a4a4a" stroke="#3d3d3d" stroke-width="2.2" stroke-linejoin="miter"/><polygon points="992.2,2378.02 980.86,2371.37 980.86,2384.67" fill="#4a4a4a" stroke="#3d3d3d" stroke-width="2.2" stroke-linejoin="miter"/><polygon points="1036.65,2377.18 1025.31,2370.53 1025.31,2383.83" fill="#4a4a4a" stroke="#3d3d3d" stroke-width="2.2" stroke-linejoin="miter"/><polygon points="1081.1,2376.34 1069.76,2369.69 1069.76,2382.99" fill="#4a4a4a" stroke="#3d3d3d" stroke-width="2.2" stroke-linejoin="miter"/><polygon points="1125.55,2375.5 1114.21,2368.85 1114.21,2382.15" fill="#4a4a4a" stroke="#3d3d3d" stroke-width="2.2" stroke-linejoin="miter"/><polygon points="1170,2374.66 1158.66,2368.01 1158.66,2381.31" fill="#4a4a4a" stroke="#3d3d3d" stroke-width="2.2" stroke-linejoin="miter"/><polygon points="1214.45,2373.82 1203.11,2367.17 1203.11,2380.47" fill="#4a4a4a" stroke="#3d3d3d" stroke-width="2.2" stroke-linejoin="miter"/><path d="M811.85,2375.5 C818.51,2374.87 837.77,2372.56 851.85,2371.72 C865.93,2370.88 881.48,2370.74 896.3,2370.46 C911.12,2370.18 925.93,2370.25 940.75,2370.04 C955.57,2369.83 970.38,2369.48 985.2,2369.2 C1000.02,2368.92 1014.83,2368.71 1029.65,2368.36 C1044.47,2368.01 1059.28,2367.45 1074.1,2367.1 C1088.92,2366.75 1103.73,2366.61 1118.55,2366.26 C1133.37,2365.91 1148.18,2365.42 1163,2365 C1177.82,2364.58 1200.04,2363.95 1207.45,2363.74" fill="none" stroke="#18c8cc" stroke-width="2.8"/><polygon points="804.85,2375.5 816.19,2368.85 816.19,2382.15" fill="#20c0c4" stroke="#3d3d3d" stroke-width="2.2" stroke-linejoin="miter"/><polygon points="844.85,2371.72 856.19,2365.07 856.19,2378.37" fill="#20c0c4" stroke="#3d3d3d" stroke-width="2.2" stroke-linejoin="miter"/><polygon points="889.3,2370.46 900.64,2363.81 900.64,2377.11" fill="#20c0c4" stroke="#3d3d3d" stroke-width="2.2" stroke-linejoin="miter"/><polygon points="933.75,2370.04 945.09,2363.39 945.09,2376.69" fill="#20c0c4" stroke="#3d3d3d" stroke-width="2.2" stroke-linejoin="miter"/><polygon points="978.2,2369.2 989.54,2362.55 989.54,2375.85" fill="#20c0c4" stroke="#3d3d3d" stroke-width="2.2" stroke-linejoin="miter"/><polygon points="1022.65,2368.36 1033.99,2361.71 1033.99,2375.01" fill="#20c0c4" stroke="#3d3d3d" stroke-width="2.2" stroke-linejoin="miter"/><polygon points="1067.1,2367.1 1078.44,2360.45 1078.44,2373.75" fill="#20c0c4" stroke="#3d3d3d" stroke-width="2.2" stroke-linejoin="miter"/><polygon points="1111.55,2366.26 1122.89,2359.61 1122.89,2372.91" fill="#20c0c4" stroke="#3d3d3d" stroke-width="2.2" stroke-linejoin="miter"/><polygon points="1156,2365 1167.34,2358.35 1167.34,2371.65" fill="#20c0c4" stroke="#3d3d3d" stroke-width="2.2" stroke-linejoin="miter"/><polygon points="1200.45,2363.74 1211.79,2357.09 1211.79,2370.39" fill="#20c0c4" stroke="#3d3d3d" stroke-width="2.2" stroke-linejoin="miter"/><path d="M811.85,2376.76 C818.51,2375.92 837.77,2373.26 851.85,2371.72 C865.93,2370.18 881.48,2368.92 896.3,2367.52 C911.12,2366.12 925.93,2364.72 940.75,2363.32 C955.57,2361.92 970.38,2360.45 985.2,2359.12 C1000.02,2357.79 1014.83,2356.53 1029.65,2355.34 C1044.47,2354.15 1059.28,2353.17 1074.1,2351.98 C1088.92,2350.79 1103.73,2349.32 1118.55,2348.2 C1133.37,2347.08 1148.18,2346.17 1163,2345.26 C1177.82,2344.35 1200.04,2343.16 1207.45,2342.74" fill="none" stroke="#c8960e" stroke-width="2.8"/><polygon points="811.85,2369.56 818.69,2376.76 811.85,2383.96 805,2376.76" fill="#c8960e" stroke="#3d3d3d" stroke-width="2.2" stroke-linejoin="miter"/><polygon points="851.85,2364.52 858.69,2371.72 851.85,2378.92 845.01,2371.72" fill="#c8960e" stroke="#3d3d3d" stroke-width="2.2" stroke-linejoin="miter"/><polygon points="896.3,2360.32 903.14,2367.52 896.3,2374.72 889.46,2367.52" fill="#c8960e" stroke="#3d3d3d" stroke-width="2.2" stroke-linejoin="miter"/><polygon points="940.75,2356.12 947.59,2363.32 940.75,2370.52 933.91,2363.32" fill="#c8960e" stroke="#3d3d3d" stroke-width="2.2" stroke-linejoin="miter"/><polygon points="985.2,2351.92 992.04,2359.12 985.2,2366.32 978.36,2359.12" fill="#c8960e" stroke="#3d3d3d" stroke-width="2.2" stroke-linejoin="miter"/><polygon points="1029.65,2348.14 1036.49,2355.34 1029.65,2362.54 1022.81,2355.34" fill="#c8960e" stroke="#3d3d3d" stroke-width="2.2" stroke-linejoin="miter"/><polygon points="1074.1,2344.78 1080.94,2351.98 1074.1,2359.18 1067.26,2351.98" fill="#c8960e" stroke="#3d3d3d" stroke-width="2.2" stroke-linejoin="miter"/><polygon points="1118.55,2341 1125.39,2348.2 1118.55,2355.4 1111.71,2348.2" fill="#c8960e" stroke="#3d3d3d" stroke-width="2.2" stroke-linejoin="miter"/><polygon points="1163,2338.06 1169.84,2345.26 1163,2352.46 1156.16,2345.26" fill="#c8960e" stroke="#3d3d3d" stroke-width="2.2" stroke-linejoin="miter"/><polygon points="1207.45,2335.54 1214.29,2342.74 1207.45,2349.94 1200.61,2342.74" fill="#c8960e" stroke="#3d3d3d" stroke-width="2.2" stroke-linejoin="miter"/><path d="M811.85,2373.4 C818.51,2372 837.77,2368.08 851.85,2365 C865.93,2361.92 881.48,2358.21 896.3,2354.92 C911.12,2351.63 925.93,2348.55 940.75,2345.26 C955.57,2341.97 970.38,2338.68 985.2,2335.18 C1000.02,2331.68 1014.83,2327.83 1029.65,2324.26 C1044.47,2320.69 1059.28,2317.19 1074.1,2313.76 C1088.92,2310.33 1103.73,2307.11 1118.55,2303.68 C1133.37,2300.25 1148.18,2296.54 1163,2293.18 C1177.82,2289.82 1200.04,2285.13 1207.45,2283.52" fill="none" stroke="#a87ee0" stroke-width="2.8"/><polygon points="811.85,2380.4 818.5,2369.06 805.2,2369.06" fill="#a87ee0" stroke="#3d3d3d" stroke-width="2.2" stroke-linejoin="miter"/><polygon points="851.85,2372 858.5,2360.66 845.2,2360.66" fill="#a87ee0" stroke="#3d3d3d" stroke-width="2.2" stroke-linejoin="miter"/><polygon points="896.3,2361.92 902.95,2350.58 889.65,2350.58" fill="#a87ee0" stroke="#3d3d3d" stroke-width="2.2" stroke-linejoin="miter"/><polygon points="940.75,2352.26 947.4,2340.92 934.1,2340.92" fill="#a87ee0" stroke="#3d3d3d" stroke-width="2.2" stroke-linejoin="miter"/><polygon points="985.2,2342.18 991.85,2330.84 978.55,2330.84" fill="#a87ee0" stroke="#3d3d3d" stroke-width="2.2" stroke-linejoin="miter"/><polygon points="1029.65,2331.26 1036.3,2319.92 1023,2319.92" fill="#a87ee0" stroke="#3d3d3d" stroke-width="2.2" stroke-linejoin="miter"/><polygon points="1074.1,2320.76 1080.75,2309.42 1067.45,2309.42" fill="#a87ee0" stroke="#3d3d3d" stroke-width="2.2" stroke-linejoin="miter"/><polygon points="1118.55,2310.68 1125.2,2299.34 1111.9,2299.34" fill="#a87ee0" stroke="#3d3d3d" stroke-width="2.2" stroke-linejoin="miter"/><polygon points="1163,2300.18 1169.65,2288.84 1156.35,2288.84" fill="#a87ee0" stroke="#3d3d3d" stroke-width="2.2" stroke-linejoin="miter"/><polygon points="1207.45,2290.52 1214.1,2279.18 1200.8,2279.18" fill="#a87ee0" stroke="#3d3d3d" stroke-width="2.2" stroke-linejoin="miter"/><path d="M811.85,2363.74 C818.51,2359.96 837.77,2348.76 851.85,2341.06 C865.93,2333.36 881.48,2325.1 896.3,2317.54 C911.12,2309.98 925.93,2302.77 940.75,2295.7 C955.57,2288.63 970.38,2281.63 985.2,2275.12 C1000.02,2268.61 1014.83,2262.8 1029.65,2256.64 C1044.47,2250.48 1059.28,2244.25 1074.1,2238.16 C1088.92,2232.07 1103.73,2225.7 1118.55,2220.1 C1133.37,2214.5 1148.18,2209.67 1163,2204.56 C1177.82,2199.45 1200.04,2191.96 1207.45,2189.44" fill="none" stroke="#2ea060" stroke-width="2.8"/><polygon points="811.85,2356.74 818.5,2368.08 805.2,2368.08" fill="#2ea862" stroke="#3d3d3d" stroke-width="2.2" stroke-linejoin="miter"/><polygon points="851.85,2334.06 858.5,2345.4 845.2,2345.4" fill="#2ea862" stroke="#3d3d3d" stroke-width="2.2" stroke-linejoin="miter"/><polygon points="896.3,2310.54 902.95,2321.88 889.65,2321.88" fill="#2ea862" stroke="#3d3d3d" stroke-width="2.2" stroke-linejoin="miter"/><polygon points="940.75,2288.7 947.4,2300.04 934.1,2300.04" fill="#2ea862" stroke="#3d3d3d" stroke-width="2.2" stroke-linejoin="miter"/><polygon points="985.2,2268.12 991.85,2279.46 978.55,2279.46" fill="#2ea862" stroke="#3d3d3d" stroke-width="2.2" stroke-linejoin="miter"/><polygon points="1029.65,2249.64 1036.3,2260.98 1023,2260.98" fill="#2ea862" stroke="#3d3d3d" stroke-width="2.2" stroke-linejoin="miter"/><polygon points="1074.1,2231.16 1080.75,2242.5 1067.45,2242.5" fill="#2ea862" stroke="#3d3d3d" stroke-width="2.2" stroke-linejoin="miter"/><polygon points="1118.55,2213.1 1125.2,2224.44 1111.9,2224.44" fill="#2ea862" stroke="#3d3d3d" stroke-width="2.2" stroke-linejoin="miter"/><polygon points="1163,2197.56 1169.65,2208.9 1156.35,2208.9" fill="#2ea862" stroke="#3d3d3d" stroke-width="2.2" stroke-linejoin="miter"/><polygon points="1207.45,2182.44 1214.1,2193.78 1200.8,2193.78" fill="#2ea862" stroke="#3d3d3d" stroke-width="2.2" stroke-linejoin="miter"/><path d="M811.85,2361.64 C818.51,2354.78 837.77,2334.9 851.85,2320.48 C865.93,2306.06 881.48,2289.4 896.3,2275.12 C911.12,2260.84 925.93,2247.4 940.75,2234.8 C955.57,2222.2 970.38,2210.3 985.2,2199.52 C1000.02,2188.74 1014.83,2179.36 1029.65,2170.12 C1044.47,2160.88 1059.28,2152.34 1074.1,2144.08 C1088.92,2135.82 1103.73,2127.7 1118.55,2120.56 C1133.37,2113.42 1148.18,2107.54 1163,2101.24 C1177.82,2094.94 1200.04,2085.84 1207.45,2082.76" fill="none" stroke="#e63c3c" stroke-width="2.8"/><ellipse cx="811.85" cy="2361.64" rx="5.6" ry="6.4" fill="#e84444" stroke="#3d3d3d" stroke-width="2.2"/><ellipse cx="851.85" cy="2320.48" rx="5.6" ry="6.4" fill="#e84444" stroke="#3d3d3d" stroke-width="2.2"/><ellipse cx="896.3" cy="2275.12" rx="5.6" ry="6.4" fill="#e84444" stroke="#3d3d3d" stroke-width="2.2"/><ellipse cx="940.75" cy="2234.8" rx="5.6" ry="6.4" fill="#e84444" stroke="#3d3d3d" stroke-width="2.2"/><ellipse cx="985.2" cy="2199.52" rx="5.6" ry="6.4" fill="#e84444" stroke="#3d3d3d" stroke-width="2.2"/><ellipse cx="1029.65" cy="2170.12" rx="5.6" ry="6.4" fill="#e84444" stroke="#3d3d3d" stroke-width="2.2"/><ellipse cx="1074.1" cy="2144.08" rx="5.6" ry="6.4" fill="#e84444" stroke="#3d3d3d" stroke-width="2.2"/><ellipse cx="1118.55" cy="2120.56" rx="5.6" ry="6.4" fill="#e84444" stroke="#3d3d3d" stroke-width="2.2"/><ellipse cx="1163" cy="2101.24" rx="5.6" ry="6.4" fill="#e84444" stroke="#3d3d3d" stroke-width="2.2"/><ellipse cx="1207.45" cy="2082.76" rx="5.6" ry="6.4" fill="#e84444" stroke="#3d3d3d" stroke-width="2.2"/><path d="M811.85,2376.76 C818.51,2369.55 837.77,2349.25 851.85,2333.5 C865.93,2317.75 881.48,2299.55 896.3,2282.26 C911.12,2264.97 925.93,2246.84 940.75,2229.76 C955.57,2212.68 970.38,2196.23 985.2,2179.78 C1000.02,2163.33 1014.83,2146.81 1029.65,2131.06 C1044.47,2115.31 1059.28,2100.4 1074.1,2085.28 C1088.92,2070.16 1103.73,2054.62 1118.55,2040.34 C1133.37,2026.06 1148.18,2012.69 1163,1999.6 C1177.82,1986.51 1200.04,1968.1 1207.45,1961.8" fill="none" stroke="#1f6fdc" stroke-width="2.8"/><rect x="806.64" y="2371.56" width="10.4" height="10.4" fill="#1f6fdc" stroke="#3d3d3d" stroke-width="2.2"/><rect x="846.65" y="2328.3" width="10.4" height="10.4" fill="#1f6fdc" stroke="#3d3d3d" stroke-width="2.2"/><rect x="891.1" y="2277.06" width="10.4" height="10.4" fill="#1f6fdc" stroke="#3d3d3d" stroke-width="2.2"/><rect x="935.55" y="2224.56" width="10.4" height="10.4" fill="#1f6fdc" stroke="#3d3d3d" stroke-width="2.2"/><rect x="980" y="2174.58" width="10.4" height="10.4" fill="#1f6fdc" stroke="#3d3d3d" stroke-width="2.2"/><rect x="1024.45" y="2125.86" width="10.4" height="10.4" fill="#1f6fdc" stroke="#3d3d3d" stroke-width="2.2"/><rect x="1068.9" y="2080.08" width="10.4" height="10.4" fill="#1f6fdc" stroke="#3d3d3d" stroke-width="2.2"/><rect x="1113.35" y="2035.14" width="10.4" height="10.4" fill="#1f6fdc" stroke="#3d3d3d" stroke-width="2.2"/><rect x="1157.8" y="1994.4" width="10.4" height="10.4" fill="#1f6fdc" stroke="#3d3d3d" stroke-width="2.2"/><rect x="1202.25" y="1956.6" width="10.4" height="10.4" fill="#1f6fdc" stroke="#3d3d3d" stroke-width="2.2"/><text x="1230.5" y="1965.8" font-size="23.7">100 pM</text><text x="1230.5" y="2087.8" font-size="23.7">75 pM</text><text x="1230.5" y="2196.5" font-size="23.7">50 pM</text><text x="1230.5" y="2287" font-size="23.7">25 pM</text><text x="1230.5" y="2337.2" font-size="23.7">10 pM</text><text x="1230.5" y="2364.5" font-size="23.7">1 pM</text><text x="1230.5" y="2389.2" font-size="23.7">0 pM</text><line x1="1454.3" y1="1918.1" x2="1454.3" y2="2426.9" stroke="#000" stroke-width="3"/><line x1="1452.8" y1="1919.3" x2="1459.1" y2="1919.3" stroke="#000" stroke-width="2.5"/><line x1="1454.3" y1="1962" x2="1462.8" y2="1962" stroke="#000" stroke-width="2.5"/><text x="1445.9" y="1974" font-size="23.5" text-anchor="end">1.0</text><line x1="1454.3" y1="2046.18" x2="1462.8" y2="2046.18" stroke="#000" stroke-width="2.5"/><text x="1445.9" y="2058.18" font-size="23.5" text-anchor="end">0.8</text><line x1="1454.3" y1="2130.36" x2="1462.8" y2="2130.36" stroke="#000" stroke-width="2.5"/><text x="1445.9" y="2142.36" font-size="23.5" text-anchor="end">0.6</text><line x1="1454.3" y1="2214.54" x2="1462.8" y2="2214.54" stroke="#000" stroke-width="2.5"/><text x="1445.9" y="2226.54" font-size="23.5" text-anchor="end">0.4</text><line x1="1454.3" y1="2298.72" x2="1462.8" y2="2298.72" stroke="#000" stroke-width="2.5"/><text x="1445.9" y="2310.72" font-size="23.5" text-anchor="end">0.2</text><line x1="1454.3" y1="2382.9" x2="1462.8" y2="2382.9" stroke="#000" stroke-width="2.5"/><text x="1445.9" y="2394.9" font-size="23.5" text-anchor="end">0.0</text><line x1="1452.8" y1="2425.4" x2="1996" y2="2425.4" stroke="#000" stroke-width="3"/><line x1="1500.3" y1="2425.4" x2="1500.3" y2="2415.9" stroke="#000" stroke-width="2.5"/><text x="1500.3" y="2458.8" font-size="23.5" text-anchor="middle">0</text><line x1="1593.5" y1="2425.4" x2="1593.5" y2="2415.9" stroke="#000" stroke-width="2.5"/><text x="1593.5" y="2458.8" font-size="23.5" text-anchor="middle">20</text><line x1="1686.7" y1="2425.4" x2="1686.7" y2="2415.9" stroke="#000" stroke-width="2.5"/><text x="1686.7" y="2458.8" font-size="23.5" text-anchor="middle">40</text><line x1="1779.9" y1="2425.4" x2="1779.9" y2="2415.9" stroke="#000" stroke-width="2.5"/><text x="1779.9" y="2458.8" font-size="23.5" text-anchor="middle">60</text><line x1="1873.1" y1="2425.4" x2="1873.1" y2="2415.9" stroke="#000" stroke-width="2.5"/><text x="1873.1" y="2458.8" font-size="23.5" text-anchor="middle">80</text><line x1="1966.3" y1="2425.4" x2="1966.3" y2="2415.9" stroke="#000" stroke-width="2.5"/><text x="1966.3" y="2458.8" font-size="23.5" text-anchor="middle">100</text><line x1="1546.9" y1="2425.4" x2="1546.9" y2="2420.6" stroke="#000" stroke-width="2.5"/><line x1="1640.1" y1="2425.4" x2="1640.1" y2="2420.6" stroke="#000" stroke-width="2.5"/><line x1="1733.3" y1="2425.4" x2="1733.3" y2="2420.6" stroke="#000" stroke-width="2.5"/><line x1="1826.5" y1="2425.4" x2="1826.5" y2="2420.6" stroke="#000" stroke-width="2.5"/><line x1="1919.7" y1="2425.4" x2="1919.7" y2="2420.6" stroke="#000" stroke-width="2.5"/><text x="1735" y="2490.6" font-size="26.8" text-anchor="middle">Concentration (pM)</text><text transform="translate(1362,2167.8) rotate(-90)" font-size="26.8" text-anchor="middle">Fluorescence growth rate</text><text transform="translate(1397,2166.8) rotate(-90)" font-size="26.8" text-anchor="middle">relative to [100 pM]</text><text x="1484.3" y="1966" font-size="27.2">R<tspan font-size="16.5" dy="-10.2">2</tspan><tspan dy="10.2">=0.99</tspan></text><line x1="1504.96" y1="2363.66" x2="1966.3" y2="2020.93" stroke="#e63c3c" stroke-width="2.6"/><rect x="1495.1" y="2367.18" width="10.4" height="10.4" fill="#e63c3c" stroke="#333" stroke-width="2.2"/><rect x="1499.76" y="2357.92" width="10.4" height="10.4" fill="#e63c3c" stroke="#333" stroke-width="2.2"/><rect x="1541.7" y="2337.71" width="10.4" height="10.4" fill="#e63c3c" stroke="#333" stroke-width="2.2"/><line x1="1616.8" y1="2314.29" x2="1616.8" y2="2264.63" stroke="#333" stroke-width="2.6"/><line x1="1611.8" y1="2314.29" x2="1621.8" y2="2314.29" stroke="#333" stroke-width="2.6"/><line x1="1611.8" y1="2264.63" x2="1621.8" y2="2264.63" stroke="#333" stroke-width="2.6"/><rect x="1611.6" y="2284.26" width="10.4" height="10.4" fill="#e63c3c" stroke="#333" stroke-width="2.2"/><line x1="1733.3" y1="2217.91" x2="1733.3" y2="2193.49" stroke="#333" stroke-width="2.6"/><line x1="1728.3" y1="2217.91" x2="1738.3" y2="2217.91" stroke="#333" stroke-width="2.6"/><line x1="1728.3" y1="2193.49" x2="1738.3" y2="2193.49" stroke="#333" stroke-width="2.6"/><rect x="1728.1" y="2200.5" width="10.4" height="10.4" fill="#e63c3c" stroke="#333" stroke-width="2.2"/><rect x="1844.6" y="2102.43" width="10.4" height="10.4" fill="#e63c3c" stroke="#333" stroke-width="2.2"/><line x1="1966.3" y1="2027.66" x2="1966.3" y2="1964.53" stroke="#333" stroke-width="2.6"/><line x1="1961.3" y1="2027.66" x2="1971.3" y2="2027.66" stroke="#333" stroke-width="2.6"/><line x1="1961.3" y1="1964.53" x2="1971.3" y2="1964.53" stroke="#333" stroke-width="2.6"/><rect x="1961.1" y="1991.73" width="10.4" height="10.4" fill="#e63c3c" stroke="#333" stroke-width="2.2"/><text x="1" y="1311.4" font-size="40" font-weight="bold">b</text><text x="1" y="1906.8" font-size="40" font-weight="bold">c</text><text x="682" y="1905.7" font-size="40" font-weight="bold">d</text><text x="1368.5" y="1906.7" font-size="40" font-weight="bold">e</text></svg></body></html>
